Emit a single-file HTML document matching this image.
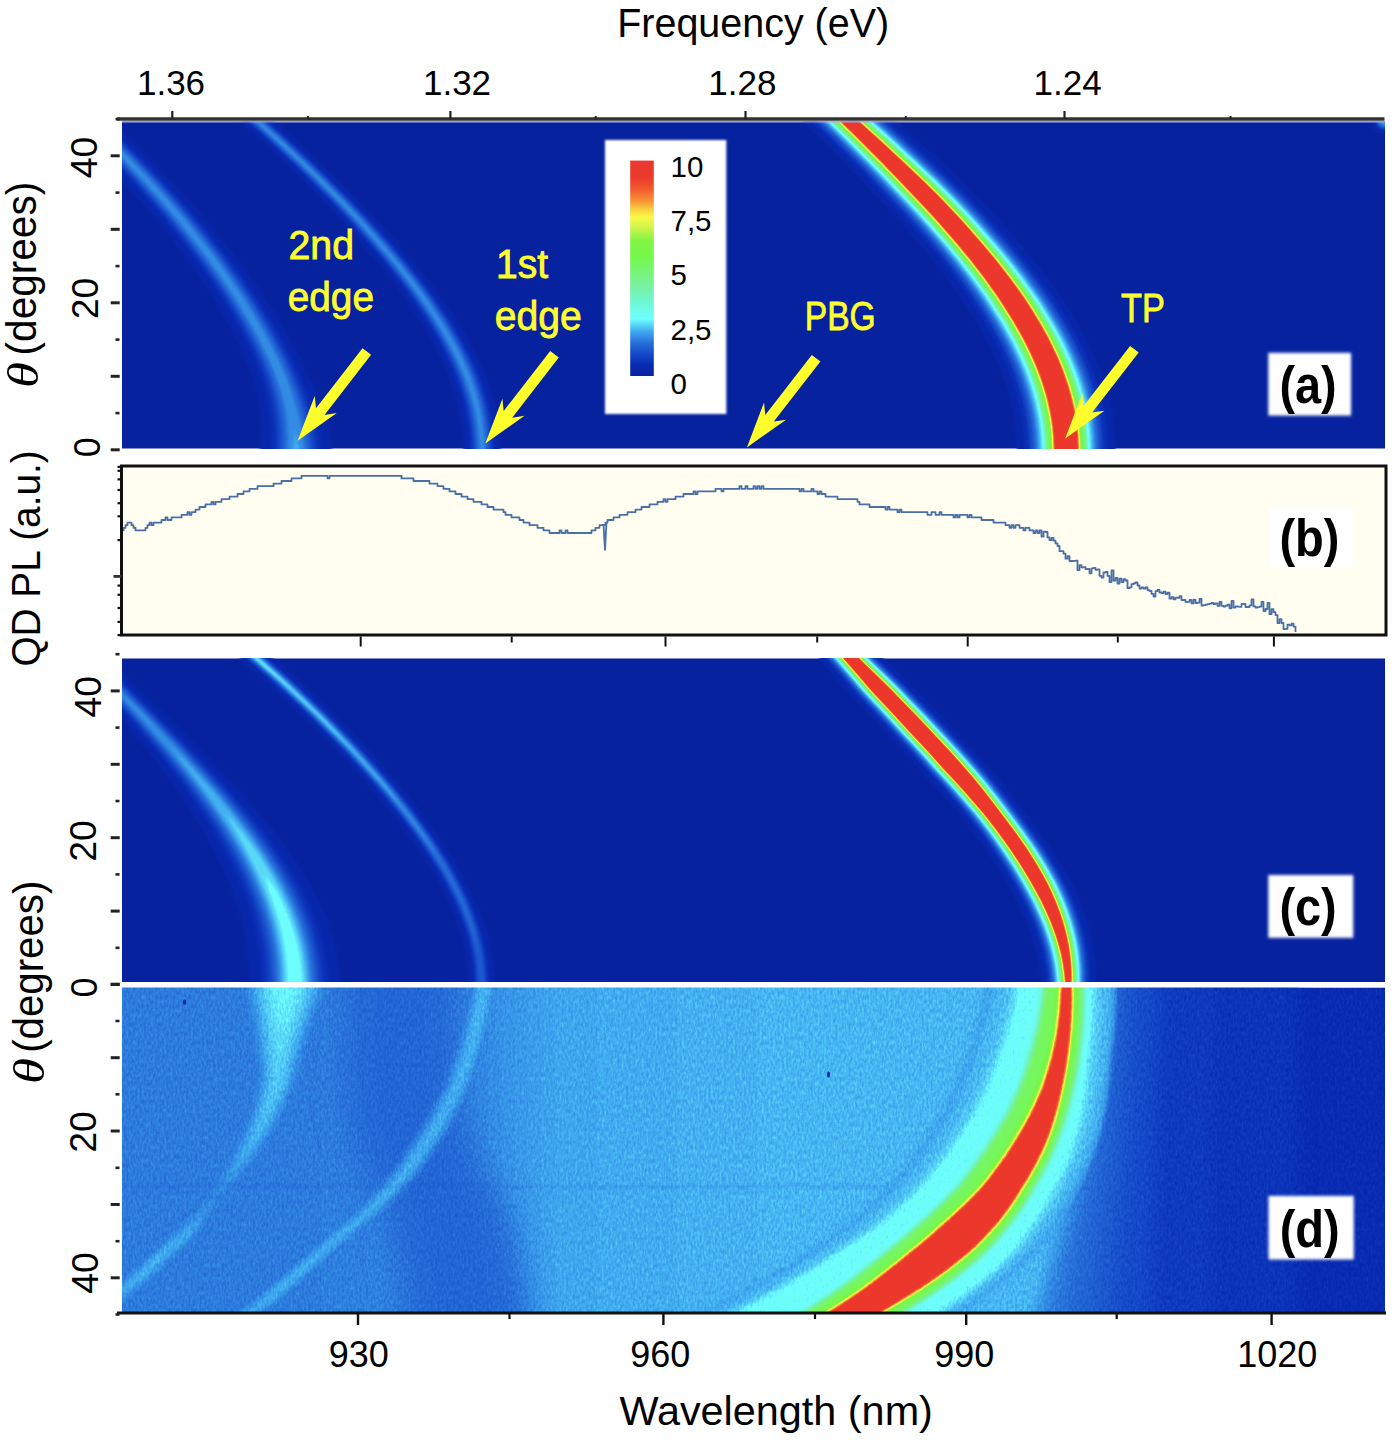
<!DOCTYPE html><html><head><meta charset="utf-8"><title>Figure</title><style>html,body{margin:0;padding:0;background:#fff;}svg{display:block;}</style></head><body><svg width="1395" height="1440" viewBox="0 0 1395 1440"><defs><filter id="jA" filterUnits="userSpaceOnUse" x="122.0" y="121.5" width="1263.0" height="327.0" color-interpolation-filters="sRGB"><feComponentTransfer><feFuncR type="table" tableValues="0.027 0.028 0.029 0.029 0.03 0.031 0.031 0.036 0.043 0.05 0.058 0.065 0.073 0.081 0.092 0.103 0.113 0.124 0.135 0.146 0.157 0.172 0.186 0.201 0.215 0.229 0.244 0.263 0.288 0.312 0.336 0.36 0.385 0.409 0.431 0.431 0.431 0.431 0.431 0.431 0.431 0.431 0.431 0.431 0.434 0.437 0.441 0.444 0.447 0.451 0.454 0.457 0.461 0.463 0.463 0.463 0.463 0.463 0.463 0.463 0.463 0.463 0.463 0.463 0.463 0.463 0.463 0.463 0.463 0.463 0.463 0.463 0.466 0.47 0.475 0.479 0.483 0.487 0.491 0.496 0.5 0.522 0.562 0.603 0.644 0.685 0.725 0.766 0.806 0.833 0.86 0.887 0.914 0.941 0.968 0.98 0.98 0.98 0.98 0.98 0.98 0.98 0.98 0.98 0.979 0.974 0.969 0.965 0.96 0.955 0.951 0.947 0.943 0.939 0.935 0.932 0.928 0.924 0.922 0.922 0.922 0.922 0.922 0.922 0.922 0.922 0.922 0.922 0.922"/><feFuncG type="table" tableValues="0.137 0.142 0.146 0.15 0.154 0.159 0.163 0.176 0.194 0.212 0.231 0.249 0.268 0.287 0.31 0.333 0.356 0.379 0.402 0.425 0.448 0.482 0.515 0.549 0.583 0.616 0.65 0.689 0.734 0.779 0.824 0.869 0.914 0.959 1 0.997 0.995 0.992 0.989 0.986 0.983 0.98 0.977 0.973 0.971 0.968 0.966 0.963 0.961 0.958 0.956 0.953 0.951 0.95 0.951 0.953 0.955 0.956 0.958 0.96 0.961 0.963 0.965 0.966 0.966 0.967 0.968 0.969 0.97 0.971 0.972 0.972 0.972 0.971 0.97 0.969 0.968 0.968 0.967 0.966 0.965 0.964 0.963 0.962 0.961 0.96 0.959 0.958 0.957 0.961 0.964 0.968 0.972 0.975 0.979 0.96 0.923 0.886 0.849 0.811 0.765 0.717 0.669 0.621 0.578 0.546 0.514 0.483 0.451 0.419 0.387 0.363 0.343 0.323 0.303 0.283 0.263 0.243 0.227 0.226 0.225 0.224 0.223 0.221 0.22 0.219 0.218 0.217 0.216"/><feFuncB type="table" tableValues="0.627 0.638 0.65 0.661 0.672 0.683 0.694 0.706 0.72 0.733 0.747 0.76 0.774 0.786 0.796 0.806 0.816 0.826 0.836 0.845 0.855 0.869 0.882 0.895 0.908 0.921 0.935 0.945 0.953 0.961 0.969 0.977 0.985 0.993 0.999 0.982 0.965 0.949 0.932 0.915 0.898 0.881 0.865 0.848 0.828 0.807 0.786 0.765 0.744 0.723 0.702 0.681 0.66 0.639 0.62 0.6 0.58 0.56 0.541 0.521 0.501 0.482 0.462 0.444 0.425 0.407 0.389 0.37 0.352 0.334 0.315 0.297 0.291 0.287 0.283 0.28 0.276 0.272 0.268 0.265 0.261 0.261 0.266 0.271 0.275 0.28 0.285 0.29 0.294 0.292 0.29 0.289 0.287 0.285 0.283 0.279 0.272 0.266 0.259 0.252 0.243 0.232 0.222 0.211 0.203 0.199 0.196 0.192 0.189 0.185 0.182 0.18 0.179 0.178 0.177 0.175 0.174 0.173 0.173 0.173 0.173 0.174 0.174 0.175 0.175 0.175 0.176 0.176 0.176"/></feComponentTransfer></filter><filter id="jC" filterUnits="userSpaceOnUse" x="122.0" y="658.5" width="1263.0" height="323.5" color-interpolation-filters="sRGB"><feComponentTransfer><feFuncR type="table" tableValues="0.027 0.028 0.029 0.029 0.03 0.031 0.031 0.036 0.043 0.05 0.058 0.065 0.073 0.081 0.092 0.103 0.113 0.124 0.135 0.146 0.157 0.172 0.186 0.201 0.215 0.229 0.244 0.263 0.288 0.312 0.336 0.36 0.385 0.409 0.431 0.431 0.431 0.431 0.431 0.431 0.431 0.431 0.431 0.431 0.434 0.437 0.441 0.444 0.447 0.451 0.454 0.457 0.461 0.463 0.463 0.463 0.463 0.463 0.463 0.463 0.463 0.463 0.463 0.463 0.463 0.463 0.463 0.463 0.463 0.463 0.463 0.463 0.466 0.47 0.475 0.479 0.483 0.487 0.491 0.496 0.5 0.522 0.562 0.603 0.644 0.685 0.725 0.766 0.806 0.833 0.86 0.887 0.914 0.941 0.968 0.98 0.98 0.98 0.98 0.98 0.98 0.98 0.98 0.98 0.979 0.974 0.969 0.965 0.96 0.955 0.951 0.947 0.943 0.939 0.935 0.932 0.928 0.924 0.922 0.922 0.922 0.922 0.922 0.922 0.922 0.922 0.922 0.922 0.922"/><feFuncG type="table" tableValues="0.137 0.142 0.146 0.15 0.154 0.159 0.163 0.176 0.194 0.212 0.231 0.249 0.268 0.287 0.31 0.333 0.356 0.379 0.402 0.425 0.448 0.482 0.515 0.549 0.583 0.616 0.65 0.689 0.734 0.779 0.824 0.869 0.914 0.959 1 0.997 0.995 0.992 0.989 0.986 0.983 0.98 0.977 0.973 0.971 0.968 0.966 0.963 0.961 0.958 0.956 0.953 0.951 0.95 0.951 0.953 0.955 0.956 0.958 0.96 0.961 0.963 0.965 0.966 0.966 0.967 0.968 0.969 0.97 0.971 0.972 0.972 0.972 0.971 0.97 0.969 0.968 0.968 0.967 0.966 0.965 0.964 0.963 0.962 0.961 0.96 0.959 0.958 0.957 0.961 0.964 0.968 0.972 0.975 0.979 0.96 0.923 0.886 0.849 0.811 0.765 0.717 0.669 0.621 0.578 0.546 0.514 0.483 0.451 0.419 0.387 0.363 0.343 0.323 0.303 0.283 0.263 0.243 0.227 0.226 0.225 0.224 0.223 0.221 0.22 0.219 0.218 0.217 0.216"/><feFuncB type="table" tableValues="0.627 0.638 0.65 0.661 0.672 0.683 0.694 0.706 0.72 0.733 0.747 0.76 0.774 0.786 0.796 0.806 0.816 0.826 0.836 0.845 0.855 0.869 0.882 0.895 0.908 0.921 0.935 0.945 0.953 0.961 0.969 0.977 0.985 0.993 0.999 0.982 0.965 0.949 0.932 0.915 0.898 0.881 0.865 0.848 0.828 0.807 0.786 0.765 0.744 0.723 0.702 0.681 0.66 0.639 0.62 0.6 0.58 0.56 0.541 0.521 0.501 0.482 0.462 0.444 0.425 0.407 0.389 0.37 0.352 0.334 0.315 0.297 0.291 0.287 0.283 0.28 0.276 0.272 0.268 0.265 0.261 0.261 0.266 0.271 0.275 0.28 0.285 0.29 0.294 0.292 0.29 0.289 0.287 0.285 0.283 0.279 0.272 0.266 0.259 0.252 0.243 0.232 0.222 0.211 0.203 0.199 0.196 0.192 0.189 0.185 0.182 0.18 0.179 0.178 0.177 0.175 0.174 0.173 0.173 0.173 0.173 0.174 0.174 0.175 0.175 0.175 0.176 0.176 0.176"/></feComponentTransfer></filter><filter id="jD" filterUnits="userSpaceOnUse" x="122.0" y="987.5" width="1263.0" height="324.5" color-interpolation-filters="sRGB"><feTurbulence type="fractalNoise" baseFrequency="0.45 0.22" numOctaves="2" seed="4" result="n"/><feColorMatrix in="n" type="matrix" values="1 0 0 0 0 1 0 0 0 0 1 0 0 0 0 0 0 0 0 1" result="ng"/><feComposite in="SourceGraphic" in2="ng" operator="arithmetic" k1="0" k2="1" k3="0.06" k4="-0.03" result="s"/><feComponentTransfer><feFuncR type="table" tableValues="0.027 0.028 0.029 0.029 0.03 0.031 0.031 0.036 0.043 0.05 0.058 0.065 0.073 0.081 0.092 0.103 0.113 0.124 0.135 0.146 0.157 0.172 0.186 0.201 0.215 0.229 0.244 0.263 0.288 0.312 0.336 0.36 0.385 0.409 0.431 0.431 0.431 0.431 0.431 0.431 0.431 0.431 0.431 0.431 0.434 0.437 0.441 0.444 0.447 0.451 0.454 0.457 0.461 0.463 0.463 0.463 0.463 0.463 0.463 0.463 0.463 0.463 0.463 0.463 0.463 0.463 0.463 0.463 0.463 0.463 0.463 0.463 0.466 0.47 0.475 0.479 0.483 0.487 0.491 0.496 0.5 0.522 0.562 0.603 0.644 0.685 0.725 0.766 0.806 0.833 0.86 0.887 0.914 0.941 0.968 0.98 0.98 0.98 0.98 0.98 0.98 0.98 0.98 0.98 0.979 0.974 0.969 0.965 0.96 0.955 0.951 0.947 0.943 0.939 0.935 0.932 0.928 0.924 0.922 0.922 0.922 0.922 0.922 0.922 0.922 0.922 0.922 0.922 0.922"/><feFuncG type="table" tableValues="0.137 0.142 0.146 0.15 0.154 0.159 0.163 0.176 0.194 0.212 0.231 0.249 0.268 0.287 0.31 0.333 0.356 0.379 0.402 0.425 0.448 0.482 0.515 0.549 0.583 0.616 0.65 0.689 0.734 0.779 0.824 0.869 0.914 0.959 1 0.997 0.995 0.992 0.989 0.986 0.983 0.98 0.977 0.973 0.971 0.968 0.966 0.963 0.961 0.958 0.956 0.953 0.951 0.95 0.951 0.953 0.955 0.956 0.958 0.96 0.961 0.963 0.965 0.966 0.966 0.967 0.968 0.969 0.97 0.971 0.972 0.972 0.972 0.971 0.97 0.969 0.968 0.968 0.967 0.966 0.965 0.964 0.963 0.962 0.961 0.96 0.959 0.958 0.957 0.961 0.964 0.968 0.972 0.975 0.979 0.96 0.923 0.886 0.849 0.811 0.765 0.717 0.669 0.621 0.578 0.546 0.514 0.483 0.451 0.419 0.387 0.363 0.343 0.323 0.303 0.283 0.263 0.243 0.227 0.226 0.225 0.224 0.223 0.221 0.22 0.219 0.218 0.217 0.216"/><feFuncB type="table" tableValues="0.627 0.638 0.65 0.661 0.672 0.683 0.694 0.706 0.72 0.733 0.747 0.76 0.774 0.786 0.796 0.806 0.816 0.826 0.836 0.845 0.855 0.869 0.882 0.895 0.908 0.921 0.935 0.945 0.953 0.961 0.969 0.977 0.985 0.993 0.999 0.982 0.965 0.949 0.932 0.915 0.898 0.881 0.865 0.848 0.828 0.807 0.786 0.765 0.744 0.723 0.702 0.681 0.66 0.639 0.62 0.6 0.58 0.56 0.541 0.521 0.501 0.482 0.462 0.444 0.425 0.407 0.389 0.37 0.352 0.334 0.315 0.297 0.291 0.287 0.283 0.28 0.276 0.272 0.268 0.265 0.261 0.261 0.266 0.271 0.275 0.28 0.285 0.29 0.294 0.292 0.29 0.289 0.287 0.285 0.283 0.279 0.272 0.266 0.259 0.252 0.243 0.232 0.222 0.211 0.203 0.199 0.196 0.192 0.189 0.185 0.182 0.18 0.179 0.178 0.177 0.175 0.174 0.173 0.173 0.173 0.173 0.174 0.174 0.175 0.175 0.175 0.176 0.176 0.176"/></feComponentTransfer></filter><filter id="b1" filterUnits="userSpaceOnUse" x="0" y="0" width="1395" height="1440" color-interpolation-filters="sRGB"><feGaussianBlur stdDeviation="1.0"/></filter><filter id="b15" filterUnits="userSpaceOnUse" x="0" y="0" width="1395" height="1440" color-interpolation-filters="sRGB"><feGaussianBlur stdDeviation="1.5"/></filter><filter id="b2" filterUnits="userSpaceOnUse" x="0" y="0" width="1395" height="1440" color-interpolation-filters="sRGB"><feGaussianBlur stdDeviation="2.0"/></filter><filter id="b3" filterUnits="userSpaceOnUse" x="0" y="0" width="1395" height="1440" color-interpolation-filters="sRGB"><feGaussianBlur stdDeviation="3.0"/></filter><filter id="b5" filterUnits="userSpaceOnUse" x="0" y="0" width="1395" height="1440" color-interpolation-filters="sRGB"><feGaussianBlur stdDeviation="5.0"/></filter><filter id="b8" filterUnits="userSpaceOnUse" x="0" y="0" width="1395" height="1440" color-interpolation-filters="sRGB"><feGaussianBlur stdDeviation="8.0"/></filter><filter id="b12" filterUnits="userSpaceOnUse" x="0" y="0" width="1395" height="1440" color-interpolation-filters="sRGB"><feGaussianBlur stdDeviation="12.0"/></filter><linearGradient id="gbase" gradientUnits="userSpaceOnUse" x1="122" y1="0" x2="1000" y2="0"><stop offset="0" stop-color="#2a2a2a"/><stop offset="0.2" stop-color="#2a2a2a"/><stop offset="0.41" stop-color="#2e2e2e"/><stop offset="0.5" stop-color="#343434"/><stop offset="0.77" stop-color="#373737"/><stop offset="1" stop-color="#373737"/></linearGradient><filter id="soft" x="-20%" y="-20%" width="140%" height="140%"><feGaussianBlur stdDeviation="1.6"/></filter><filter id="soft2" x="-20%" y="-20%" width="140%" height="140%"><feGaussianBlur stdDeviation="0.8"/></filter><linearGradient id="cbar" x1="0" y1="1" x2="0" y2="0"><stop offset="0.000" stop-color="rgb(7,35,160)"/><stop offset="0.050" stop-color="rgb(8,42,178)"/><stop offset="0.100" stop-color="rgb(20,72,200)"/><stop offset="0.156" stop-color="rgb(40,114,218)"/><stop offset="0.207" stop-color="rgb(64,170,240)"/><stop offset="0.265" stop-color="rgb(110,255,255)"/><stop offset="0.300" stop-color="rgb(110,252,236)"/><stop offset="0.338" stop-color="rgb(110,248,215)"/><stop offset="0.411" stop-color="rgb(118,242,165)"/><stop offset="0.484" stop-color="rgb(118,246,118)"/><stop offset="0.556" stop-color="rgb(118,248,75)"/><stop offset="0.629" stop-color="rgb(128,246,66)"/><stop offset="0.687" stop-color="rgb(205,244,75)"/><stop offset="0.738" stop-color="rgb(250,250,72)"/><stop offset="0.775" stop-color="rgb(250,205,64)"/><stop offset="0.810" stop-color="rgb(250,150,52)"/><stop offset="0.862" stop-color="rgb(242,96,46)"/><stop offset="0.920" stop-color="rgb(235,58,44)"/><stop offset="1.000" stop-color="rgb(235,55,45)"/></linearGradient></defs><rect width="1395" height="1440" fill="#fff"/><g filter="url(#jA)"><rect x="122.0" y="121.5" width="1263.0" height="327.0" fill="#000"/><g filter="url(#b15)"><path d="M259.1,464.5 259.6,455.6 260.1,446.7 260.9,437.8 261.1,428.9 260.9,420.1 260.2,411.2 259.1,402.3 257.4,393.4 255.3,384.5 252.8,375.6 249.5,366.7 245.8,357.8 241.8,349.0 237.5,340.1 233.0,331.2 228.3,322.3 223.3,313.4 218.1,304.5 212.6,295.6 206.8,286.7 200.8,277.8 194.7,269.0 188.3,260.1 181.8,251.2 175.1,242.3 168.2,233.4 161.1,224.5 153.9,215.6 146.5,206.7 138.9,197.8 131.1,189.0 123.1,180.1 115.0,171.2 106.6,162.3 98.1,153.4 89.4,144.5 80.5,135.6 71.4,126.7 62.0,117.9 52.4,109.0 42.5,100.1 32.4,91.2 22.2,82.3 67.3,82.3 77.5,91.2 87.6,100.1 97.5,109.0 107.1,117.9 116.7,126.7 126.0,135.6 135.2,144.5 144.2,153.4 152.9,162.3 161.5,171.2 169.9,180.1 178.1,189.0 186.2,197.8 194.0,206.7 201.7,215.6 209.2,224.5 216.5,233.4 223.6,242.3 230.6,251.2 237.3,260.1 243.9,269.0 250.4,277.8 256.6,286.7 262.6,295.6 268.5,304.5 274.3,313.4 279.9,322.3 285.2,331.2 290.3,340.1 295.2,349.0 299.8,357.8 304.1,366.7 308.1,375.6 312.3,384.5 316.2,393.4 319.8,402.3 323.0,411.2 325.9,420.1 328.3,428.9 330.3,437.8 331.8,446.7 332.2,455.6 331.6,464.5Z" fill="#080808"/><path d="M268.9,464.5 269.5,455.6 269.8,446.7 270.3,437.8 270.3,428.9 269.8,420.1 268.9,411.2 267.5,402.3 265.6,393.4 263.2,384.5 260.5,375.6 257.0,366.7 253.3,357.8 249.2,349.0 244.9,340.1 240.3,331.2 235.4,322.3 230.4,313.4 225.1,304.5 219.5,295.6 213.7,286.7 207.7,277.8 201.5,269.0 195.1,260.1 188.6,251.2 181.8,242.3 174.9,233.4 167.8,224.5 160.5,215.6 153.1,206.7 145.4,197.8 137.6,189.0 129.6,180.1 121.5,171.2 113.1,162.3 104.5,153.4 95.8,144.5 86.8,135.6 77.7,126.7 68.3,117.9 58.7,109.0 48.8,100.1 38.7,91.2 28.4,82.3 61.0,82.3 71.3,91.2 81.3,100.1 91.2,109.0 100.8,117.9 110.4,126.7 119.7,135.6 128.8,144.5 137.8,153.4 146.5,162.3 155.0,171.2 163.4,180.1 171.6,189.0 179.6,197.8 187.4,206.7 195.0,215.6 202.5,224.5 209.8,233.4 216.9,242.3 223.8,251.2 230.5,260.1 237.1,269.0 243.5,277.8 249.7,286.7 255.7,295.6 261.5,304.5 267.2,313.4 272.7,322.3 278.0,331.2 283.0,340.1 287.8,349.0 292.3,357.8 296.5,366.7 300.4,375.6 304.4,384.5 308.1,393.4 311.3,402.3 314.3,411.2 316.9,420.1 319.1,428.9 320.9,437.8 322.1,446.7 322.4,455.6 321.8,464.5Z" fill="#0f0f0f"/><path d="M274.7,464.5 275.2,455.6 275.6,446.7 275.9,437.8 275.8,428.9 275.2,420.1 274.1,411.2 272.5,402.3 270.4,393.4 267.9,384.5 265.1,375.6 261.6,366.7 257.7,357.8 253.6,349.0 249.2,340.1 244.6,331.2 239.7,322.3 234.6,313.4 229.3,304.5 223.7,295.6 217.8,286.7 211.8,277.8 205.6,269.0 199.2,260.1 192.6,251.2 185.9,242.3 178.9,233.4 171.8,224.5 164.5,215.6 157.0,206.7 149.4,197.8 141.5,189.0 133.5,180.1 125.3,171.2 116.9,162.3 108.4,153.4 99.6,144.5 90.6,135.6 81.4,126.7 72.1,117.9 62.4,109.0 52.6,100.1 42.5,91.2 32.2,82.3 57.2,82.3 67.5,91.2 77.6,100.1 87.4,109.0 97.1,117.9 106.6,126.7 115.9,135.6 125.0,144.5 133.9,153.4 142.6,162.3 151.2,171.2 159.5,180.1 167.7,189.0 175.6,197.8 183.4,206.7 191.1,215.6 198.5,224.5 205.8,233.4 212.8,242.3 219.7,251.2 226.5,260.1 233.0,269.0 239.4,277.8 245.5,286.7 251.5,295.6 257.3,304.5 263.0,313.4 268.4,322.3 273.7,331.2 278.6,340.1 283.4,349.0 287.8,357.8 292.0,366.7 295.9,375.6 299.7,384.5 303.2,393.4 306.3,402.3 309.1,411.2 311.6,420.1 313.7,428.9 315.3,437.8 316.4,446.7 316.6,455.6 316.1,464.5Z" fill="#171717"/><path d="M279.1,464.5 279.6,455.6 279.9,446.7 280.2,437.8 279.9,428.9 279.2,420.1 278.1,411.2 276.4,402.3 274.2,393.4 271.6,384.5 268.6,375.6 265.1,366.7 261.2,357.8 257.1,349.0 252.6,340.1 248.0,331.2 243.0,322.3 237.9,313.4 232.5,304.5 226.9,295.6 221.0,286.7 215.0,277.8 208.8,269.0 202.3,260.1 195.8,251.2 189.0,242.3 182.0,233.4 174.9,224.5 167.6,215.6 160.1,206.7 152.4,197.8 144.6,189.0 136.5,180.1 128.3,171.2 119.9,162.3 111.3,153.4 102.5,144.5 93.5,135.6 84.4,126.7 75.0,117.9 65.3,109.0 55.5,100.1 45.4,91.2 35.1,82.3 54.3,82.3 64.6,91.2 74.7,100.1 84.5,109.0 94.2,117.9 103.7,126.7 113.0,135.6 122.1,144.5 131.0,153.4 139.7,162.3 148.2,171.2 156.5,180.1 164.6,189.0 172.6,197.8 180.4,206.7 188.0,215.6 195.4,224.5 202.6,233.4 209.7,242.3 216.6,251.2 223.3,260.1 229.8,269.0 236.2,277.8 242.3,286.7 248.3,295.6 254.1,304.5 259.7,313.4 265.1,322.3 270.3,331.2 275.2,340.1 279.9,349.0 284.4,357.8 288.5,366.7 292.3,375.6 296.0,384.5 299.4,393.4 302.4,402.3 305.2,411.2 307.6,420.1 309.5,428.9 311.0,437.8 312.0,446.7 312.2,455.6 311.7,464.5Z" fill="#1f1f1f"/><path d="M282.9,464.5 283.5,455.6 283.8,446.7 283.9,437.8 283.6,428.9 282.9,420.1 281.7,411.2 279.9,402.3 277.6,393.4 274.9,384.5 271.8,375.6 268.3,366.7 264.4,357.8 260.2,349.0 255.7,340.1 251.0,331.2 246.0,322.3 240.9,313.4 235.5,304.5 229.8,295.6 223.9,286.7 217.9,277.8 211.6,269.0 205.2,260.1 198.6,251.2 191.8,242.3 184.8,233.4 177.7,224.5 170.4,215.6 162.9,206.7 155.2,197.8 147.3,189.0 139.3,180.1 131.1,171.2 122.6,162.3 114.0,153.4 105.2,144.5 96.2,135.6 87.0,126.7 77.6,117.9 68.0,109.0 58.1,100.1 48.0,91.2 37.8,82.3 51.7,82.3 61.9,91.2 72.0,100.1 81.9,109.0 91.5,117.9 101.0,126.7 110.3,135.6 119.4,144.5 128.2,153.4 136.9,162.3 145.4,171.2 153.8,180.1 161.9,189.0 169.8,197.8 177.6,206.7 185.2,215.6 192.6,224.5 199.8,233.4 206.9,242.3 213.7,251.2 220.4,260.1 226.9,269.0 233.3,277.8 239.4,286.7 245.4,295.6 251.1,304.5 256.7,313.4 262.1,322.3 267.3,331.2 272.2,340.1 276.8,349.0 281.2,357.8 285.3,366.7 289.1,375.6 292.7,384.5 296.0,393.4 298.9,402.3 301.6,411.2 303.9,420.1 305.8,428.9 307.2,437.8 308.2,446.7 308.3,455.6 307.8,464.5Z" fill="#262626"/><path d="M286.8,464.5 287.4,455.6 287.6,446.7 287.8,437.8 287.5,428.9 286.8,420.1 285.6,411.2 283.8,402.3 281.4,393.4 278.6,384.5 275.4,375.6 271.8,366.7 267.8,357.8 263.6,349.0 259.1,340.1 254.4,331.2 249.4,322.3 244.1,313.4 238.7,304.5 233.0,295.6 227.2,286.7 221.1,277.8 214.8,269.0 208.4,260.1 201.8,251.2 195.0,242.3 188.0,233.4 180.8,224.5 173.5,215.6 166.0,206.7 158.3,197.8 150.4,189.0 142.3,180.1 134.1,171.2 125.7,162.3 117.1,153.4 108.2,144.5 99.2,135.6 90.0,126.7 80.6,117.9 70.9,109.0 61.1,100.1 51.0,91.2 40.7,82.3 48.7,82.3 59.0,91.2 69.0,100.1 78.9,109.0 88.6,117.9 98.0,126.7 107.3,135.6 116.4,144.5 125.2,153.4 133.9,162.3 142.4,171.2 150.7,180.1 158.8,189.0 166.7,197.8 174.5,206.7 182.1,215.6 189.5,224.5 196.7,233.4 203.7,242.3 210.6,251.2 217.3,260.1 223.8,269.0 230.1,277.8 236.2,286.7 242.1,295.6 247.9,304.5 253.4,313.4 258.8,322.3 263.9,331.2 268.8,340.1 273.4,349.0 277.7,357.8 281.8,366.7 285.6,375.6 289.1,384.5 292.2,393.4 295.0,402.3 297.7,411.2 300.0,420.1 301.9,428.9 303.3,437.8 304.3,446.7 304.4,455.6 303.9,464.5Z" fill="#2e2e2e"/><path d="M292.3,464.5 292.9,455.6 293.3,446.7 294.3,437.8 294.7,428.9 293.4,420.1 291.6,411.2 289.4,402.3 286.8,393.4 283.8,384.5 280.5,375.6 276.8,366.7 272.8,357.8 268.5,349.0 263.9,340.1 259.1,331.2 254.1,322.3 248.8,313.4 243.3,304.5 237.6,295.6 231.7,286.7 225.6,277.8 219.3,269.0 212.8,260.1 206.2,251.2 199.3,242.3 192.3,233.4 185.1,224.5 177.8,215.6 170.2,206.7 162.5,197.8 154.6,189.0 146.5,180.1 138.2,171.2 129.8,162.3 121.1,153.4 112.3,144.5 103.3,135.6 94.0,126.7 84.6,117.9 74.9,109.0 65.1,100.1 55.0,91.2 44.7,82.3 44.7,82.3 55.0,91.2 65.1,100.1 74.9,109.0 84.6,117.9 94.0,126.7 103.3,135.6 112.3,144.5 121.1,153.4 129.8,162.3 138.2,171.2 146.5,180.1 154.6,189.0 162.5,197.8 170.2,206.7 177.8,215.6 185.1,224.5 192.3,233.4 199.3,242.3 206.2,251.2 212.8,260.1 219.3,269.0 225.6,277.8 231.7,286.7 237.6,295.6 243.3,304.5 248.8,313.4 254.1,322.3 259.1,331.2 263.9,340.1 268.5,349.0 272.8,357.8 276.8,366.7 280.5,375.6 283.8,384.5 286.8,393.4 289.4,402.3 291.6,411.2 293.4,420.1 294.7,428.9 296.9,437.8 298.7,446.7 299.0,455.6 298.4,464.5Z" fill="#363636"/></g><g filter="url(#b15)"><path d="M463.0,464.5 463.5,455.6 463.5,446.7 463.2,437.8 462.4,428.9 461.2,420.1 459.5,411.2 457.4,402.3 454.9,393.4 452.0,384.5 448.7,375.6 445.1,366.7 441.0,357.8 436.7,349.0 432.0,340.1 426.9,331.2 421.6,322.3 415.9,313.4 410.0,304.5 403.8,295.6 397.4,286.7 390.7,277.8 383.7,269.0 376.6,260.1 369.2,251.2 361.6,242.3 353.8,233.4 345.9,224.5 337.7,215.6 329.4,206.7 320.9,197.8 312.2,189.0 303.4,180.1 294.4,171.2 285.3,162.3 276.0,153.4 266.5,144.5 257.0,135.6 247.2,126.7 237.3,117.9 227.3,109.0 217.1,100.1 206.7,91.2 196.2,82.3 228.9,82.3 239.4,91.2 249.8,100.1 260.0,109.0 270.0,117.9 280.0,126.7 289.9,135.6 299.6,144.5 309.2,153.4 318.6,162.3 327.9,171.2 337.0,180.1 346.0,189.0 354.8,197.8 363.4,206.7 371.8,215.6 380.1,224.5 388.2,233.4 396.1,242.3 403.8,251.2 411.3,260.1 418.6,269.0 425.7,277.8 432.5,286.7 439.1,295.6 445.4,304.5 451.5,313.4 457.2,322.3 462.7,331.2 467.9,340.1 472.7,349.0 477.2,357.8 481.4,366.7 485.2,375.6 488.5,384.5 491.5,393.4 494.1,402.3 496.2,411.2 497.9,420.1 499.2,428.9 500.1,437.8 500.5,446.7 500.4,455.6 499.9,464.5Z" fill="#080808"/><path d="M468.2,464.5 468.7,455.6 468.8,446.7 468.4,437.8 467.6,428.9 466.4,420.1 464.7,411.2 462.6,402.3 460.0,393.4 457.1,384.5 453.8,375.6 450.1,366.7 446.1,357.8 441.7,349.0 437.0,340.1 431.9,331.2 426.5,322.3 420.9,313.4 414.9,304.5 408.7,295.6 402.2,286.7 395.5,277.8 388.6,269.0 381.4,260.1 374.0,251.2 366.4,242.3 358.6,233.4 350.6,224.5 342.5,215.6 334.1,206.7 325.6,197.8 316.9,189.0 308.1,180.1 299.1,171.2 289.9,162.3 280.6,153.4 271.1,144.5 261.5,135.6 251.8,126.7 241.9,117.9 231.8,109.0 221.6,100.1 211.2,91.2 200.7,82.3 224.4,82.3 234.9,91.2 245.2,100.1 255.4,109.0 265.5,117.9 275.5,126.7 285.3,135.6 295.0,144.5 304.6,153.4 314.0,162.3 323.2,171.2 332.3,180.1 341.3,189.0 350.0,197.8 358.7,206.7 367.1,215.6 375.4,224.5 383.4,233.4 391.3,242.3 399.0,251.2 406.5,260.1 413.8,269.0 420.8,277.8 427.6,286.7 434.2,295.6 440.5,304.5 446.5,313.4 452.3,322.3 457.7,331.2 462.9,340.1 467.7,349.0 472.2,357.8 476.3,366.7 480.1,375.6 483.4,384.5 486.4,393.4 488.9,402.3 491.1,411.2 492.8,420.1 494.0,428.9 494.9,437.8 495.2,446.7 495.2,455.6 494.7,464.5Z" fill="#0f0f0f"/><path d="M471.3,464.5 471.8,455.6 471.9,446.7 471.5,437.8 470.7,428.9 469.5,420.1 467.8,411.2 465.6,402.3 463.1,393.4 460.2,384.5 456.8,375.6 453.2,366.7 449.1,357.8 444.7,349.0 440.0,340.1 434.9,331.2 429.5,322.3 423.8,313.4 417.9,304.5 411.6,295.6 405.2,286.7 398.4,277.8 391.5,269.0 384.3,260.1 376.9,251.2 369.3,242.3 361.5,233.4 353.5,224.5 345.3,215.6 336.9,206.7 328.4,197.8 319.7,189.0 310.9,180.1 301.8,171.2 292.7,162.3 283.3,153.4 273.9,144.5 264.3,135.6 254.5,126.7 244.6,117.9 234.5,109.0 224.3,100.1 213.9,91.2 203.5,82.3 221.7,82.3 232.2,91.2 242.5,100.1 252.7,109.0 262.8,117.9 272.8,126.7 282.6,135.6 292.3,144.5 301.8,153.4 311.2,162.3 320.5,171.2 329.5,180.1 338.5,189.0 347.2,197.8 355.8,206.7 364.3,215.6 372.5,224.5 380.6,233.4 388.5,242.3 396.1,251.2 403.6,260.1 410.9,269.0 417.9,277.8 424.7,286.7 431.3,295.6 437.5,304.5 443.6,313.4 449.3,322.3 454.8,331.2 459.9,340.1 464.7,349.0 469.2,357.8 473.3,366.7 477.1,375.6 480.4,384.5 483.3,393.4 485.9,402.3 488.0,411.2 489.7,420.1 490.9,428.9 491.7,437.8 492.1,446.7 492.0,455.6 491.5,464.5Z" fill="#171717"/><path d="M473.8,464.5 474.3,455.6 474.4,446.7 474.0,437.8 473.2,428.9 471.9,420.1 470.2,411.2 468.0,402.3 465.5,393.4 462.5,384.5 459.2,375.6 455.5,366.7 451.4,357.8 447.0,349.0 442.3,340.1 437.2,331.2 431.8,322.3 426.1,313.4 420.2,304.5 413.9,295.6 407.4,286.7 400.7,277.8 393.7,269.0 386.5,260.1 379.1,251.2 371.5,242.3 363.7,233.4 355.7,224.5 347.5,215.6 339.1,206.7 330.6,197.8 321.9,189.0 313.0,180.1 304.0,171.2 294.8,162.3 285.5,153.4 276.0,144.5 266.4,135.6 256.6,126.7 246.7,117.9 236.6,109.0 226.4,100.1 216.0,91.2 205.6,82.3 219.6,82.3 230.1,91.2 240.4,100.1 250.6,109.0 260.7,117.9 270.7,126.7 280.5,135.6 290.2,144.5 299.7,153.4 309.1,162.3 318.3,171.2 327.4,180.1 336.3,189.0 345.1,197.8 353.7,206.7 362.1,215.6 370.3,224.5 378.4,233.4 386.2,242.3 393.9,251.2 401.4,260.1 408.6,269.0 415.6,277.8 422.4,286.7 429.0,295.6 435.3,304.5 441.3,313.4 447.0,322.3 452.5,331.2 457.6,340.1 462.4,349.0 466.9,357.8 471.0,366.7 474.7,375.6 478.0,384.5 481.0,393.4 483.5,402.3 485.6,411.2 487.3,420.1 488.5,428.9 489.3,437.8 489.6,446.7 489.6,455.6 489.1,464.5Z" fill="#1f1f1f"/><path d="M476.1,464.5 476.6,455.6 476.7,446.7 476.3,437.8 475.4,428.9 474.1,420.1 472.4,411.2 470.2,402.3 467.7,393.4 464.7,384.5 461.3,375.6 457.6,366.7 453.6,357.8 449.1,349.0 444.4,340.1 439.3,331.2 433.9,322.3 428.2,313.4 422.2,304.5 416.0,295.6 409.5,286.7 402.7,277.8 395.8,269.0 388.6,260.1 381.1,251.2 373.5,242.3 365.7,233.4 357.7,224.5 349.5,215.6 341.1,206.7 332.6,197.8 323.8,189.0 315.0,180.1 305.9,171.2 296.7,162.3 287.4,153.4 277.9,144.5 268.3,135.6 258.5,126.7 248.6,117.9 238.5,109.0 228.3,100.1 217.9,91.2 207.4,82.3 217.7,82.3 228.2,91.2 238.5,100.1 248.7,109.0 258.8,117.9 268.8,126.7 278.6,135.6 288.2,144.5 297.8,153.4 307.1,162.3 316.4,171.2 325.4,180.1 334.3,189.0 343.1,197.8 351.7,206.7 360.1,215.6 368.3,224.5 376.4,233.4 384.2,242.3 391.9,251.2 399.3,260.1 406.6,269.0 413.6,277.8 420.4,286.7 426.9,295.6 433.2,304.5 439.2,313.4 444.9,322.3 450.4,331.2 455.5,340.1 460.3,349.0 464.7,357.8 468.8,366.7 472.6,375.6 475.9,384.5 478.8,393.4 481.3,402.3 483.4,411.2 485.0,420.1 486.2,428.9 487.0,437.8 487.3,446.7 487.3,455.6 486.7,464.5Z" fill="#262626"/><path d="M479.0,464.5 479.5,455.6 479.5,446.7 479.0,437.8 478.1,428.9 476.7,420.1 475.0,411.2 472.8,402.3 470.2,393.4 467.1,384.5 463.7,375.6 460.0,366.7 455.9,357.8 451.5,349.0 446.7,340.1 441.6,331.2 436.2,322.3 430.5,313.4 424.5,304.5 418.3,295.6 411.8,286.7 405.0,277.8 398.0,269.0 390.8,260.1 383.4,251.2 375.7,242.3 367.9,233.4 359.9,224.5 351.7,215.6 343.3,206.7 334.7,197.8 326.0,189.0 317.1,180.1 308.1,171.2 298.9,162.3 289.5,153.4 280.0,144.5 270.4,135.6 260.6,126.7 250.7,117.9 240.6,109.0 230.4,100.1 220.0,91.2 209.5,82.3 215.6,82.3 226.1,91.2 236.4,100.1 246.6,109.0 256.7,117.9 266.7,126.7 276.5,135.6 286.1,144.5 295.6,153.4 305.0,162.3 314.2,171.2 323.3,180.1 332.2,189.0 340.9,197.8 349.5,206.7 357.9,215.6 366.1,224.5 374.1,233.4 382.0,242.3 389.6,251.2 397.1,260.1 404.3,269.0 411.3,277.8 418.1,286.7 424.6,295.6 430.9,304.5 436.9,313.4 442.6,322.3 448.0,331.2 453.1,340.1 457.9,349.0 462.3,357.8 466.4,366.7 470.2,375.6 473.4,384.5 476.3,393.4 478.7,402.3 480.8,411.2 482.4,420.1 483.5,428.9 484.3,437.8 484.5,446.7 484.4,455.6 483.9,464.5Z" fill="#2e2e2e"/></g><g filter="url(#b1)"><path d="M1016.4,464.5 1016.9,455.6 1016.9,446.7 1016.6,437.8 1015.8,428.9 1014.6,420.1 1013.0,411.2 1011.0,402.3 1008.7,393.4 1005.9,384.5 1002.8,375.6 999.4,366.7 995.5,357.8 991.4,349.0 986.9,340.1 982.0,331.2 976.9,322.3 971.4,313.4 965.7,304.5 959.8,295.6 953.5,286.7 947.1,277.8 940.3,269.0 933.4,260.1 926.1,251.2 918.7,242.3 911.0,233.4 903.2,224.5 895.1,215.6 886.9,206.7 878.4,197.8 870.0,189.0 861.6,180.1 853.0,171.2 844.4,162.3 835.6,153.4 826.7,144.5 817.7,135.6 808.6,126.7 799.4,117.9 789.8,109.0 780.2,100.1 770.5,91.2 760.8,82.3 853.8,82.3 863.5,91.2 873.2,100.1 882.8,109.0 892.4,117.9 902.2,126.7 912.0,135.6 921.8,144.5 931.4,153.4 940.9,162.3 950.3,171.2 959.6,180.1 968.7,189.0 977.5,197.8 986.0,206.7 994.3,215.6 1002.5,224.5 1010.4,233.4 1018.1,242.3 1025.7,251.2 1033.0,260.1 1040.0,269.0 1046.8,277.8 1053.4,286.7 1059.7,295.6 1065.7,304.5 1071.3,313.4 1076.6,322.3 1081.7,331.2 1086.4,340.1 1090.7,349.0 1094.8,357.8 1098.5,366.7 1101.8,375.6 1104.9,384.5 1107.5,393.4 1109.8,402.3 1111.7,411.2 1113.2,420.1 1114.3,428.9 1115.1,437.8 1115.4,446.7 1115.3,455.6 1114.8,464.5Z" fill="#080808"/><path d="M1023.4,464.5 1023.9,455.6 1023.9,446.7 1023.6,437.8 1022.8,428.9 1021.6,420.1 1020.0,411.2 1018.0,402.3 1015.7,393.4 1012.9,384.5 1009.8,375.6 1006.4,366.7 1002.5,357.8 998.4,349.0 993.9,340.1 989.0,331.2 983.9,322.3 978.4,313.4 972.7,304.5 966.8,295.6 960.5,286.7 954.1,277.8 947.3,269.0 940.4,260.1 933.1,251.2 925.7,242.3 918.0,233.4 910.2,224.5 902.1,215.6 893.9,206.7 885.4,197.8 877.0,189.0 868.6,180.1 860.0,171.2 851.4,162.3 842.6,153.4 833.7,144.5 824.7,135.6 815.6,126.7 806.4,117.9 796.8,109.0 787.2,100.1 777.5,91.2 767.8,82.3 846.8,82.3 856.5,91.2 866.2,100.1 875.8,109.0 885.4,117.9 895.2,126.7 905.0,135.6 914.8,144.5 924.4,153.4 933.9,162.3 943.3,171.2 952.6,180.1 961.7,189.0 970.5,197.8 979.0,206.7 987.3,215.6 995.5,224.5 1003.4,233.4 1011.1,242.3 1018.7,251.2 1026.0,260.1 1033.0,269.0 1039.8,277.8 1046.4,286.7 1052.7,295.6 1058.7,304.5 1064.3,313.4 1069.6,322.3 1074.7,331.2 1079.4,340.1 1083.7,349.0 1087.8,357.8 1091.5,366.7 1094.8,375.6 1097.9,384.5 1100.5,393.4 1102.8,402.3 1104.7,411.2 1106.2,420.1 1107.3,428.9 1108.1,437.8 1108.4,446.7 1108.3,455.6 1107.8,464.5Z" fill="#0f0f0f"/><path d="M1028.9,464.5 1029.4,455.6 1029.4,446.7 1029.1,437.8 1028.3,428.9 1027.1,420.1 1025.5,411.2 1023.5,402.3 1021.2,393.4 1018.4,384.5 1015.3,375.6 1011.9,366.7 1008.0,357.8 1003.9,349.0 999.4,340.1 994.5,331.2 989.4,322.3 983.9,313.4 978.2,304.5 972.3,295.6 966.0,286.7 959.6,277.8 952.8,269.0 945.9,260.1 938.6,251.2 931.2,242.3 923.5,233.4 915.7,224.5 907.6,215.6 899.4,206.7 890.9,197.8 882.5,189.0 874.1,180.1 865.5,171.2 856.9,162.3 848.1,153.4 839.2,144.5 830.2,135.6 821.1,126.7 811.9,117.9 802.3,109.0 792.7,100.1 783.0,91.2 773.3,82.3 841.3,82.3 851.0,91.2 860.7,100.1 870.3,109.0 879.9,117.9 889.7,126.7 899.5,135.6 909.3,144.5 918.9,153.4 928.4,162.3 937.8,171.2 947.1,180.1 956.2,189.0 965.0,197.8 973.5,206.7 981.8,215.6 990.0,224.5 997.9,233.4 1005.6,242.3 1013.2,251.2 1020.5,260.1 1027.5,269.0 1034.3,277.8 1040.9,286.7 1047.2,295.6 1053.2,304.5 1058.8,313.4 1064.1,322.3 1069.2,331.2 1073.9,340.1 1078.2,349.0 1082.3,357.8 1086.0,366.7 1089.3,375.6 1092.4,384.5 1095.0,393.4 1097.3,402.3 1099.2,411.2 1100.7,420.1 1101.8,428.9 1102.6,437.8 1102.9,446.7 1102.8,455.6 1102.3,464.5Z" fill="#1a1a1a"/><path d="M1032.9,464.5 1033.4,455.6 1033.4,446.7 1033.1,437.8 1032.3,428.9 1031.1,420.1 1029.5,411.2 1027.5,402.3 1025.2,393.4 1022.4,384.5 1019.3,375.6 1015.9,366.7 1012.0,357.8 1007.9,349.0 1003.4,340.1 998.5,331.2 993.4,322.3 987.9,313.4 982.2,304.5 976.3,295.6 970.0,286.7 963.6,277.8 956.8,269.0 949.9,260.1 942.6,251.2 935.2,242.3 927.5,233.4 919.7,224.5 911.6,215.6 903.4,206.7 894.9,197.8 886.5,189.0 878.1,180.1 869.5,171.2 860.9,162.3 852.1,153.4 843.2,144.5 834.2,135.6 825.1,126.7 815.9,117.9 806.3,109.0 796.7,100.1 787.0,91.2 777.3,82.3 837.3,82.3 847.0,91.2 856.7,100.1 866.3,109.0 875.9,117.9 885.7,126.7 895.5,135.6 905.3,144.5 914.9,153.4 924.4,162.3 933.8,171.2 943.1,180.1 952.2,189.0 961.0,197.8 969.5,206.7 977.8,215.6 986.0,224.5 993.9,233.4 1001.6,242.3 1009.2,251.2 1016.5,260.1 1023.5,269.0 1030.3,277.8 1036.9,286.7 1043.2,295.6 1049.2,304.5 1054.8,313.4 1060.1,322.3 1065.2,331.2 1069.9,340.1 1074.2,349.0 1078.3,357.8 1082.0,366.7 1085.3,375.6 1088.4,384.5 1091.0,393.4 1093.3,402.3 1095.2,411.2 1096.7,420.1 1097.8,428.9 1098.6,437.8 1098.9,446.7 1098.8,455.6 1098.3,464.5Z" fill="#242424"/><path d="M1035.9,464.5 1036.4,455.6 1036.4,446.7 1036.1,437.8 1035.3,428.9 1034.1,420.1 1032.5,411.2 1030.5,402.3 1028.2,393.4 1025.4,384.5 1022.3,375.6 1018.9,366.7 1015.0,357.8 1010.9,349.0 1006.4,340.1 1001.5,331.2 996.4,322.3 990.9,313.4 985.2,304.5 979.3,295.6 973.0,286.7 966.6,277.8 959.8,269.0 952.9,260.1 945.6,251.2 938.2,242.3 930.5,233.4 922.7,224.5 914.6,215.6 906.4,206.7 897.9,197.8 889.5,189.0 881.1,180.1 872.5,171.2 863.9,162.3 855.1,153.4 846.2,144.5 837.2,135.6 828.1,126.7 818.9,117.9 809.3,109.0 799.7,100.1 790.0,91.2 780.3,82.3 834.3,82.3 844.0,91.2 853.7,100.1 863.3,109.0 872.9,117.9 882.7,126.7 892.5,135.6 902.3,144.5 911.9,153.4 921.4,162.3 930.8,171.2 940.1,180.1 949.2,189.0 958.0,197.8 966.5,206.7 974.8,215.6 983.0,224.5 990.9,233.4 998.6,242.3 1006.2,251.2 1013.5,260.1 1020.5,269.0 1027.3,277.8 1033.9,286.7 1040.2,295.6 1046.2,304.5 1051.8,313.4 1057.1,322.3 1062.2,331.2 1066.9,340.1 1071.2,349.0 1075.3,357.8 1079.0,366.7 1082.3,375.6 1085.4,384.5 1088.0,393.4 1090.3,402.3 1092.2,411.2 1093.7,420.1 1094.8,428.9 1095.6,437.8 1095.9,446.7 1095.8,455.6 1095.3,464.5Z" fill="#2e2e2e"/><path d="M1038.4,464.5 1038.9,455.6 1038.9,446.7 1038.6,437.8 1037.8,428.9 1036.6,420.1 1035.0,411.2 1033.0,402.3 1030.7,393.4 1027.9,384.5 1024.8,375.6 1021.4,366.7 1017.5,357.8 1013.4,349.0 1008.9,340.1 1004.0,331.2 998.9,322.3 993.4,313.4 987.7,304.5 981.8,295.6 975.5,286.7 969.1,277.8 962.3,269.0 955.4,260.1 948.1,251.2 940.7,242.3 933.0,233.4 925.2,224.5 917.1,215.6 908.9,206.7 900.4,197.8 892.0,189.0 883.6,180.1 875.0,171.2 866.4,162.3 857.6,153.4 848.7,144.5 839.7,135.6 830.6,126.7 821.4,117.9 811.8,109.0 802.2,100.1 792.5,91.2 782.8,82.3 831.8,82.3 841.5,91.2 851.2,100.1 860.8,109.0 870.4,117.9 880.2,126.7 890.0,135.6 899.8,144.5 909.4,153.4 918.9,162.3 928.3,171.2 937.6,180.1 946.7,189.0 955.5,197.8 964.0,206.7 972.3,215.6 980.5,224.5 988.4,233.4 996.1,242.3 1003.7,251.2 1011.0,260.1 1018.0,269.0 1024.8,277.8 1031.4,286.7 1037.7,295.6 1043.7,304.5 1049.3,313.4 1054.6,322.3 1059.7,331.2 1064.4,340.1 1068.7,349.0 1072.8,357.8 1076.5,366.7 1079.8,375.6 1082.9,384.5 1085.5,393.4 1087.8,402.3 1089.7,411.2 1091.2,420.1 1092.3,428.9 1093.1,437.8 1093.4,446.7 1093.3,455.6 1092.8,464.5Z" fill="#383838"/><path d="M1040.9,464.5 1041.4,455.6 1041.4,446.7 1041.1,437.8 1040.3,428.9 1039.1,420.1 1037.5,411.2 1035.5,402.3 1033.2,393.4 1030.4,384.5 1027.3,375.6 1023.9,366.7 1020.0,357.8 1015.9,349.0 1011.4,340.1 1006.5,331.2 1001.4,322.3 995.9,313.4 990.2,304.5 984.3,295.6 978.0,286.7 971.6,277.8 964.8,269.0 957.9,260.1 950.6,251.2 943.2,242.3 935.5,233.4 927.7,224.5 919.6,215.6 911.4,206.7 902.9,197.8 894.5,189.0 886.1,180.1 877.5,171.2 868.9,162.3 860.1,153.4 851.2,144.5 842.2,135.6 833.1,126.7 823.9,117.9 814.3,109.0 804.7,100.1 795.0,91.2 785.3,82.3 829.3,82.3 839.0,91.2 848.7,100.1 858.3,109.0 867.9,117.9 877.7,126.7 887.5,135.6 897.3,144.5 906.9,153.4 916.4,162.3 925.8,171.2 935.1,180.1 944.2,189.0 953.0,197.8 961.5,206.7 969.8,215.6 978.0,224.5 985.9,233.4 993.6,242.3 1001.2,251.2 1008.5,260.1 1015.5,269.0 1022.3,277.8 1028.9,286.7 1035.2,295.6 1041.2,304.5 1046.8,313.4 1052.1,322.3 1057.2,331.2 1061.9,340.1 1066.2,349.0 1070.3,357.8 1074.0,366.7 1077.3,375.6 1080.4,384.5 1083.0,393.4 1085.3,402.3 1087.2,411.2 1088.7,420.1 1089.8,428.9 1090.6,437.8 1090.9,446.7 1090.8,455.6 1090.3,464.5Z" fill="#424242"/><path d="M1043.4,464.5 1043.9,455.6 1043.9,446.7 1043.6,437.8 1042.8,428.9 1041.6,420.1 1040.0,411.2 1038.0,402.3 1035.7,393.4 1032.9,384.5 1029.8,375.6 1026.4,366.7 1022.5,357.8 1018.4,349.0 1013.9,340.1 1009.0,331.2 1003.9,322.3 998.4,313.4 992.7,304.5 986.8,295.6 980.5,286.7 974.1,277.8 967.3,269.0 960.4,260.1 953.1,251.2 945.7,242.3 938.0,233.4 930.2,224.5 922.1,215.6 913.9,206.7 905.4,197.8 897.0,189.0 888.6,180.1 880.0,171.2 871.4,162.3 862.6,153.4 853.7,144.5 844.7,135.6 835.6,126.7 826.4,117.9 816.8,109.0 807.2,100.1 797.5,91.2 787.8,82.3 826.8,82.3 836.5,91.2 846.2,100.1 855.8,109.0 865.4,117.9 875.2,126.7 885.0,135.6 894.8,144.5 904.4,153.4 913.9,162.3 923.3,171.2 932.6,180.1 941.7,189.0 950.5,197.8 959.0,206.7 967.3,215.6 975.5,224.5 983.4,233.4 991.1,242.3 998.7,251.2 1006.0,260.1 1013.0,269.0 1019.8,277.8 1026.4,286.7 1032.7,295.6 1038.7,304.5 1044.3,313.4 1049.6,322.3 1054.7,331.2 1059.4,340.1 1063.7,349.0 1067.8,357.8 1071.5,366.7 1074.8,375.6 1077.9,384.5 1080.5,393.4 1082.8,402.3 1084.7,411.2 1086.2,420.1 1087.3,428.9 1088.1,437.8 1088.4,446.7 1088.3,455.6 1087.8,464.5Z" fill="#4c4c4c"/><path d="M1044.4,464.5 1044.9,455.6 1044.9,446.7 1044.6,437.8 1043.8,428.9 1042.6,420.1 1041.0,411.2 1039.0,402.3 1036.7,393.4 1033.9,384.5 1030.8,375.6 1027.4,366.7 1023.5,357.8 1019.4,349.0 1014.9,340.1 1010.0,331.2 1004.9,322.3 999.4,313.4 993.7,304.5 987.8,295.6 981.5,286.7 975.1,277.8 968.3,269.0 961.4,260.1 954.1,251.2 946.7,242.3 939.0,233.4 931.2,224.5 923.1,215.6 914.9,206.7 906.4,197.8 898.0,189.0 889.6,180.1 881.0,171.2 872.4,162.3 863.6,153.4 854.7,144.5 845.7,135.6 836.6,126.7 827.4,117.9 817.8,109.0 808.2,100.1 798.5,91.2 788.8,82.3 825.8,82.3 835.5,91.2 845.2,100.1 854.8,109.0 864.4,117.9 874.2,126.7 884.0,135.6 893.8,144.5 903.4,153.4 912.9,162.3 922.3,171.2 931.6,180.1 940.7,189.0 949.5,197.8 958.0,206.7 966.3,215.6 974.5,224.5 982.4,233.4 990.1,242.3 997.7,251.2 1005.0,260.1 1012.0,269.0 1018.8,277.8 1025.4,286.7 1031.7,295.6 1037.7,304.5 1043.3,313.4 1048.6,322.3 1053.7,331.2 1058.4,340.1 1062.7,349.0 1066.8,357.8 1070.5,366.7 1073.8,375.6 1076.9,384.5 1079.5,393.4 1081.8,402.3 1083.7,411.2 1085.2,420.1 1086.3,428.9 1087.1,437.8 1087.4,446.7 1087.3,455.6 1086.8,464.5Z" fill="#5c5c5c"/><path d="M1045.4,464.5 1045.9,455.6 1045.9,446.7 1045.6,437.8 1044.8,428.9 1043.6,420.1 1042.0,411.2 1040.0,402.3 1037.7,393.4 1034.9,384.5 1031.8,375.6 1028.4,366.7 1024.5,357.8 1020.4,349.0 1015.9,340.1 1011.0,331.2 1005.9,322.3 1000.4,313.4 994.7,304.5 988.8,295.6 982.5,286.7 976.1,277.8 969.3,269.0 962.4,260.1 955.1,251.2 947.7,242.3 940.0,233.4 932.2,224.5 924.1,215.6 915.9,206.7 907.4,197.8 899.0,189.0 890.6,180.1 882.0,171.2 873.4,162.3 864.6,153.4 855.7,144.5 846.7,135.6 837.6,126.7 828.4,117.9 818.8,109.0 809.2,100.1 799.5,91.2 789.8,82.3 824.8,82.3 834.5,91.2 844.2,100.1 853.8,109.0 863.4,117.9 873.2,126.7 883.0,135.6 892.8,144.5 902.4,153.4 911.9,162.3 921.3,171.2 930.6,180.1 939.7,189.0 948.5,197.8 957.0,206.7 965.3,215.6 973.5,224.5 981.4,233.4 989.1,242.3 996.7,251.2 1004.0,260.1 1011.0,269.0 1017.8,277.8 1024.4,286.7 1030.7,295.6 1036.7,304.5 1042.3,313.4 1047.6,322.3 1052.7,331.2 1057.4,340.1 1061.7,349.0 1065.8,357.8 1069.5,366.7 1072.8,375.6 1075.9,384.5 1078.5,393.4 1080.8,402.3 1082.7,411.2 1084.2,420.1 1085.3,428.9 1086.1,437.8 1086.4,446.7 1086.3,455.6 1085.8,464.5Z" fill="#737373"/><path d="M1046.4,464.5 1046.9,455.6 1046.9,446.7 1046.6,437.8 1045.8,428.9 1044.6,420.1 1043.0,411.2 1041.0,402.3 1038.7,393.4 1035.9,384.5 1032.8,375.6 1029.4,366.7 1025.5,357.8 1021.4,349.0 1016.9,340.1 1012.0,331.2 1006.9,322.3 1001.4,313.4 995.7,304.5 989.8,295.6 983.5,286.7 977.1,277.8 970.3,269.0 963.4,260.1 956.1,251.2 948.7,242.3 941.0,233.4 933.2,224.5 925.1,215.6 916.9,206.7 908.4,197.8 900.0,189.0 891.6,180.1 883.0,171.2 874.4,162.3 865.6,153.4 856.7,144.5 847.7,135.6 838.6,126.7 829.4,117.9 819.8,109.0 810.2,100.1 800.5,91.2 790.8,82.3 823.8,82.3 833.5,91.2 843.2,100.1 852.8,109.0 862.4,117.9 872.2,126.7 882.0,135.6 891.8,144.5 901.4,153.4 910.9,162.3 920.3,171.2 929.6,180.1 938.7,189.0 947.5,197.8 956.0,206.7 964.3,215.6 972.5,224.5 980.4,233.4 988.1,242.3 995.7,251.2 1003.0,260.1 1010.0,269.0 1016.8,277.8 1023.4,286.7 1029.7,295.6 1035.7,304.5 1041.3,313.4 1046.6,322.3 1051.7,331.2 1056.4,340.1 1060.7,349.0 1064.8,357.8 1068.5,366.7 1071.8,375.6 1074.9,384.5 1077.5,393.4 1079.8,402.3 1081.7,411.2 1083.2,420.1 1084.3,428.9 1085.1,437.8 1085.4,446.7 1085.3,455.6 1084.8,464.5Z" fill="#808080"/><path d="M1049.4,464.5 1049.9,455.6 1049.9,446.7 1049.6,437.8 1048.8,428.9 1047.6,420.1 1046.0,411.2 1044.0,402.3 1041.7,393.4 1038.9,384.5 1035.8,375.6 1032.4,366.7 1028.5,357.8 1024.4,349.0 1019.9,340.1 1015.0,331.2 1009.9,322.3 1004.4,313.4 998.7,304.5 992.8,295.6 986.5,286.7 980.1,277.8 973.3,269.0 966.4,260.1 959.1,251.2 951.7,242.3 944.0,233.4 936.2,224.5 928.1,215.6 919.9,206.7 911.4,197.8 903.0,189.0 894.6,180.1 886.0,171.2 877.4,162.3 868.6,153.4 859.7,144.5 850.7,135.6 841.6,126.7 832.4,117.9 822.8,109.0 813.2,100.1 803.5,91.2 793.8,82.3 820.8,82.3 830.5,91.2 840.2,100.1 849.8,109.0 859.4,117.9 869.2,126.7 879.0,135.6 888.8,144.5 898.4,153.4 907.9,162.3 917.3,171.2 926.6,180.1 935.7,189.0 944.5,197.8 953.0,206.7 961.3,215.6 969.5,224.5 977.4,233.4 985.1,242.3 992.7,251.2 1000.0,260.1 1007.0,269.0 1013.8,277.8 1020.4,286.7 1026.7,295.6 1032.7,304.5 1038.3,313.4 1043.6,322.3 1048.7,331.2 1053.4,340.1 1057.7,349.0 1061.8,357.8 1065.5,366.7 1068.8,375.6 1071.9,384.5 1074.5,393.4 1076.8,402.3 1078.7,411.2 1080.2,420.1 1081.3,428.9 1082.1,437.8 1082.4,446.7 1082.3,455.6 1081.8,464.5Z" fill="#999999"/><path d="M1051.6,464.5 1052.1,455.6 1052.1,446.7 1051.8,437.8 1051.0,428.9 1049.8,420.1 1048.2,411.2 1046.2,402.3 1043.9,393.4 1041.1,384.5 1038.0,375.6 1034.6,366.7 1030.7,357.8 1026.6,349.0 1022.1,340.1 1017.2,331.2 1012.1,322.3 1006.6,313.4 1000.9,304.5 995.0,295.6 988.7,286.7 982.3,277.8 975.5,269.0 968.6,260.1 961.3,251.2 953.9,242.3 946.2,233.4 938.4,224.5 930.3,215.6 922.1,206.7 913.6,197.8 905.2,189.0 896.8,180.1 888.2,171.2 879.6,162.3 870.8,153.4 861.9,144.5 852.9,135.6 843.8,126.7 834.6,117.9 825.0,109.0 815.4,100.1 805.7,91.2 796.0,82.3 818.6,82.3 828.3,91.2 838.0,100.1 847.6,109.0 857.2,117.9 867.0,126.7 876.8,135.6 886.6,144.5 896.2,153.4 905.7,162.3 915.1,171.2 924.4,180.1 933.5,189.0 942.3,197.8 950.8,206.7 959.1,215.6 967.3,224.5 975.2,233.4 982.9,242.3 990.5,251.2 997.8,260.1 1004.8,269.0 1011.6,277.8 1018.2,286.7 1024.5,295.6 1030.5,304.5 1036.1,313.4 1041.4,322.3 1046.5,331.2 1051.2,340.1 1055.5,349.0 1059.6,357.8 1063.3,366.7 1066.6,375.6 1069.7,384.5 1072.3,393.4 1074.6,402.3 1076.5,411.2 1078.0,420.1 1079.1,428.9 1079.9,437.8 1080.2,446.7 1080.1,455.6 1079.6,464.5Z" fill="#bdbdbd"/><path d="M1053.4,464.5 1053.9,455.6 1053.9,446.7 1053.6,437.8 1052.8,428.9 1051.6,420.1 1050.0,411.2 1048.0,402.3 1045.7,393.4 1042.9,384.5 1039.8,375.6 1036.4,366.7 1032.5,357.8 1028.4,349.0 1023.9,340.1 1019.0,331.2 1013.9,322.3 1008.4,313.4 1002.7,304.5 996.8,295.6 990.5,286.7 984.1,277.8 977.3,269.0 970.4,260.1 963.1,251.2 955.7,242.3 948.0,233.4 940.2,224.5 932.1,215.6 923.9,206.7 915.4,197.8 907.0,189.0 898.6,180.1 890.0,171.2 881.4,162.3 872.6,153.4 863.7,144.5 854.7,135.6 845.6,126.7 836.4,117.9 826.8,109.0 817.2,100.1 807.5,91.2 797.8,82.3 816.8,82.3 826.5,91.2 836.2,100.1 845.8,109.0 855.4,117.9 865.2,126.7 875.0,135.6 884.8,144.5 894.4,153.4 903.9,162.3 913.3,171.2 922.6,180.1 931.7,189.0 940.5,197.8 949.0,206.7 957.3,215.6 965.5,224.5 973.4,233.4 981.1,242.3 988.7,251.2 996.0,260.1 1003.0,269.0 1009.8,277.8 1016.4,286.7 1022.7,295.6 1028.7,304.5 1034.3,313.4 1039.6,322.3 1044.7,331.2 1049.4,340.1 1053.7,349.0 1057.8,357.8 1061.5,366.7 1064.8,375.6 1067.9,384.5 1070.5,393.4 1072.8,402.3 1074.7,411.2 1076.2,420.1 1077.3,428.9 1078.1,437.8 1078.4,446.7 1078.3,455.6 1077.8,464.5Z" fill="#ebebeb"/><path d="M1055.4,464.5 1055.9,455.6 1055.9,446.7 1055.6,437.8 1054.8,428.9 1053.6,420.1 1052.0,411.2 1050.0,402.3 1047.7,393.4 1044.9,384.5 1041.8,375.6 1038.4,366.7 1034.5,357.8 1030.4,349.0 1025.9,340.1 1021.0,331.2 1015.9,322.3 1010.4,313.4 1004.7,304.5 998.8,295.6 992.5,286.7 986.1,277.8 979.3,269.0 972.4,260.1 965.1,251.2 957.7,242.3 950.0,233.4 942.2,224.5 934.1,215.6 925.9,206.7 917.4,197.8 909.0,189.0 900.6,180.1 892.0,171.2 883.4,162.3 874.6,153.4 865.7,144.5 856.7,135.6 847.6,126.7 838.4,117.9 828.8,109.0 819.2,100.1 809.5,91.2 799.8,82.3 814.8,82.3 824.5,91.2 834.2,100.1 843.8,109.0 853.4,117.9 863.2,126.7 873.0,135.6 882.8,144.5 892.4,153.4 901.9,162.3 911.3,171.2 920.6,180.1 929.7,189.0 938.5,197.8 947.0,206.7 955.3,215.6 963.5,224.5 971.4,233.4 979.1,242.3 986.7,251.2 994.0,260.1 1001.0,269.0 1007.8,277.8 1014.4,286.7 1020.7,295.6 1026.7,304.5 1032.3,313.4 1037.6,322.3 1042.7,331.2 1047.4,340.1 1051.7,349.0 1055.8,357.8 1059.5,366.7 1062.8,375.6 1065.9,384.5 1068.5,393.4 1070.8,402.3 1072.7,411.2 1074.2,420.1 1075.3,428.9 1076.1,437.8 1076.4,446.7 1076.3,455.6 1075.8,464.5Z" fill="#ffffff"/></g><ellipse cx="1386" cy="122" rx="10" ry="7" fill="#333333" filter="url(#b3)"/></g><g filter="url(#jC)"><rect x="122.0" y="658.5" width="1263.0" height="323.5" fill="#000"/><g filter="url(#b15)"><path d="M248.7,999.2 249.2,990.3 249.4,981.4 249.5,972.6 249.1,963.7 248.4,954.8 247.3,945.9 245.8,937.0 243.9,928.2 241.7,919.3 239.1,910.4 236.3,901.5 233.2,892.7 229.8,883.8 226.1,874.9 222.1,866.0 217.7,857.2 213.1,848.3 208.1,839.4 203.2,830.5 198.0,821.7 192.6,812.8 187.0,803.9 181.1,795.0 175.0,786.1 168.6,777.3 162.1,768.4 155.3,759.5 148.3,750.6 141.0,741.8 133.7,732.9 126.2,724.0 118.6,715.1 110.9,706.3 103.1,697.4 95.0,688.5 86.3,679.6 77.6,670.8 68.9,661.9 60.1,653.0 51.3,644.1 42.5,635.3 33.7,626.4 25.0,617.5 66.8,617.5 75.6,626.4 84.4,635.3 93.2,644.1 101.9,653.0 110.7,661.9 119.5,670.8 128.2,679.6 136.9,688.5 146.0,697.4 155.3,706.3 164.5,715.1 173.6,724.0 182.6,732.9 191.5,741.8 200.3,750.6 208.9,759.5 217.4,768.4 226.0,777.3 234.3,786.1 242.5,795.0 250.4,803.9 258.1,812.8 265.6,821.7 272.9,830.5 279.8,839.4 286.3,848.3 292.4,857.2 298.3,866.0 303.8,874.9 309.1,883.8 314.0,892.7 318.5,901.5 322.6,910.4 326.2,919.3 329.4,928.2 332.3,937.0 334.7,945.9 336.7,954.8 338.3,963.7 339.5,972.6 340.3,981.4 340.4,990.3 339.9,999.2Z" fill="#080808"/><path d="M259.8,999.2 260.3,990.3 260.5,981.4 260.5,972.6 260.1,963.7 259.2,954.8 258.0,945.9 256.4,937.0 254.4,928.2 252.1,919.3 249.4,910.4 246.5,901.5 243.2,892.7 239.7,883.8 235.9,874.9 231.7,866.0 227.2,857.2 222.4,848.3 217.3,839.4 212.2,830.5 206.8,821.7 201.2,812.8 195.3,803.9 189.2,795.0 182.8,786.1 176.3,777.3 169.6,768.4 162.6,759.5 155.3,750.6 147.9,741.8 140.4,732.9 132.7,724.0 125.0,715.1 117.1,706.3 109.1,697.4 100.9,688.5 92.2,679.6 83.5,670.8 74.8,661.9 66.0,653.0 57.2,644.1 48.4,635.3 39.6,626.4 30.9,617.5 60.9,617.5 69.7,626.4 78.4,635.3 87.2,644.1 96.0,653.0 104.8,661.9 113.5,670.8 122.3,679.6 130.9,688.5 140.0,697.4 149.1,706.3 158.1,715.1 167.0,724.0 175.9,732.9 184.6,741.8 193.2,750.6 201.6,759.5 210.0,768.4 218.3,777.3 226.4,786.1 234.3,795.0 242.1,803.9 249.6,812.8 256.9,821.7 263.9,830.5 270.6,839.4 276.9,848.3 282.9,857.2 288.6,866.0 294.0,874.9 299.1,883.8 303.9,892.7 308.3,901.5 312.3,910.4 315.8,919.3 318.9,928.2 321.6,937.0 324.0,945.9 325.9,954.8 327.4,963.7 328.5,972.6 329.2,981.4 329.3,990.3 328.8,999.2Z" fill="#0f0f0f"/><path d="M266.1,999.2 266.6,990.3 266.8,981.4 266.7,972.6 266.2,963.7 265.3,954.8 264.1,945.9 262.4,937.0 260.4,928.2 258.1,919.3 255.3,910.4 252.3,901.5 249.0,892.7 245.4,883.8 241.5,874.9 237.2,866.0 232.7,857.2 227.8,848.3 222.7,839.4 217.4,830.5 211.9,821.7 206.1,812.8 200.1,803.9 193.9,795.0 187.5,786.1 180.8,777.3 174.0,768.4 166.9,759.5 159.5,750.6 152.0,741.8 144.4,732.9 136.7,724.0 128.8,715.1 120.8,706.3 112.8,697.4 104.5,688.5 95.8,679.6 87.1,670.8 78.3,661.9 69.6,653.0 60.8,644.1 52.0,635.3 43.2,626.4 34.5,617.5 57.3,617.5 66.1,626.4 74.9,635.3 83.7,644.1 92.5,653.0 101.2,661.9 110.0,670.8 118.7,679.6 127.4,688.5 136.3,697.4 145.3,706.3 154.3,715.1 163.1,724.0 171.9,732.9 180.5,741.8 189.0,750.6 197.3,759.5 205.6,768.4 213.8,777.3 221.8,786.1 229.6,795.0 237.2,803.9 244.6,812.8 251.8,821.7 258.7,830.5 265.3,839.4 271.5,848.3 277.5,857.2 283.1,866.0 288.5,874.9 293.5,883.8 298.2,892.7 302.5,901.5 306.4,910.4 309.8,919.3 312.9,928.2 315.6,937.0 317.9,945.9 319.8,954.8 321.3,963.7 322.3,972.6 322.9,981.4 323.0,990.3 322.5,999.2Z" fill="#171717"/><path d="M270.7,999.2 271.2,990.3 271.3,981.4 271.2,972.6 270.7,963.7 269.8,954.8 268.5,945.9 266.8,937.0 264.8,928.2 262.4,919.3 259.6,910.4 256.5,901.5 253.2,892.7 249.5,883.8 245.5,874.9 241.3,866.0 236.7,857.2 231.8,848.3 226.6,839.4 221.2,830.5 215.7,821.7 209.8,812.8 203.8,803.9 197.5,795.0 190.9,786.1 184.2,777.3 177.3,768.4 170.1,759.5 162.7,750.6 155.2,741.8 147.5,732.9 139.7,724.0 131.7,715.1 123.7,706.3 115.6,697.4 107.3,688.5 98.6,679.6 89.9,670.8 81.1,661.9 72.4,653.0 63.6,644.1 54.8,635.3 46.0,626.4 37.3,617.5 54.5,617.5 63.3,626.4 72.1,635.3 80.9,644.1 89.6,653.0 98.4,661.9 107.2,670.8 115.9,679.6 124.6,688.5 133.5,697.4 142.4,706.3 151.3,715.1 160.1,724.0 168.8,732.9 177.4,741.8 185.8,750.6 194.1,759.5 202.3,768.4 210.4,777.3 218.3,786.1 226.1,795.0 233.6,803.9 240.9,812.8 248.0,821.7 254.8,830.5 261.4,839.4 267.6,848.3 273.5,857.2 279.1,866.0 284.4,874.9 289.3,883.8 294.0,892.7 298.2,901.5 302.1,910.4 305.5,919.3 308.6,928.2 311.2,937.0 313.5,945.9 315.4,954.8 316.8,963.7 317.8,972.6 318.4,981.4 318.4,990.3 317.9,999.2Z" fill="#1f1f1f"/><path d="M274.4,999.2 274.8,990.3 275.0,981.4 274.9,972.6 274.3,963.7 273.4,954.8 272.0,945.9 270.4,937.0 268.3,928.2 265.9,919.3 263.1,910.4 260.0,901.5 256.6,892.7 252.9,883.8 248.9,874.9 244.6,866.0 240.0,857.2 235.1,848.3 229.9,839.4 224.5,830.5 218.9,821.7 213.0,812.8 206.9,803.9 200.5,795.0 193.9,786.1 187.2,777.3 180.2,768.4 173.0,759.5 165.6,750.6 158.0,741.8 150.3,732.9 142.4,724.0 134.4,715.1 126.4,706.3 118.2,697.4 109.9,688.5 101.2,679.6 92.5,670.8 83.8,661.9 75.0,653.0 66.2,644.1 57.4,635.3 48.6,626.4 39.9,617.5 51.9,617.5 60.7,626.4 69.5,635.3 78.2,644.1 87.0,653.0 95.8,661.9 104.6,670.8 113.3,679.6 121.9,688.5 130.8,697.4 139.8,706.3 148.6,715.1 157.4,724.0 166.0,732.9 174.6,741.8 183.0,750.6 191.2,759.5 199.4,768.4 207.4,777.3 215.3,786.1 223.0,795.0 230.5,803.9 237.8,812.8 244.8,821.7 251.6,830.5 258.1,839.4 264.3,848.3 270.1,857.2 275.7,866.0 281.0,874.9 285.9,883.8 290.6,892.7 294.8,901.5 298.6,910.4 302.0,919.3 305.0,928.2 307.7,937.0 310.0,945.9 311.8,954.8 313.2,963.7 314.2,972.6 314.7,981.4 314.8,990.3 314.3,999.2Z" fill="#262626"/><path d="M277.6,999.2 278.1,990.3 278.2,981.4 278.1,972.6 277.5,963.7 276.5,954.8 275.2,945.9 273.5,937.0 271.4,928.2 269.0,919.3 266.2,910.4 263.1,901.5 259.7,892.7 256.0,883.8 252.0,874.9 247.7,866.0 243.0,857.2 238.1,848.3 232.9,839.4 227.5,830.5 221.9,821.7 216.0,812.8 209.8,803.9 203.4,795.0 196.9,786.1 190.1,777.3 183.1,768.4 175.9,759.5 168.5,750.6 160.9,741.8 153.2,732.9 145.4,724.0 137.5,715.1 129.4,706.3 121.4,697.4 113.1,688.5 104.4,679.6 95.7,670.8 87.0,661.9 78.2,653.0 69.4,644.1 60.6,635.3 51.8,626.4 43.1,617.5 48.7,617.5 57.5,626.4 66.2,635.3 75.0,644.1 83.8,653.0 92.6,661.9 101.4,670.8 110.1,679.6 118.7,688.5 127.7,697.4 136.7,706.3 145.6,715.1 154.4,724.0 163.1,732.9 171.6,741.8 180.0,750.6 188.3,759.5 196.4,768.4 204.5,777.3 212.4,786.1 220.1,795.0 227.5,803.9 234.8,812.8 241.8,821.7 248.6,830.5 255.1,839.4 261.2,848.3 267.1,857.2 272.7,866.0 277.9,874.9 282.9,883.8 287.5,892.7 291.7,901.5 295.5,910.4 298.9,919.3 301.9,928.2 304.6,937.0 306.8,945.9 308.6,954.8 310.0,963.7 311.0,972.6 311.5,981.4 311.5,990.3 311.0,999.2Z" fill="#2e2e2e"/><path d="M280.6,999.2 281.1,990.3 281.2,981.4 281.1,972.6 280.5,963.7 279.5,954.8 278.1,945.9 276.5,937.0 274.4,928.2 271.9,919.3 269.1,910.4 266.0,901.5 262.6,892.7 258.9,883.8 255.0,874.9 250.7,866.0 246.1,857.2 241.2,848.3 236.0,839.4 230.7,830.5 225.0,821.7 219.2,812.8 213.1,803.9 206.8,795.0 200.4,786.1 193.8,777.3 187.1,768.4 180.2,759.5 173.7,750.6 166.3,741.8 158.1,732.9 149.9,724.0 141.5,715.1 133.1,706.3 124.5,697.4 115.9,688.5 107.3,679.6 98.5,670.8 89.8,661.9 81.0,653.0 72.2,644.1 63.4,635.3 54.7,626.4 45.9,617.5 45.9,617.5 54.7,626.4 63.4,635.3 72.2,644.1 81.0,653.0 89.8,661.9 98.5,670.8 107.3,679.6 115.9,688.5 124.5,697.4 133.1,706.3 141.5,715.1 149.9,724.0 158.1,732.9 166.3,741.8 174.8,750.6 184.0,759.5 192.5,768.4 200.8,777.3 208.9,786.1 216.7,795.0 224.2,803.9 231.6,812.8 238.6,821.7 245.4,830.5 251.9,839.4 258.1,848.3 264.1,857.2 269.7,866.0 274.9,874.9 279.9,883.8 284.5,892.7 288.7,901.5 292.5,910.4 295.9,919.3 298.9,928.2 301.6,937.0 303.8,945.9 305.6,954.8 307.0,963.7 308.0,972.6 308.5,981.4 308.5,990.3 308.0,999.2Z" fill="#363636"/><path d="M283.7,999.2 284.1,990.3 284.3,981.4 284.1,972.6 283.5,963.7 282.5,954.8 281.2,945.9 279.5,937.0 277.5,928.2 275.0,919.3 272.2,910.4 269.1,901.5 265.8,892.7 262.2,883.8 258.3,874.9 254.1,866.0 249.7,857.2 245.0,848.3 240.1,839.4 235.1,830.5 230.1,821.7 225.4,812.8 218.7,803.9 211.8,795.0 204.6,786.1 197.3,777.3 189.8,768.4 182.1,759.5 174.3,750.6 166.3,741.8 158.1,732.9 149.9,724.0 141.5,715.1 133.1,706.3 124.5,697.4 115.9,688.5 107.3,679.6 98.5,670.8 89.8,661.9 81.0,653.0 72.2,644.1 63.4,635.3 54.7,626.4 45.9,617.5 45.9,617.5 54.7,626.4 63.4,635.3 72.2,644.1 81.0,653.0 89.8,661.9 98.5,670.8 107.3,679.6 115.9,688.5 124.5,697.4 133.1,706.3 141.5,715.1 149.9,724.0 158.1,732.9 166.3,741.8 174.3,750.6 182.1,759.5 189.8,768.4 197.3,777.3 204.6,786.1 211.8,795.0 218.7,803.9 225.4,812.8 233.6,821.7 241.0,830.5 247.9,839.4 254.4,848.3 260.5,857.2 266.2,866.0 271.6,874.9 276.7,883.8 281.4,892.7 285.6,901.5 289.4,910.4 292.8,919.3 295.9,928.2 298.5,937.0 300.8,945.9 302.6,954.8 304.0,963.7 304.9,972.6 305.5,981.4 305.4,990.3 305.0,999.2Z" fill="#3d3d3d"/><path d="M287.1,999.2 287.6,990.3 287.7,981.4 287.6,972.6 287.0,963.7 286.0,954.8 284.7,945.9 283.1,937.0 281.2,928.2 278.8,919.3 276.2,910.4 273.2,901.5 270.1,892.7 267.2,883.8 265.0,874.9 260.2,866.0 255.1,857.2 249.7,848.3 244.0,839.4 238.0,830.5 231.8,821.7 225.4,812.8 218.7,803.9 211.8,795.0 204.6,786.1 197.3,777.3 189.8,768.4 182.1,759.5 174.3,750.6 166.3,741.8 158.1,732.9 149.9,724.0 141.5,715.1 133.1,706.3 124.5,697.4 115.9,688.5 107.3,679.6 98.5,670.8 89.8,661.9 81.0,653.0 72.2,644.1 63.4,635.3 54.7,626.4 45.9,617.5 45.9,617.5 54.7,626.4 63.4,635.3 72.2,644.1 81.0,653.0 89.8,661.9 98.5,670.8 107.3,679.6 115.9,688.5 124.5,697.4 133.1,706.3 141.5,715.1 149.9,724.0 158.1,732.9 166.3,741.8 174.3,750.6 182.1,759.5 189.8,768.4 197.3,777.3 204.6,786.1 211.8,795.0 218.7,803.9 225.4,812.8 231.8,821.7 238.0,830.5 244.0,839.4 249.7,848.3 255.1,857.2 260.2,866.0 265.0,874.9 271.7,883.8 277.0,892.7 281.5,901.5 285.5,910.4 289.0,919.3 292.2,928.2 294.9,937.0 297.3,945.9 299.1,954.8 300.5,963.7 301.5,972.6 302.0,981.4 302.0,990.3 301.5,999.2Z" fill="#454545"/></g><g filter="url(#b15)"><path d="M468.3,999.2 468.8,990.3 468.9,981.4 468.5,972.6 467.6,963.7 466.3,954.8 464.6,945.9 462.3,937.0 459.5,928.2 456.4,919.3 452.9,910.4 449.0,901.5 444.7,892.7 440.1,883.8 435.1,874.9 429.8,866.0 424.1,857.2 418.2,848.3 412.0,839.4 405.5,830.5 398.8,821.7 391.9,812.8 384.7,803.9 377.4,795.0 369.8,786.1 362.0,777.3 354.0,768.4 345.8,759.5 337.5,750.6 328.9,741.8 320.2,732.9 311.3,724.0 302.2,715.1 292.9,706.3 283.5,697.4 273.9,688.5 264.1,679.6 254.2,670.8 244.1,661.9 233.9,653.0 223.5,644.1 212.9,635.3 202.2,626.4 191.3,617.5 224.6,617.5 235.5,626.4 246.3,635.3 256.8,644.1 267.2,653.0 277.4,661.9 287.3,670.8 297.1,679.6 306.6,688.5 316.0,697.4 325.2,706.3 334.3,715.1 343.1,724.0 351.8,732.9 360.2,741.8 368.5,750.6 376.6,759.5 384.5,768.4 392.1,777.3 399.6,786.1 406.9,795.0 414.0,803.9 420.8,812.8 427.4,821.7 433.8,830.5 439.9,839.4 445.8,848.3 451.4,857.2 456.7,866.0 461.7,874.9 466.4,883.8 470.9,892.7 475.0,901.5 478.7,910.4 482.0,919.3 485.0,928.2 487.5,937.0 489.6,945.9 491.3,954.8 492.6,963.7 493.5,972.6 493.9,981.4 493.8,990.3 493.3,999.2Z" fill="#080808"/><path d="M472.5,999.2 473.0,990.3 473.1,981.4 472.7,972.6 471.9,963.7 470.6,954.8 468.8,945.9 466.5,937.0 463.8,928.2 460.7,919.3 457.1,910.4 453.2,901.5 449.0,892.7 444.3,883.8 439.4,874.9 434.1,866.0 428.4,857.2 422.5,848.3 416.3,839.4 409.9,830.5 403.2,821.7 396.3,812.8 389.1,803.9 381.8,795.0 374.2,786.1 366.4,777.3 358.5,768.4 350.3,759.5 341.9,750.6 333.4,741.8 324.7,732.9 315.8,724.0 306.7,715.1 297.5,706.3 288.1,697.4 278.5,688.5 268.7,679.6 258.8,670.8 248.7,661.9 238.5,653.0 228.1,644.1 217.6,635.3 206.8,626.4 195.9,617.5 220.0,617.5 230.9,626.4 241.7,635.3 252.2,644.1 262.6,653.0 272.8,661.9 282.7,670.8 292.5,679.6 302.1,688.5 311.4,697.4 320.7,706.3 329.7,715.1 338.6,724.0 347.2,732.9 355.7,741.8 364.0,750.6 372.1,759.5 380.0,768.4 387.7,777.3 395.2,786.1 402.5,795.0 409.6,803.9 416.5,812.8 423.1,821.7 429.5,830.5 435.6,839.4 441.5,848.3 447.1,857.2 452.4,866.0 457.4,874.9 462.2,883.8 466.6,892.7 470.7,901.5 474.4,910.4 477.8,919.3 480.7,928.2 483.3,937.0 485.4,945.9 487.1,954.8 488.4,963.7 489.2,972.6 489.6,981.4 489.6,990.3 489.0,999.2Z" fill="#0f0f0f"/><path d="M475.0,999.2 475.6,990.3 475.6,981.4 475.2,972.6 474.4,963.7 473.1,954.8 471.3,945.9 469.0,937.0 466.3,928.2 463.2,919.3 459.6,910.4 455.7,901.5 451.4,892.7 446.8,883.8 441.9,874.9 436.5,866.0 430.9,857.2 424.9,848.3 418.8,839.4 412.3,830.5 405.6,821.7 398.7,812.8 391.6,803.9 384.2,795.0 376.6,786.1 368.9,777.3 360.9,768.4 352.7,759.5 344.4,750.6 335.9,741.8 327.1,732.9 318.3,724.0 309.2,715.1 300.0,706.3 290.6,697.4 281.0,688.5 271.2,679.6 261.3,670.8 251.2,661.9 241.0,653.0 230.6,644.1 220.0,635.3 209.3,626.4 198.4,617.5 217.5,617.5 228.4,626.4 239.2,635.3 249.7,644.1 260.1,653.0 270.3,661.9 280.2,670.8 290.0,679.6 299.6,688.5 309.0,697.4 318.2,706.3 327.3,715.1 336.1,724.0 344.8,732.9 353.3,741.8 361.6,750.6 369.7,759.5 377.6,768.4 385.3,777.3 392.8,786.1 400.1,795.0 407.2,803.9 414.0,812.8 420.6,821.7 427.0,830.5 433.2,839.4 439.0,848.3 444.6,857.2 449.9,866.0 454.9,874.9 459.7,883.8 464.1,892.7 468.2,901.5 471.9,910.4 475.3,919.3 478.2,928.2 480.7,937.0 482.8,945.9 484.6,954.8 485.9,963.7 486.7,972.6 487.1,981.4 487.0,990.3 486.5,999.2Z" fill="#171717"/><path d="M477.2,999.2 477.7,990.3 477.8,981.4 477.4,972.6 476.5,963.7 475.2,954.8 473.4,945.9 471.1,937.0 468.4,928.2 465.2,919.3 461.6,910.4 457.7,901.5 453.4,892.7 448.8,883.8 443.8,874.9 438.4,866.0 432.8,857.2 426.8,848.3 420.6,839.4 414.1,830.5 407.4,821.7 400.5,812.8 393.4,803.9 386.0,795.0 378.4,786.1 370.6,777.3 362.7,768.4 354.5,759.5 346.1,750.6 337.6,741.8 328.9,732.9 320.0,724.0 310.9,715.1 301.7,706.3 292.3,697.4 282.7,688.5 272.9,679.6 263.0,670.8 252.9,661.9 242.7,653.0 232.3,644.1 221.8,635.3 211.0,626.4 200.1,617.5 215.8,617.5 226.7,626.4 237.4,635.3 248.0,644.1 258.4,653.0 268.6,661.9 278.5,670.8 288.3,679.6 297.9,688.5 307.3,697.4 316.5,706.3 325.5,715.1 334.4,724.0 343.0,732.9 351.5,741.8 359.8,750.6 367.9,759.5 375.8,768.4 383.5,777.3 391.0,786.1 398.3,795.0 405.4,803.9 412.2,812.8 418.8,821.7 425.2,830.5 431.3,839.4 437.2,848.3 442.7,857.2 448.0,866.0 453.0,874.9 457.7,883.8 462.2,892.7 466.2,901.5 469.9,910.4 473.2,919.3 476.2,928.2 478.6,937.0 480.7,945.9 482.4,954.8 483.7,963.7 484.6,972.6 485.0,981.4 484.9,990.3 484.4,999.2Z" fill="#1f1f1f"/><path d="M480.8,999.2 481.3,990.3 481.4,981.4 481.0,972.6 480.1,963.7 478.8,954.8 476.6,945.9 473.9,937.0 470.9,928.2 467.6,919.3 463.9,910.4 459.9,901.5 455.5,892.7 450.8,883.8 445.8,874.9 440.3,866.0 434.5,857.2 428.5,848.3 422.3,839.4 415.8,830.5 409.0,821.7 402.1,812.8 394.9,803.9 387.5,795.0 379.9,786.1 372.1,777.3 364.1,768.4 355.9,759.5 347.6,750.6 339.0,741.8 330.3,732.9 321.4,724.0 312.3,715.1 303.1,706.3 293.7,697.4 284.1,688.5 274.3,679.6 264.4,670.8 254.3,661.9 244.1,653.0 233.7,644.1 223.1,635.3 212.4,626.4 201.5,617.5 214.4,617.5 225.3,626.4 236.1,635.3 246.6,644.1 257.0,653.0 267.2,661.9 277.1,670.8 286.9,679.6 296.5,688.5 305.9,697.4 315.1,706.3 324.1,715.1 333.0,724.0 341.6,732.9 350.1,741.8 358.4,750.6 366.4,759.5 374.3,768.4 382.0,777.3 389.5,786.1 396.8,795.0 403.8,803.9 410.6,812.8 417.2,821.7 423.6,830.5 429.6,839.4 435.4,848.3 441.0,857.2 446.2,866.0 451.0,874.9 455.7,883.8 460.1,892.7 464.1,901.5 467.7,910.4 470.9,919.3 473.6,928.2 475.9,937.0 477.5,945.9 478.8,954.8 480.1,963.7 481.0,972.6 481.4,981.4 481.3,990.3 480.8,999.2Z" fill="#262626"/><path d="M480.8,999.2 481.3,990.3 481.4,981.4 481.0,972.6 480.1,963.7 478.8,954.8 477.1,945.9 474.9,937.0 472.3,928.2 469.2,919.3 465.8,910.4 462.0,901.5 457.8,892.7 453.3,883.8 448.4,874.9 443.2,866.0 437.7,857.2 430.9,848.3 424.3,839.4 417.6,830.5 410.8,821.7 403.7,812.8 396.5,803.9 389.0,795.0 381.4,786.1 373.5,777.3 365.5,768.4 357.3,759.5 348.9,750.6 340.3,741.8 331.6,732.9 322.7,724.0 313.6,715.1 304.4,706.3 294.9,697.4 285.3,688.5 275.6,679.6 265.6,670.8 255.5,661.9 245.3,653.0 234.9,644.1 224.3,635.3 213.6,626.4 202.7,617.5 213.2,617.5 224.1,626.4 234.9,635.3 245.4,644.1 255.8,653.0 266.0,661.9 275.9,670.8 285.7,679.6 295.2,688.5 304.6,697.4 313.8,706.3 322.8,715.1 331.7,724.0 340.3,732.9 348.8,741.8 357.0,750.6 365.1,759.5 372.9,768.4 380.6,777.3 388.0,786.1 395.3,795.0 402.2,803.9 409.0,812.8 415.5,821.7 421.7,830.5 427.6,839.4 433.1,848.3 437.7,857.2 443.2,866.0 448.4,874.9 453.3,883.8 457.8,892.7 462.0,901.5 465.8,910.4 469.2,919.3 472.3,928.2 474.9,937.0 477.1,945.9 478.8,954.8 480.1,963.7 481.0,972.6 481.4,981.4 481.3,990.3 480.8,999.2Z" fill="#2e2e2e"/><path d="M480.8,999.2 481.3,990.3 481.4,981.4 481.0,972.6 480.1,963.7 478.8,954.8 477.1,945.9 474.9,937.0 472.3,928.2 469.2,919.3 465.8,910.4 462.0,901.5 457.8,892.7 453.3,883.8 448.4,874.9 443.2,866.0 437.7,857.2 432.0,848.3 426.0,839.4 419.7,830.5 413.1,821.7 406.4,812.8 399.4,803.9 391.2,795.0 383.3,786.1 375.3,777.3 367.1,768.4 358.8,759.5 350.3,750.6 341.7,741.8 332.9,732.9 324.0,724.0 314.9,715.1 305.6,706.3 296.1,697.4 286.5,688.5 276.7,679.6 266.7,670.8 256.6,661.9 246.4,653.0 236.0,644.1 225.5,635.3 214.7,626.4 203.8,617.5 212.1,617.5 223.0,626.4 233.7,635.3 244.3,644.1 254.7,653.0 264.9,661.9 274.8,670.8 284.5,679.6 294.1,688.5 303.4,697.4 312.6,706.3 321.6,715.1 330.4,724.0 339.0,732.9 347.4,741.8 355.6,750.6 363.6,759.5 371.4,768.4 378.9,777.3 386.1,786.1 393.1,795.0 399.4,803.9 406.4,812.8 413.1,821.7 419.7,830.5 426.0,839.4 432.0,848.3 437.7,857.2 443.2,866.0 448.4,874.9 453.3,883.8 457.8,892.7 462.0,901.5 465.8,910.4 469.2,919.3 472.3,928.2 474.9,937.0 477.1,945.9 478.8,954.8 480.1,963.7 481.0,972.6 481.4,981.4 481.3,990.3 480.8,999.2Z" fill="#363636"/><path d="M480.8,999.2 481.3,990.3 481.4,981.4 481.0,972.6 480.1,963.7 478.8,954.8 477.1,945.9 474.9,937.0 472.3,928.2 469.2,919.3 465.8,910.4 462.0,901.5 457.8,892.7 453.3,883.8 448.4,874.9 443.2,866.0 437.7,857.2 432.0,848.3 426.0,839.4 419.7,830.5 413.1,821.7 406.4,812.8 399.4,803.9 392.1,795.0 384.7,786.1 377.1,777.3 369.2,768.4 361.2,759.5 353.0,750.6 343.8,741.8 334.7,732.9 325.6,724.0 316.4,715.1 307.0,706.3 297.5,697.4 287.8,688.5 278.0,679.6 268.0,670.8 257.8,661.9 247.6,653.0 237.2,644.1 226.6,635.3 215.9,626.4 205.0,617.5 210.9,617.5 221.8,626.4 232.6,635.3 243.1,644.1 253.5,653.0 263.7,661.9 273.6,670.8 283.3,679.6 292.8,688.5 302.1,697.4 311.2,706.3 320.1,715.1 328.8,724.0 337.2,732.9 345.3,741.8 353.0,750.6 361.2,759.5 369.2,768.4 377.1,777.3 384.7,786.1 392.1,795.0 399.4,803.9 406.4,812.8 413.1,821.7 419.7,830.5 426.0,839.4 432.0,848.3 437.7,857.2 443.2,866.0 448.4,874.9 453.3,883.8 457.8,892.7 462.0,901.5 465.8,910.4 469.2,919.3 472.3,928.2 474.9,937.0 477.1,945.9 478.8,954.8 480.1,963.7 481.0,972.6 481.4,981.4 481.3,990.3 480.8,999.2Z" fill="#3d3d3d"/><path d="M480.8,999.2 481.3,990.3 481.4,981.4 481.0,972.6 480.1,963.7 478.8,954.8 477.1,945.9 474.9,937.0 472.3,928.2 469.2,919.3 465.8,910.4 462.0,901.5 457.8,892.7 453.3,883.8 448.4,874.9 443.2,866.0 437.7,857.2 432.0,848.3 426.0,839.4 419.7,830.5 413.1,821.7 406.4,812.8 399.4,803.9 392.1,795.0 384.7,786.1 377.1,777.3 369.2,768.4 361.2,759.5 353.0,750.6 344.6,741.8 336.0,732.9 327.2,724.0 318.2,715.1 309.1,706.3 299.8,697.4 290.3,688.5 280.0,679.6 269.7,670.8 259.3,661.9 249.1,653.0 238.8,644.1 228.2,635.3 217.5,626.4 206.5,617.5 209.4,617.5 220.3,626.4 231.0,635.3 241.6,644.1 252.0,653.0 262.1,661.9 271.8,670.8 281.2,679.6 290.3,688.5 299.8,697.4 309.1,706.3 318.2,715.1 327.2,724.0 336.0,732.9 344.6,741.8 353.0,750.6 361.2,759.5 369.2,768.4 377.1,777.3 384.7,786.1 392.1,795.0 399.4,803.9 406.4,812.8 413.1,821.7 419.7,830.5 426.0,839.4 432.0,848.3 437.7,857.2 443.2,866.0 448.4,874.9 453.3,883.8 457.8,892.7 462.0,901.5 465.8,910.4 469.2,919.3 472.3,928.2 474.9,937.0 477.1,945.9 478.8,954.8 480.1,963.7 481.0,972.6 481.4,981.4 481.3,990.3 480.8,999.2Z" fill="#454545"/></g><g filter="url(#b1)"><path d="M1040.5,999.2 1041.0,990.3 1041.0,981.4 1040.2,972.6 1038.9,963.7 1037.2,954.8 1034.9,945.9 1032.2,937.0 1029.1,928.2 1025.5,919.3 1021.6,910.4 1017.4,901.5 1012.7,892.7 1007.7,883.8 1002.6,874.9 997.1,866.0 991.3,857.2 985.3,848.3 979.1,839.4 972.5,830.5 965.8,821.7 958.6,812.8 951.0,803.9 943.2,795.0 935.2,786.1 927.1,777.3 918.9,768.4 910.9,759.5 902.8,750.6 894.6,741.8 886.3,732.9 878.1,724.0 869.8,715.1 861.6,706.3 853.3,697.4 845.1,688.5 837.5,679.6 829.9,670.8 822.3,661.9 814.3,653.0 806.3,644.1 798.3,635.3 790.4,626.4 782.6,617.5 846.6,617.5 854.4,626.4 862.3,635.3 870.3,644.1 878.6,653.0 887.1,661.9 896.2,670.8 905.2,679.6 914.4,688.5 923.0,697.4 931.6,706.3 940.1,715.1 948.6,724.0 957.1,732.9 965.3,741.8 973.5,750.6 981.6,759.5 989.5,768.4 997.1,777.3 1004.3,786.1 1011.4,795.0 1018.3,803.9 1024.9,812.8 1031.7,821.7 1038.3,830.5 1044.7,839.4 1050.8,848.3 1056.5,857.2 1061.9,866.0 1067.0,874.9 1071.8,883.8 1076.0,892.7 1079.8,901.5 1083.3,910.4 1086.3,919.3 1088.9,928.2 1091.1,937.0 1092.9,945.9 1094.2,954.8 1095.1,963.7 1095.6,972.6 1095.6,981.4 1095.4,990.3 1094.9,999.2Z" fill="#080808"/><path d="M1045.5,999.2 1046.0,990.3 1046.0,981.4 1045.2,972.6 1043.9,963.7 1042.2,954.8 1039.9,945.9 1037.2,937.0 1034.1,928.2 1030.5,919.3 1026.6,910.4 1022.4,901.5 1017.7,892.7 1012.7,883.8 1007.6,874.9 1002.1,866.0 996.3,857.2 990.3,848.3 984.1,839.4 977.5,830.5 970.8,821.7 963.6,812.8 956.0,803.9 948.2,795.0 940.2,786.1 932.1,777.3 923.9,768.4 915.9,759.5 907.8,750.6 899.6,741.8 891.3,732.9 883.1,724.0 874.8,715.1 866.6,706.3 858.3,697.4 850.1,688.5 842.5,679.6 834.9,670.8 827.3,661.9 819.3,653.0 811.3,644.1 803.3,635.3 795.4,626.4 787.6,617.5 841.6,617.5 849.4,626.4 857.3,635.3 865.3,644.1 873.6,653.0 882.1,661.9 891.2,670.8 900.2,679.6 909.4,688.5 918.0,697.4 926.6,706.3 935.1,715.1 943.6,724.0 952.1,732.9 960.3,741.8 968.5,750.6 976.6,759.5 984.5,768.4 992.1,777.3 999.3,786.1 1006.4,795.0 1013.3,803.9 1019.9,812.8 1026.7,821.7 1033.3,830.5 1039.7,839.4 1045.8,848.3 1051.5,857.2 1056.9,866.0 1062.0,874.9 1066.8,883.8 1071.0,892.7 1074.8,901.5 1078.3,910.4 1081.3,919.3 1083.9,928.2 1086.1,937.0 1087.9,945.9 1089.2,954.8 1090.1,963.7 1090.6,972.6 1090.6,981.4 1090.4,990.3 1089.9,999.2Z" fill="#0f0f0f"/><path d="M1049.0,999.2 1049.5,990.3 1049.5,981.4 1048.7,972.6 1047.4,963.7 1045.7,954.8 1043.4,945.9 1040.7,937.0 1037.6,928.2 1034.0,919.3 1030.1,910.4 1025.9,901.5 1021.2,892.7 1016.2,883.8 1011.1,874.9 1005.6,866.0 999.8,857.2 993.8,848.3 987.6,839.4 981.0,830.5 974.3,821.7 967.1,812.8 959.5,803.9 951.7,795.0 943.7,786.1 935.6,777.3 927.4,768.4 919.4,759.5 911.3,750.6 903.1,741.8 894.8,732.9 886.6,724.0 878.3,715.1 870.1,706.3 861.8,697.4 853.6,688.5 846.0,679.6 838.4,670.8 830.8,661.9 822.8,653.0 814.8,644.1 806.8,635.3 798.9,626.4 791.1,617.5 838.1,617.5 845.9,626.4 853.8,635.3 861.8,644.1 870.1,653.0 878.6,661.9 887.7,670.8 896.7,679.6 905.9,688.5 914.5,697.4 923.1,706.3 931.6,715.1 940.1,724.0 948.6,732.9 956.8,741.8 965.0,750.6 973.1,759.5 981.0,768.4 988.6,777.3 995.8,786.1 1002.9,795.0 1009.8,803.9 1016.4,812.8 1023.2,821.7 1029.8,830.5 1036.2,839.4 1042.3,848.3 1048.0,857.2 1053.4,866.0 1058.5,874.9 1063.3,883.8 1067.5,892.7 1071.3,901.5 1074.8,910.4 1077.8,919.3 1080.4,928.2 1082.6,937.0 1084.4,945.9 1085.7,954.8 1086.6,963.7 1087.1,972.6 1087.1,981.4 1086.9,990.3 1086.4,999.2Z" fill="#1a1a1a"/><path d="M1051.5,999.2 1052.0,990.3 1052.0,981.4 1051.2,972.6 1049.9,963.7 1048.2,954.8 1045.9,945.9 1043.2,937.0 1040.1,928.2 1036.5,919.3 1032.6,910.4 1028.4,901.5 1023.7,892.7 1018.7,883.8 1013.6,874.9 1008.1,866.0 1002.3,857.2 996.3,848.3 990.1,839.4 983.5,830.5 976.8,821.7 969.6,812.8 962.0,803.9 954.2,795.0 946.2,786.1 938.1,777.3 929.9,768.4 921.9,759.5 913.8,750.6 905.6,741.8 897.3,732.9 889.1,724.0 880.8,715.1 872.6,706.3 864.3,697.4 856.1,688.5 848.5,679.6 840.9,670.8 833.3,661.9 825.3,653.0 817.3,644.1 809.3,635.3 801.4,626.4 793.6,617.5 835.6,617.5 843.4,626.4 851.3,635.3 859.3,644.1 867.6,653.0 876.1,661.9 885.2,670.8 894.2,679.6 903.4,688.5 912.0,697.4 920.6,706.3 929.1,715.1 937.6,724.0 946.1,732.9 954.3,741.8 962.5,750.6 970.6,759.5 978.5,768.4 986.1,777.3 993.3,786.1 1000.4,795.0 1007.3,803.9 1013.9,812.8 1020.7,821.7 1027.3,830.5 1033.7,839.4 1039.8,848.3 1045.5,857.2 1050.9,866.0 1056.0,874.9 1060.8,883.8 1065.0,892.7 1068.8,901.5 1072.3,910.4 1075.3,919.3 1077.9,928.2 1080.1,937.0 1081.9,945.9 1083.2,954.8 1084.1,963.7 1084.6,972.6 1084.6,981.4 1084.4,990.3 1083.9,999.2Z" fill="#242424"/><path d="M1053.5,999.2 1054.0,990.3 1054.0,981.4 1053.2,972.6 1051.9,963.7 1050.2,954.8 1047.9,945.9 1045.2,937.0 1042.1,928.2 1038.5,919.3 1034.6,910.4 1030.4,901.5 1025.7,892.7 1020.7,883.8 1015.6,874.9 1010.1,866.0 1004.3,857.2 998.3,848.3 992.1,839.4 985.5,830.5 978.8,821.7 971.6,812.8 964.0,803.9 956.2,795.0 948.2,786.1 940.1,777.3 931.9,768.4 923.9,759.5 915.8,750.6 907.6,741.8 899.3,732.9 891.1,724.0 882.8,715.1 874.6,706.3 866.3,697.4 858.1,688.5 850.5,679.6 842.9,670.8 835.3,661.9 827.3,653.0 819.3,644.1 811.3,635.3 803.4,626.4 795.6,617.5 833.6,617.5 841.4,626.4 849.3,635.3 857.3,644.1 865.6,653.0 874.1,661.9 883.2,670.8 892.2,679.6 901.4,688.5 910.0,697.4 918.6,706.3 927.1,715.1 935.6,724.0 944.1,732.9 952.3,741.8 960.5,750.6 968.6,759.5 976.5,768.4 984.1,777.3 991.3,786.1 998.4,795.0 1005.3,803.9 1011.9,812.8 1018.7,821.7 1025.3,830.5 1031.7,839.4 1037.8,848.3 1043.5,857.2 1048.9,866.0 1054.0,874.9 1058.8,883.8 1063.0,892.7 1066.8,901.5 1070.3,910.4 1073.3,919.3 1075.9,928.2 1078.1,937.0 1079.9,945.9 1081.2,954.8 1082.1,963.7 1082.6,972.6 1082.6,981.4 1082.4,990.3 1081.9,999.2Z" fill="#2e2e2e"/><path d="M1055.0,999.2 1055.5,990.3 1055.5,981.4 1054.7,972.6 1053.4,963.7 1051.7,954.8 1049.4,945.9 1046.7,937.0 1043.6,928.2 1040.0,919.3 1036.1,910.4 1031.9,901.5 1027.2,892.7 1022.2,883.8 1017.1,874.9 1011.6,866.0 1005.8,857.2 999.8,848.3 993.6,839.4 987.0,830.5 980.3,821.7 973.1,812.8 965.5,803.9 957.7,795.0 949.7,786.1 941.6,777.3 933.4,768.4 925.4,759.5 917.3,750.6 909.1,741.8 900.8,732.9 892.6,724.0 884.3,715.1 876.1,706.3 867.8,697.4 859.6,688.5 852.0,679.6 844.4,670.8 836.8,661.9 828.8,653.0 820.8,644.1 812.8,635.3 804.9,626.4 797.1,617.5 832.1,617.5 839.9,626.4 847.8,635.3 855.8,644.1 864.1,653.0 872.6,661.9 881.7,670.8 890.7,679.6 899.9,688.5 908.5,697.4 917.1,706.3 925.6,715.1 934.1,724.0 942.6,732.9 950.8,741.8 959.0,750.6 967.1,759.5 975.0,768.4 982.6,777.3 989.8,786.1 996.9,795.0 1003.8,803.9 1010.4,812.8 1017.2,821.7 1023.8,830.5 1030.2,839.4 1036.3,848.3 1042.0,857.2 1047.4,866.0 1052.5,874.9 1057.3,883.8 1061.5,892.7 1065.3,901.5 1068.8,910.4 1071.8,919.3 1074.4,928.2 1076.6,937.0 1078.4,945.9 1079.7,954.8 1080.6,963.7 1081.1,972.6 1081.1,981.4 1080.9,990.3 1080.4,999.2Z" fill="#383838"/><path d="M1056.5,999.2 1057.0,990.3 1057.0,981.4 1056.2,972.6 1054.9,963.7 1053.2,954.8 1050.9,945.9 1048.2,937.0 1045.1,928.2 1041.5,919.3 1037.6,910.4 1033.4,901.5 1028.7,892.7 1023.7,883.8 1018.6,874.9 1013.1,866.0 1007.3,857.2 1001.3,848.3 995.1,839.4 988.5,830.5 981.8,821.7 974.6,812.8 967.0,803.9 959.2,795.0 951.2,786.1 943.1,777.3 934.9,768.4 926.9,759.5 918.8,750.6 910.6,741.8 902.3,732.9 894.1,724.0 885.8,715.1 877.6,706.3 869.3,697.4 861.1,688.5 853.5,679.6 845.9,670.8 838.3,661.9 830.3,653.0 822.3,644.1 814.3,635.3 806.4,626.4 798.6,617.5 830.6,617.5 838.4,626.4 846.3,635.3 854.3,644.1 862.6,653.0 871.1,661.9 880.2,670.8 889.2,679.6 898.4,688.5 907.0,697.4 915.6,706.3 924.1,715.1 932.6,724.0 941.1,732.9 949.3,741.8 957.5,750.6 965.6,759.5 973.5,768.4 981.1,777.3 988.3,786.1 995.4,795.0 1002.3,803.9 1008.9,812.8 1015.7,821.7 1022.3,830.5 1028.7,839.4 1034.8,848.3 1040.5,857.2 1045.9,866.0 1051.0,874.9 1055.8,883.8 1060.0,892.7 1063.8,901.5 1067.3,910.4 1070.3,919.3 1072.9,928.2 1075.1,937.0 1076.9,945.9 1078.2,954.8 1079.1,963.7 1079.6,972.6 1079.6,981.4 1079.4,990.3 1078.9,999.2Z" fill="#424242"/><path d="M1058.3,999.2 1058.8,990.3 1058.8,981.4 1058.0,972.6 1056.7,963.7 1055.0,954.8 1052.7,945.9 1050.0,937.0 1046.9,928.2 1043.3,919.3 1039.4,910.4 1035.2,901.5 1030.5,892.7 1025.5,883.8 1020.4,874.9 1014.9,866.0 1009.1,857.2 1003.1,848.3 996.9,839.4 990.3,830.5 983.6,821.7 976.4,812.8 968.8,803.9 961.0,795.0 953.0,786.1 944.9,777.3 936.7,768.4 928.7,759.5 920.6,750.6 912.4,741.8 904.1,732.9 895.9,724.0 887.6,715.1 879.4,706.3 871.1,697.4 862.9,688.5 855.3,679.6 847.7,670.8 840.1,661.9 832.1,653.0 824.1,644.1 816.1,635.3 808.2,626.4 800.4,617.5 828.8,617.5 836.6,626.4 844.5,635.3 852.5,644.1 860.8,653.0 869.3,661.9 878.4,670.8 887.4,679.6 896.6,688.5 905.2,697.4 913.8,706.3 922.3,715.1 930.8,724.0 939.3,732.9 947.5,741.8 955.7,750.6 963.8,759.5 971.7,768.4 979.3,777.3 986.5,786.1 993.6,795.0 1000.5,803.9 1007.1,812.8 1013.9,821.7 1020.5,830.5 1026.9,839.4 1033.0,848.3 1038.7,857.2 1044.1,866.0 1049.2,874.9 1054.0,883.8 1058.2,892.7 1062.0,901.5 1065.5,910.4 1068.5,919.3 1071.1,928.2 1073.3,937.0 1075.1,945.9 1076.4,954.8 1077.3,963.7 1077.8,972.6 1077.8,981.4 1077.6,990.3 1077.1,999.2Z" fill="#4c4c4c"/><path d="M1059.2,999.2 1059.7,990.3 1059.7,981.4 1058.9,972.6 1057.6,963.7 1055.9,954.8 1053.6,945.9 1050.9,937.0 1047.8,928.2 1044.2,919.3 1040.3,910.4 1036.1,901.5 1031.4,892.7 1026.4,883.8 1021.3,874.9 1015.8,866.0 1010.0,857.2 1004.0,848.3 997.8,839.4 991.2,830.5 984.5,821.7 977.3,812.8 969.7,803.9 961.9,795.0 953.9,786.1 945.8,777.3 937.6,768.4 929.6,759.5 921.5,750.6 913.3,741.8 905.0,732.9 896.8,724.0 888.5,715.1 880.3,706.3 872.0,697.4 863.8,688.5 856.2,679.6 848.6,670.8 841.0,661.9 833.0,653.0 825.0,644.1 817.0,635.3 809.1,626.4 801.3,617.5 827.9,617.5 835.7,626.4 843.6,635.3 851.6,644.1 859.9,653.0 868.4,661.9 877.5,670.8 886.5,679.6 895.7,688.5 904.3,697.4 912.9,706.3 921.4,715.1 929.9,724.0 938.4,732.9 946.6,741.8 954.8,750.6 962.9,759.5 970.8,768.4 978.4,777.3 985.6,786.1 992.7,795.0 999.6,803.9 1006.2,812.8 1013.0,821.7 1019.6,830.5 1026.0,839.4 1032.1,848.3 1037.8,857.2 1043.2,866.0 1048.3,874.9 1053.1,883.8 1057.3,892.7 1061.1,901.5 1064.6,910.4 1067.6,919.3 1070.2,928.2 1072.4,937.0 1074.2,945.9 1075.5,954.8 1076.4,963.7 1076.9,972.6 1076.9,981.4 1076.7,990.3 1076.2,999.2Z" fill="#5c5c5c"/><path d="M1060.0,999.2 1060.5,990.3 1060.5,981.4 1059.7,972.6 1058.4,963.7 1056.7,954.8 1054.4,945.9 1051.7,937.0 1048.6,928.2 1045.0,919.3 1041.1,910.4 1036.9,901.5 1032.2,892.7 1027.2,883.8 1022.1,874.9 1016.6,866.0 1010.8,857.2 1004.8,848.3 998.6,839.4 992.0,830.5 985.3,821.7 978.1,812.8 970.5,803.9 962.7,795.0 954.7,786.1 946.6,777.3 938.4,768.4 930.4,759.5 922.3,750.6 914.1,741.8 905.8,732.9 897.6,724.0 889.3,715.1 881.1,706.3 872.8,697.4 864.6,688.5 857.0,679.6 849.4,670.8 841.8,661.9 833.8,653.0 825.8,644.1 817.8,635.3 809.9,626.4 802.1,617.5 827.1,617.5 834.9,626.4 842.8,635.3 850.8,644.1 859.1,653.0 867.6,661.9 876.7,670.8 885.7,679.6 894.9,688.5 903.5,697.4 912.1,706.3 920.6,715.1 929.1,724.0 937.6,732.9 945.8,741.8 954.0,750.6 962.1,759.5 970.0,768.4 977.6,777.3 984.8,786.1 991.9,795.0 998.8,803.9 1005.4,812.8 1012.2,821.7 1018.8,830.5 1025.2,839.4 1031.3,848.3 1037.0,857.2 1042.4,866.0 1047.5,874.9 1052.3,883.8 1056.5,892.7 1060.3,901.5 1063.8,910.4 1066.8,919.3 1069.4,928.2 1071.6,937.0 1073.4,945.9 1074.7,954.8 1075.6,963.7 1076.1,972.6 1076.1,981.4 1075.9,990.3 1075.4,999.2Z" fill="#737373"/><path d="M1060.7,999.2 1061.2,990.3 1061.2,981.4 1060.4,972.6 1059.1,963.7 1057.4,954.8 1055.1,945.9 1052.4,937.0 1049.3,928.2 1045.7,919.3 1041.8,910.4 1037.6,901.5 1032.9,892.7 1027.9,883.8 1022.8,874.9 1017.3,866.0 1011.5,857.2 1005.5,848.3 999.3,839.4 992.7,830.5 986.0,821.7 978.8,812.8 971.2,803.9 963.4,795.0 955.4,786.1 947.3,777.3 939.1,768.4 931.1,759.5 923.0,750.6 914.8,741.8 906.5,732.9 898.3,724.0 890.0,715.1 881.8,706.3 873.5,697.4 865.3,688.5 857.7,679.6 850.1,670.8 842.5,661.9 834.5,653.0 826.5,644.1 818.5,635.3 810.6,626.4 802.8,617.5 826.4,617.5 834.2,626.4 842.1,635.3 850.1,644.1 858.4,653.0 866.9,661.9 876.0,670.8 885.0,679.6 894.2,688.5 902.8,697.4 911.4,706.3 919.9,715.1 928.4,724.0 936.9,732.9 945.1,741.8 953.3,750.6 961.4,759.5 969.3,768.4 976.9,777.3 984.1,786.1 991.2,795.0 998.1,803.9 1004.7,812.8 1011.5,821.7 1018.1,830.5 1024.5,839.4 1030.6,848.3 1036.3,857.2 1041.7,866.0 1046.8,874.9 1051.6,883.8 1055.8,892.7 1059.6,901.5 1063.1,910.4 1066.1,919.3 1068.7,928.2 1070.9,937.0 1072.7,945.9 1074.0,954.8 1074.9,963.7 1075.4,972.6 1075.4,981.4 1075.2,990.3 1074.7,999.2Z" fill="#808080"/><path d="M1062.0,999.2 1062.5,990.3 1062.5,981.4 1061.7,972.6 1060.4,963.7 1058.7,954.8 1056.4,945.9 1053.7,937.0 1050.6,928.2 1047.0,919.3 1043.1,910.4 1038.9,901.5 1034.2,892.7 1029.2,883.8 1024.1,874.9 1018.6,866.0 1012.8,857.2 1006.8,848.3 1000.6,839.4 994.0,830.5 987.3,821.7 980.1,812.8 972.5,803.9 964.7,795.0 956.7,786.1 948.6,777.3 940.4,768.4 932.4,759.5 924.3,750.6 916.1,741.8 907.8,732.9 899.6,724.0 891.3,715.1 883.1,706.3 874.8,697.4 866.6,688.5 859.0,679.6 851.4,670.8 843.8,661.9 835.8,653.0 827.8,644.1 819.8,635.3 811.9,626.4 804.1,617.5 825.1,617.5 832.9,626.4 840.8,635.3 848.8,644.1 857.1,653.0 865.6,661.9 874.7,670.8 883.7,679.6 892.9,688.5 901.5,697.4 910.1,706.3 918.6,715.1 927.1,724.0 935.6,732.9 943.8,741.8 952.0,750.6 960.1,759.5 968.0,768.4 975.6,777.3 982.8,786.1 989.9,795.0 996.8,803.9 1003.4,812.8 1010.2,821.7 1016.8,830.5 1023.2,839.4 1029.3,848.3 1035.0,857.2 1040.4,866.0 1045.5,874.9 1050.3,883.8 1054.5,892.7 1058.3,901.5 1061.8,910.4 1064.8,919.3 1067.4,928.2 1069.6,937.0 1071.4,945.9 1072.7,954.8 1073.6,963.7 1074.1,972.6 1074.1,981.4 1073.9,990.3 1073.4,999.2Z" fill="#999999"/><path d="M1063.4,999.2 1063.9,990.3 1063.9,981.4 1063.1,972.6 1061.8,963.7 1060.1,954.8 1057.8,945.9 1055.1,937.0 1052.0,928.2 1048.4,919.3 1044.5,910.4 1040.3,901.5 1035.6,892.7 1030.6,883.8 1025.5,874.9 1020.0,866.0 1014.2,857.2 1008.2,848.3 1002.0,839.4 995.4,830.5 988.7,821.7 981.5,812.8 973.9,803.9 966.1,795.0 958.1,786.1 950.0,777.3 941.8,768.4 933.8,759.5 925.7,750.6 917.5,741.8 909.2,732.9 901.0,724.0 892.7,715.1 884.5,706.3 876.2,697.4 868.0,688.5 860.4,679.6 852.8,670.8 845.2,661.9 837.2,653.0 829.2,644.1 821.2,635.3 813.3,626.4 805.5,617.5 823.7,617.5 831.5,626.4 839.4,635.3 847.4,644.1 855.7,653.0 864.2,661.9 873.3,670.8 882.3,679.6 891.5,688.5 900.1,697.4 908.7,706.3 917.2,715.1 925.7,724.0 934.2,732.9 942.4,741.8 950.6,750.6 958.7,759.5 966.6,768.4 974.2,777.3 981.4,786.1 988.5,795.0 995.4,803.9 1002.0,812.8 1008.8,821.7 1015.4,830.5 1021.8,839.4 1027.9,848.3 1033.6,857.2 1039.0,866.0 1044.1,874.9 1048.9,883.8 1053.1,892.7 1056.9,901.5 1060.4,910.4 1063.4,919.3 1066.0,928.2 1068.2,937.0 1070.0,945.9 1071.3,954.8 1072.2,963.7 1072.7,972.6 1072.7,981.4 1072.5,990.3 1072.0,999.2Z" fill="#bdbdbd"/><path d="M1064.5,999.2 1065.0,990.3 1065.0,981.4 1064.2,972.6 1062.9,963.7 1061.2,954.8 1058.9,945.9 1056.2,937.0 1053.1,928.2 1049.5,919.3 1045.6,910.4 1041.4,901.5 1036.7,892.7 1031.7,883.8 1026.6,874.9 1021.1,866.0 1015.3,857.2 1009.3,848.3 1003.1,839.4 996.5,830.5 989.8,821.7 982.6,812.8 975.0,803.9 967.2,795.0 959.2,786.1 951.1,777.3 942.9,768.4 934.9,759.5 926.8,750.6 918.6,741.8 910.3,732.9 902.1,724.0 893.8,715.1 885.6,706.3 877.3,697.4 869.1,688.5 861.5,679.6 853.9,670.8 846.3,661.9 838.3,653.0 830.3,644.1 822.3,635.3 814.4,626.4 806.6,617.5 822.6,617.5 830.4,626.4 838.3,635.3 846.3,644.1 854.6,653.0 863.1,661.9 872.2,670.8 881.2,679.6 890.4,688.5 899.0,697.4 907.6,706.3 916.1,715.1 924.6,724.0 933.1,732.9 941.3,741.8 949.5,750.6 957.6,759.5 965.5,768.4 973.1,777.3 980.3,786.1 987.4,795.0 994.3,803.9 1000.9,812.8 1007.7,821.7 1014.3,830.5 1020.7,839.4 1026.8,848.3 1032.5,857.2 1037.9,866.0 1043.0,874.9 1047.8,883.8 1052.0,892.7 1055.8,901.5 1059.3,910.4 1062.3,919.3 1064.9,928.2 1067.1,937.0 1068.9,945.9 1070.2,954.8 1071.1,963.7 1071.6,972.6 1071.6,981.4 1071.4,990.3 1070.9,999.2Z" fill="#ebebeb"/><path d="M1066.0,999.2 1066.5,990.3 1066.5,981.4 1065.7,972.6 1064.4,963.7 1062.7,954.8 1060.4,945.9 1057.7,937.0 1054.6,928.2 1051.0,919.3 1047.1,910.4 1042.9,901.5 1038.2,892.7 1033.2,883.8 1028.1,874.9 1022.6,866.0 1016.8,857.2 1010.8,848.3 1004.6,839.4 998.0,830.5 991.3,821.7 984.1,812.8 976.5,803.9 968.7,795.0 960.7,786.1 952.6,777.3 944.4,768.4 936.4,759.5 928.3,750.6 920.1,741.8 911.8,732.9 903.6,724.0 895.3,715.1 887.1,706.3 878.8,697.4 870.6,688.5 863.0,679.6 855.4,670.8 847.8,661.9 839.8,653.0 831.8,644.1 823.8,635.3 815.9,626.4 808.1,617.5 821.1,617.5 828.9,626.4 836.8,635.3 844.8,644.1 853.1,653.0 861.6,661.9 870.7,670.8 879.7,679.6 888.9,688.5 897.5,697.4 906.1,706.3 914.6,715.1 923.1,724.0 931.6,732.9 939.8,741.8 948.0,750.6 956.1,759.5 964.0,768.4 971.6,777.3 978.8,786.1 985.9,795.0 992.8,803.9 999.4,812.8 1006.2,821.7 1012.8,830.5 1019.2,839.4 1025.3,848.3 1031.0,857.2 1036.4,866.0 1041.5,874.9 1046.3,883.8 1050.5,892.7 1054.3,901.5 1057.8,910.4 1060.8,919.3 1063.4,928.2 1065.6,937.0 1067.4,945.9 1068.7,954.8 1069.6,963.7 1070.1,972.6 1070.1,981.4 1069.9,990.3 1069.4,999.2Z" fill="#ffffff"/></g></g><g filter="url(#jD)"><rect x="122.0" y="987.5" width="1263.0" height="324.5" fill="#0d0d0d"/><g filter="url(#b8)"><path d="M100.0,962.2 100.0,971.3 100.0,980.3 100.0,989.4 100.0,998.4 100.0,1007.5 100.0,1016.5 100.0,1025.6 100.0,1034.6 100.0,1043.7 100.0,1052.7 100.0,1061.7 100.0,1070.8 100.0,1079.8 100.0,1088.9 100.0,1097.9 100.0,1107.0 100.0,1116.0 100.0,1125.1 100.0,1134.1 100.0,1143.2 100.0,1152.2 100.0,1161.3 100.0,1170.3 100.0,1179.4 100.0,1188.4 100.0,1197.5 100.0,1206.5 100.0,1215.5 100.0,1224.6 100.0,1233.6 100.0,1242.7 100.0,1251.7 100.0,1260.8 100.0,1269.8 100.0,1278.9 100.0,1287.9 100.0,1297.0 100.0,1306.0 100.0,1315.1 100.0,1324.1 100.0,1333.2 100.0,1342.2 100.0,1351.2 1300.0,1351.2 1300.0,1342.2 1300.0,1333.2 1300.0,1324.1 1300.0,1315.1 1300.0,1306.0 1300.0,1297.0 1300.0,1287.9 1300.0,1278.9 1300.0,1269.8 1300.0,1260.8 1300.0,1251.7 1300.0,1242.7 1300.0,1233.6 1300.0,1224.6 1300.0,1215.5 1300.0,1206.5 1300.0,1197.5 1300.0,1188.4 1300.0,1179.4 1300.0,1170.3 1300.0,1161.3 1300.0,1152.2 1300.0,1143.2 1300.0,1134.1 1300.0,1125.1 1300.0,1116.0 1300.0,1107.0 1300.0,1097.9 1300.0,1088.9 1300.0,1079.8 1300.0,1070.8 1300.0,1061.7 1300.0,1052.7 1300.0,1043.7 1300.0,1034.6 1300.0,1025.6 1300.0,1016.5 1300.0,1007.5 1300.0,998.4 1300.0,989.4 1300.0,980.3 1300.0,971.3 1300.0,962.2Z" fill="#111111"/><path d="M100.0,962.2 100.0,971.3 100.0,980.3 100.0,989.4 100.0,998.4 100.0,1007.5 100.0,1016.5 100.0,1025.6 100.0,1034.6 100.0,1043.7 100.0,1052.7 100.0,1061.7 100.0,1070.8 100.0,1079.8 100.0,1088.9 100.0,1097.9 100.0,1107.0 100.0,1116.0 100.0,1125.1 100.0,1134.1 100.0,1143.2 100.0,1152.2 100.0,1161.3 100.0,1170.3 100.0,1179.4 100.0,1188.4 100.0,1197.5 100.0,1206.5 100.0,1215.5 100.0,1224.6 100.0,1233.6 100.0,1242.7 100.0,1251.7 100.0,1260.8 100.0,1269.8 100.0,1278.9 100.0,1287.9 100.0,1297.0 100.0,1306.0 100.0,1315.1 100.0,1324.1 100.0,1333.2 100.0,1342.2 100.0,1351.2 1210.0,1351.2 1210.0,1342.2 1210.0,1333.2 1210.0,1324.1 1210.0,1315.1 1210.0,1306.0 1210.0,1297.0 1210.0,1287.9 1210.0,1278.9 1210.0,1269.8 1210.0,1260.8 1210.0,1251.7 1210.0,1242.7 1210.0,1233.6 1210.0,1224.6 1210.0,1215.5 1210.0,1206.5 1210.0,1197.5 1210.0,1188.4 1210.0,1179.4 1210.0,1170.3 1210.0,1161.3 1210.0,1152.2 1210.1,1143.2 1210.4,1134.1 1210.6,1125.1 1210.9,1116.0 1211.2,1107.0 1211.5,1097.9 1211.8,1088.9 1212.0,1079.8 1212.3,1070.8 1212.6,1061.7 1212.9,1052.7 1213.2,1043.7 1213.4,1034.6 1213.7,1025.6 1214.0,1016.5 1214.3,1007.5 1214.6,998.4 1214.8,989.4 1215.0,980.3 1215.0,971.3 1215.0,962.2Z" fill="#141414"/><path d="M100.0,962.2 100.0,971.3 100.0,980.3 100.0,989.4 100.0,998.4 100.0,1007.5 100.0,1016.5 100.0,1025.6 100.0,1034.6 100.0,1043.7 100.0,1052.7 100.0,1061.7 100.0,1070.8 100.0,1079.8 100.0,1088.9 100.0,1097.9 100.0,1107.0 100.0,1116.0 100.0,1125.1 100.0,1134.1 100.0,1143.2 100.0,1152.2 100.0,1161.3 100.0,1170.3 100.0,1179.4 100.0,1188.4 100.0,1197.5 100.0,1206.5 100.0,1215.5 100.0,1224.6 100.0,1233.6 100.0,1242.7 100.0,1251.7 100.0,1260.8 100.0,1269.8 100.0,1278.9 100.0,1287.9 100.0,1297.0 100.0,1306.0 100.0,1315.1 100.0,1324.1 100.0,1333.2 100.0,1342.2 100.0,1351.2 1150.0,1351.2 1150.0,1342.2 1150.0,1333.2 1150.0,1324.1 1150.0,1315.1 1150.0,1306.0 1150.3,1297.0 1150.6,1287.9 1150.9,1278.9 1151.2,1269.8 1151.4,1260.8 1151.7,1251.7 1152.0,1242.7 1152.3,1233.6 1152.6,1224.6 1152.8,1215.5 1153.1,1206.5 1153.4,1197.5 1153.7,1188.4 1154.0,1179.4 1154.2,1170.3 1154.5,1161.3 1154.8,1152.2 1155.1,1143.2 1155.4,1134.1 1155.6,1125.1 1155.9,1116.0 1156.2,1107.0 1156.5,1097.9 1156.8,1088.9 1157.0,1079.8 1157.3,1070.8 1157.6,1061.7 1157.9,1052.7 1158.2,1043.7 1158.4,1034.6 1158.7,1025.6 1159.0,1016.5 1159.3,1007.5 1159.6,998.4 1159.8,989.4 1160.0,980.3 1160.0,971.3 1160.0,962.2Z" fill="#1a1a1a"/><path d="M100.0,962.2 100.0,971.3 100.0,980.3 100.0,989.4 100.0,998.4 100.0,1007.5 100.0,1016.5 100.0,1025.6 100.0,1034.6 100.0,1043.7 100.0,1052.7 100.0,1061.7 100.0,1070.8 100.0,1079.8 100.0,1088.9 100.0,1097.9 100.0,1107.0 100.0,1116.0 100.0,1125.1 100.0,1134.1 100.0,1143.2 100.0,1152.2 100.0,1161.3 100.0,1170.3 100.0,1179.4 100.0,1188.4 100.0,1197.5 100.0,1206.5 100.0,1215.5 100.0,1224.6 100.0,1233.6 100.0,1242.7 100.0,1251.7 100.0,1260.8 100.0,1269.8 100.0,1278.9 100.0,1287.9 100.0,1297.0 100.0,1306.0 100.0,1315.1 100.0,1324.1 100.0,1333.2 100.0,1342.2 100.0,1351.2 1115.0,1351.2 1115.0,1342.2 1115.0,1333.2 1115.0,1324.1 1115.0,1315.1 1115.1,1306.0 1115.8,1297.0 1116.6,1287.9 1117.3,1278.9 1118.0,1269.8 1118.7,1260.8 1119.5,1251.7 1120.2,1242.7 1120.9,1233.6 1121.7,1224.6 1122.4,1215.5 1123.1,1206.5 1123.8,1197.5 1124.6,1188.4 1125.3,1179.4 1126.0,1170.3 1126.7,1161.3 1127.5,1152.2 1128.1,1143.2 1128.5,1134.1 1128.9,1125.1 1129.3,1116.0 1129.7,1107.0 1130.1,1097.9 1130.5,1088.9 1130.9,1079.8 1131.2,1070.8 1131.6,1061.7 1132.0,1052.7 1132.4,1043.7 1132.8,1034.6 1133.2,1025.6 1133.6,1016.5 1134.0,1007.5 1134.4,998.4 1134.8,989.4 1135.0,980.3 1135.0,971.3 1135.0,962.2Z" fill="#1f1f1f"/><path d="M100.0,962.2 100.0,971.3 100.0,980.3 100.0,989.4 100.0,998.4 100.0,1007.5 100.0,1016.5 100.0,1025.6 100.0,1034.6 100.0,1043.7 100.0,1052.7 100.0,1061.7 100.0,1070.8 100.0,1079.8 100.0,1088.9 100.0,1097.9 100.0,1107.0 100.0,1116.0 100.0,1125.1 100.0,1134.1 100.0,1143.2 100.0,1152.2 100.0,1161.3 100.0,1170.3 100.0,1179.4 100.0,1188.4 100.0,1197.5 100.0,1206.5 100.0,1215.5 100.0,1224.6 100.0,1233.6 100.0,1242.7 100.0,1251.7 100.0,1260.8 100.0,1269.8 100.0,1278.9 100.0,1287.9 100.0,1297.0 100.0,1306.0 100.0,1315.1 100.0,1324.1 100.0,1333.2 100.0,1342.2 100.0,1351.2 1090.0,1351.2 1090.0,1342.2 1090.0,1333.2 1090.0,1324.1 1090.0,1315.1 1090.1,1306.0 1091.3,1297.0 1092.4,1287.9 1093.5,1278.9 1094.6,1269.8 1095.8,1260.8 1096.9,1251.7 1098.0,1242.7 1099.1,1233.6 1100.2,1224.6 1101.4,1215.5 1102.5,1206.5 1103.6,1197.5 1104.7,1188.4 1105.8,1179.4 1107.0,1170.3 1108.1,1161.3 1109.2,1152.2 1110.2,1143.2 1110.7,1134.1 1111.3,1125.1 1111.8,1116.0 1112.4,1107.0 1113.0,1097.9 1113.5,1088.9 1114.1,1079.8 1114.6,1070.8 1115.2,1061.7 1115.8,1052.7 1116.3,1043.7 1116.9,1034.6 1117.4,1025.6 1118.0,1016.5 1118.6,1007.5 1119.1,998.4 1119.7,989.4 1120.0,980.3 1120.0,971.3 1120.0,962.2Z" fill="#242424"/><path d="M100.0,962.2 100.0,971.3 100.0,980.3 100.0,989.4 100.0,998.4 100.0,1007.5 100.0,1016.5 100.0,1025.6 100.0,1034.6 100.0,1043.7 100.0,1052.7 100.0,1061.7 100.0,1070.8 100.0,1079.8 100.0,1088.9 100.0,1097.9 100.0,1107.0 100.0,1116.0 100.0,1125.1 100.0,1134.1 100.0,1143.2 100.0,1152.2 100.0,1161.3 100.0,1170.3 100.0,1179.4 100.0,1188.4 100.0,1197.5 100.0,1206.5 100.0,1215.5 100.0,1224.6 100.0,1233.6 100.0,1242.7 100.0,1251.7 100.0,1260.8 100.0,1269.8 100.0,1278.9 100.0,1287.9 100.0,1297.0 100.0,1306.0 100.0,1315.1 100.0,1324.1 100.0,1333.2 100.0,1342.2 100.0,1351.2 1065.0,1351.2 1065.0,1342.2 1065.0,1333.2 1065.0,1324.1 1065.0,1315.1 1065.2,1306.0 1066.9,1297.0 1068.6,1287.9 1070.3,1278.9 1071.9,1269.8 1073.6,1260.8 1075.3,1251.7 1077.0,1242.7 1078.7,1233.6 1080.3,1224.6 1082.0,1215.5 1083.7,1206.5 1085.4,1197.5 1087.1,1188.4 1088.8,1179.4 1090.4,1170.3 1092.1,1161.3 1093.8,1152.2 1095.2,1143.2 1095.9,1134.1 1096.7,1125.1 1097.4,1116.0 1098.1,1107.0 1098.8,1097.9 1099.6,1088.9 1100.3,1079.8 1101.0,1070.8 1101.8,1061.7 1102.5,1052.7 1103.2,1043.7 1103.9,1034.6 1104.7,1025.6 1105.4,1016.5 1106.1,1007.5 1106.9,998.4 1107.6,989.4 1108.0,980.3 1108.0,971.3 1108.0,962.2Z" fill="#2a2a2a"/><path d="M100.0,962.2 100.0,971.3 100.0,980.3 100.0,989.4 100.0,998.4 100.0,1007.5 100.0,1016.5 100.0,1025.6 100.0,1034.6 100.0,1043.7 100.0,1052.7 100.0,1061.7 100.0,1070.8 100.0,1079.8 100.0,1088.9 100.0,1097.9 100.0,1107.0 100.0,1116.0 100.0,1125.1 100.0,1134.1 100.0,1143.2 100.0,1152.2 100.0,1161.3 100.0,1170.3 100.0,1179.4 100.0,1188.4 100.0,1197.5 100.0,1206.5 100.0,1215.5 100.0,1224.6 100.0,1233.6 100.0,1242.7 100.0,1251.7 100.0,1260.8 100.0,1269.8 100.0,1278.9 100.0,1287.9 100.0,1297.0 100.0,1306.0 100.0,1315.1 100.0,1324.1 100.0,1333.2 100.0,1342.2 100.0,1351.2 1040.0,1351.2 1040.0,1342.2 1040.0,1333.2 1040.0,1324.1 1040.0,1315.1 1040.3,1306.0 1042.9,1297.0 1045.4,1287.9 1047.9,1278.9 1050.4,1269.8 1052.9,1260.8 1055.5,1251.7 1058.0,1242.7 1060.5,1233.6 1063.0,1224.6 1065.5,1215.5 1068.1,1206.5 1070.6,1197.5 1073.1,1188.4 1075.6,1179.4 1078.2,1170.3 1080.7,1161.3 1083.2,1152.2 1085.2,1143.2 1086.1,1134.1 1086.9,1125.1 1087.8,1116.0 1088.6,1107.0 1089.4,1097.9 1090.3,1088.9 1091.1,1079.8 1092.0,1070.8 1092.8,1061.7 1093.6,1052.7 1094.5,1043.7 1095.3,1034.6 1096.2,1025.6 1097.0,1016.5 1097.8,1007.5 1098.7,998.4 1099.5,989.4 1100.0,980.3 1100.0,971.3 1100.0,962.2Z" fill="url(#gbase)"/></g><g filter="url(#b12)"><path d="M334.0,962.2 334.0,971.3 334.0,980.3 334.0,989.4 334.0,998.4 334.0,1007.5 334.0,1016.5 334.0,1025.6 334.0,1034.6 334.0,1043.7 334.0,1052.7 334.3,1061.7 335.1,1070.8 335.9,1079.8 336.7,1088.9 337.4,1097.9 338.2,1107.0 339.0,1116.0 341.5,1125.1 344.2,1134.1 346.8,1143.2 349.5,1152.2 352.1,1161.3 355.5,1170.3 360.6,1179.4 365.7,1188.4 370.9,1197.5 376.0,1206.5 379.9,1215.5 381.9,1224.6 384.0,1233.6 386.0,1242.7 388.1,1251.7 390.1,1260.8 392.2,1269.8 394.1,1278.9 395.4,1287.9 396.6,1297.0 397.8,1306.0 399.1,1315.1 400.3,1324.1 401.5,1333.2 402.8,1342.2 404.0,1351.2 536.0,1351.2 534.8,1342.2 533.5,1333.2 532.3,1324.1 531.1,1315.1 529.8,1306.0 528.6,1297.0 527.4,1287.9 526.1,1278.9 524.2,1269.8 522.1,1260.8 520.1,1251.7 518.0,1242.7 516.0,1233.6 513.9,1224.6 511.9,1215.5 508.0,1206.5 502.9,1197.5 497.7,1188.4 492.6,1179.4 487.5,1170.3 484.1,1161.3 481.5,1152.2 478.8,1143.2 476.2,1134.1 473.5,1125.1 471.0,1116.0 470.2,1107.0 469.4,1097.9 468.7,1088.9 467.9,1079.8 467.1,1070.8 466.3,1061.7 466.0,1052.7 466.0,1043.7 466.0,1034.6 466.0,1025.6 466.0,1016.5 466.0,1007.5 466.0,998.4 466.0,989.4 466.0,980.3 466.0,971.3 466.0,962.2Z" fill="#282828"/><path d="M350.0,962.2 350.0,971.3 350.0,980.3 350.0,989.4 350.0,998.4 350.0,1007.5 350.0,1016.5 350.0,1025.6 350.0,1034.6 350.0,1043.7 350.0,1052.7 350.3,1061.7 351.1,1070.8 351.9,1079.8 352.7,1088.9 353.4,1097.9 354.2,1107.0 355.0,1116.0 357.5,1125.1 360.2,1134.1 362.8,1143.2 365.5,1152.2 368.1,1161.3 371.5,1170.3 376.6,1179.4 381.7,1188.4 386.9,1197.5 392.0,1206.5 395.9,1215.5 397.9,1224.6 400.0,1233.6 402.0,1242.7 404.1,1251.7 406.1,1260.8 408.2,1269.8 410.1,1278.9 411.4,1287.9 412.6,1297.0 413.8,1306.0 415.1,1315.1 416.3,1324.1 417.5,1333.2 418.8,1342.2 420.0,1351.2 520.0,1351.2 518.8,1342.2 517.5,1333.2 516.3,1324.1 515.1,1315.1 513.8,1306.0 512.6,1297.0 511.4,1287.9 510.1,1278.9 508.2,1269.8 506.1,1260.8 504.1,1251.7 502.0,1242.7 500.0,1233.6 497.9,1224.6 495.9,1215.5 492.0,1206.5 486.9,1197.5 481.7,1188.4 476.6,1179.4 471.5,1170.3 468.1,1161.3 465.5,1152.2 462.8,1143.2 460.2,1134.1 457.5,1125.1 455.0,1116.0 454.2,1107.0 453.4,1097.9 452.7,1088.9 451.9,1079.8 451.1,1070.8 450.3,1061.7 450.0,1052.7 450.0,1043.7 450.0,1034.6 450.0,1025.6 450.0,1016.5 450.0,1007.5 450.0,998.4 450.0,989.4 450.0,980.3 450.0,971.3 450.0,962.2Z" fill="#262626"/><path d="M366.0,962.2 366.0,971.3 366.0,980.3 366.0,989.4 366.0,998.4 366.0,1007.5 366.0,1016.5 366.0,1025.6 366.0,1034.6 366.0,1043.7 366.0,1052.7 366.3,1061.7 367.1,1070.8 367.9,1079.8 368.7,1088.9 369.4,1097.9 370.2,1107.0 371.0,1116.0 373.5,1125.1 376.2,1134.1 378.8,1143.2 381.5,1152.2 384.1,1161.3 387.5,1170.3 392.6,1179.4 397.7,1188.4 402.9,1197.5 408.0,1206.5 411.9,1215.5 413.9,1224.6 416.0,1233.6 418.0,1242.7 420.1,1251.7 422.1,1260.8 424.2,1269.8 426.1,1278.9 427.4,1287.9 428.6,1297.0 429.8,1306.0 431.1,1315.1 432.3,1324.1 433.5,1333.2 434.8,1342.2 436.0,1351.2 504.0,1351.2 502.8,1342.2 501.5,1333.2 500.3,1324.1 499.1,1315.1 497.8,1306.0 496.6,1297.0 495.4,1287.9 494.1,1278.9 492.2,1269.8 490.1,1260.8 488.1,1251.7 486.0,1242.7 484.0,1233.6 481.9,1224.6 479.9,1215.5 476.0,1206.5 470.9,1197.5 465.7,1188.4 460.6,1179.4 455.5,1170.3 452.1,1161.3 449.5,1152.2 446.8,1143.2 444.2,1134.1 441.5,1125.1 439.0,1116.0 438.2,1107.0 437.4,1097.9 436.7,1088.9 435.9,1079.8 435.1,1070.8 434.3,1061.7 434.0,1052.7 434.0,1043.7 434.0,1034.6 434.0,1025.6 434.0,1016.5 434.0,1007.5 434.0,998.4 434.0,989.4 434.0,980.3 434.0,971.3 434.0,962.2Z" fill="#242424"/></g><g filter="url(#b3)" style="mix-blend-mode:lighten"><path d="M243.6,962.2 243.0,971.3 242.4,980.3 243.3,989.4 245.3,998.4 247.3,1007.5 249.2,1016.5 251.0,1025.6 252.6,1034.6 254.0,1043.7 255.4,1052.7 256.7,1061.7 257.8,1070.8 258.1,1079.8 256.0,1088.9 253.8,1097.9 251.6,1107.0 248.7,1116.0 245.6,1125.1 241.7,1134.1 237.3,1143.2 232.8,1152.2 228.2,1161.3 223.8,1170.3 218.1,1179.4 212.4,1188.4 206.8,1197.5 198.6,1206.5 190.6,1215.5 182.2,1224.6 173.7,1233.6 163.1,1242.7 152.8,1251.7 143.6,1260.8 134.5,1269.8 124.7,1278.9 114.2,1287.9 102.3,1297.0 90.1,1306.0 77.8,1315.1 65.4,1324.1 53.0,1333.2 40.6,1342.2 28.1,1351.2 51.9,1351.2 64.3,1342.2 76.7,1333.2 89.2,1324.1 101.6,1315.1 114.2,1306.0 126.8,1297.0 139.1,1287.9 150.0,1278.9 160.2,1269.8 169.2,1260.8 178.2,1251.7 188.5,1242.7 198.9,1233.6 204.5,1224.6 210.1,1215.5 216.2,1206.5 221.9,1197.5 230.3,1188.4 238.7,1179.4 246.9,1170.3 253.2,1161.3 259.5,1152.2 265.8,1143.2 271.5,1134.1 276.9,1125.1 281.6,1116.0 286.1,1107.0 290.0,1097.9 293.7,1088.9 297.4,1079.8 299.1,1070.8 301.6,1061.7 304.3,1052.7 307.2,1043.7 310.1,1034.6 313.2,1025.6 316.5,1016.5 319.9,1007.5 323.4,998.4 326.9,989.4 329.1,980.3 329.7,971.3 330.4,962.2Z" fill="#2b2b2b"/><path d="M246.7,962.2 246.1,971.3 245.4,980.3 246.3,989.4 248.2,998.4 250.1,1007.5 251.8,1016.5 253.5,1025.6 255.0,1034.6 256.3,1043.7 257.6,1052.7 258.8,1061.7 259.8,1070.8 260.0,1079.8 257.9,1088.9 255.7,1097.9 253.4,1107.0 250.5,1116.0 247.5,1125.1 243.5,1134.1 239.2,1143.2 234.7,1152.2 230.2,1161.3 225.9,1170.3 220.4,1179.4 215.0,1188.4 210.0,1197.5 201.1,1206.5 192.7,1215.5 184.0,1224.6 175.3,1233.6 164.7,1242.7 154.3,1251.7 145.1,1260.8 136.0,1269.8 126.1,1278.9 115.7,1287.9 103.8,1297.0 91.6,1306.0 79.3,1315.1 66.9,1324.1 54.5,1333.2 42.0,1342.2 29.6,1351.2 50.4,1351.2 62.8,1342.2 75.3,1333.2 87.7,1324.1 100.1,1315.1 112.7,1306.0 125.4,1297.0 137.7,1287.9 148.5,1278.9 158.7,1269.8 167.7,1260.8 176.7,1251.7 186.9,1242.7 197.4,1233.6 202.7,1224.6 208.0,1215.5 213.6,1206.5 218.7,1197.5 227.7,1188.4 236.4,1179.4 244.8,1170.3 251.3,1161.3 257.6,1152.2 264.0,1143.2 269.7,1134.1 275.1,1125.1 279.8,1116.0 284.3,1107.0 288.1,1097.9 291.8,1088.9 295.5,1079.8 297.1,1070.8 299.5,1061.7 302.0,1052.7 304.8,1043.7 307.7,1034.6 310.7,1025.6 313.9,1016.5 317.2,1007.5 320.5,998.4 323.9,989.4 326.0,980.3 326.7,971.3 327.3,962.2Z" fill="#2e2e2e"/><path d="M249.7,962.2 249.1,971.3 248.5,980.3 249.3,989.4 251.1,998.4 252.8,1007.5 254.5,1016.5 256.1,1025.6 257.5,1034.6 258.7,1043.7 259.9,1052.7 261.0,1061.7 261.8,1070.8 262.0,1079.8 259.9,1088.9 257.7,1097.9 255.4,1107.0 252.5,1116.0 249.4,1125.1 245.4,1134.1 241.2,1143.2 236.8,1152.2 232.4,1161.3 228.3,1170.3 223.3,1179.4 219.6,1188.4 214.4,1197.5 205.2,1206.5 195.4,1215.5 186.0,1224.6 177.0,1233.6 166.3,1242.7 155.9,1251.7 146.7,1260.8 137.5,1269.8 127.7,1278.9 117.2,1287.9 105.3,1297.0 93.1,1306.0 80.9,1315.1 68.5,1324.1 56.0,1333.2 43.6,1342.2 31.2,1351.2 48.8,1351.2 61.3,1342.2 73.7,1333.2 86.1,1324.1 98.5,1315.1 111.2,1306.0 123.8,1297.0 136.1,1287.9 147.0,1278.9 157.2,1269.8 166.1,1260.8 175.1,1251.7 185.3,1242.7 195.7,1233.6 200.7,1224.6 205.3,1215.5 209.5,1206.5 214.4,1197.5 223.2,1188.4 233.4,1179.4 242.3,1170.3 249.0,1161.3 255.5,1152.2 262.0,1143.2 267.8,1134.1 273.2,1125.1 277.8,1116.0 282.3,1107.0 286.2,1097.9 289.8,1088.9 293.5,1079.8 295.1,1070.8 297.3,1061.7 299.8,1052.7 302.5,1043.7 305.2,1034.6 308.1,1025.6 311.2,1016.5 314.4,1007.5 317.6,998.4 320.9,989.4 323.0,980.3 323.6,971.3 324.3,962.2Z" fill="#303030"/><path d="M252.8,962.2 252.2,971.3 251.5,980.3 252.3,989.4 254.0,998.4 255.6,1007.5 257.2,1016.5 258.7,1025.6 260.0,1034.6 261.1,1043.7 262.3,1052.7 263.2,1061.7 264.0,1070.8 264.1,1079.8 262.0,1088.9 259.8,1097.9 257.5,1107.0 254.6,1116.0 251.5,1125.1 247.6,1134.1 243.4,1143.2 239.2,1152.2 235.3,1161.3 231.9,1170.3 228.4,1179.4 221.4,1188.4 214.4,1197.5 207.4,1206.5 200.3,1215.5 188.7,1224.6 178.9,1233.6 168.1,1242.7 157.7,1251.7 148.4,1260.8 139.2,1269.8 129.4,1278.9 118.9,1287.9 107.1,1297.0 94.9,1306.0 82.6,1315.1 70.2,1324.1 57.8,1333.2 45.4,1342.2 32.9,1351.2 47.1,1351.2 59.5,1342.2 71.9,1333.2 84.4,1324.1 96.8,1315.1 109.4,1306.0 122.1,1297.0 134.4,1287.9 145.3,1278.9 155.5,1269.8 164.4,1260.8 173.4,1251.7 183.5,1242.7 193.8,1233.6 198.0,1224.6 200.3,1215.5 207.4,1206.5 214.4,1197.5 221.4,1188.4 228.4,1179.4 238.7,1170.3 246.2,1161.3 253.1,1152.2 259.7,1143.2 265.6,1134.1 271.1,1125.1 275.7,1116.0 280.2,1107.0 284.1,1097.9 287.7,1088.9 291.4,1079.8 292.9,1070.8 295.0,1061.7 297.4,1052.7 300.0,1043.7 302.7,1034.6 305.5,1025.6 308.5,1016.5 311.6,1007.5 314.7,998.4 317.9,989.4 319.9,980.3 320.6,971.3 321.2,962.2Z" fill="#333333"/><path d="M255.9,962.2 255.3,971.3 254.6,980.3 255.3,989.4 257.0,998.4 258.5,1007.5 260.0,1016.5 261.4,1025.6 262.6,1034.6 263.7,1043.7 264.8,1052.7 265.6,1061.7 266.3,1070.8 266.5,1079.8 264.3,1088.9 262.1,1097.9 259.8,1107.0 257.0,1116.0 254.0,1125.1 250.1,1134.1 246.3,1143.2 242.9,1152.2 240.7,1161.3 235.3,1170.3 228.4,1179.4 221.4,1188.4 214.4,1197.5 207.4,1206.5 200.3,1215.5 193.3,1224.6 181.2,1233.6 170.3,1242.7 159.8,1251.7 150.5,1260.8 141.2,1269.8 131.3,1278.9 121.0,1287.9 109.1,1297.0 97.0,1306.0 84.8,1315.1 72.4,1324.1 59.9,1333.2 47.5,1342.2 35.1,1351.2 44.9,1351.2 57.3,1342.2 69.8,1333.2 82.2,1324.1 94.6,1315.1 107.3,1306.0 120.0,1297.0 132.4,1287.9 143.3,1278.9 153.5,1269.8 162.4,1260.8 171.3,1251.7 181.3,1242.7 191.5,1233.6 193.3,1224.6 200.3,1215.5 207.4,1206.5 214.4,1197.5 221.4,1188.4 228.4,1179.4 235.3,1170.3 240.7,1161.3 249.4,1152.2 256.8,1143.2 263.0,1134.1 268.6,1125.1 273.3,1116.0 277.8,1107.0 281.7,1097.9 285.4,1088.9 289.0,1079.8 290.6,1070.8 292.6,1061.7 294.9,1052.7 297.5,1043.7 300.1,1034.6 302.8,1025.6 305.7,1016.5 308.7,1007.5 311.8,998.4 314.8,989.4 316.8,980.3 317.5,971.3 318.1,962.2Z" fill="#363636"/><path d="M259.1,962.2 258.5,971.3 257.8,980.3 258.5,989.4 260.0,998.4 261.5,1007.5 262.9,1016.5 264.2,1025.6 265.4,1034.6 266.5,1043.7 267.5,1052.7 268.4,1061.7 269.0,1070.8 269.2,1079.8 267.1,1088.9 265.0,1097.9 262.8,1107.0 260.2,1116.0 257.6,1125.1 254.6,1134.1 251.6,1143.2 246.2,1152.2 240.7,1161.3 235.3,1170.3 228.4,1179.4 221.4,1188.4 214.4,1197.5 207.4,1206.5 200.3,1215.5 193.3,1224.6 186.3,1233.6 174.0,1242.7 163.0,1251.7 153.4,1260.8 143.8,1269.8 134.2,1278.9 124.0,1287.9 112.4,1297.0 100.6,1306.0 89.7,1315.1 77.3,1324.1 64.9,1333.2 52.4,1342.2 40.0,1351.2 40.0,1351.2 52.4,1342.2 64.9,1333.2 77.3,1324.1 89.7,1315.1 103.7,1306.0 116.8,1297.0 129.4,1287.9 140.5,1278.9 150.8,1269.8 159.5,1260.8 168.0,1251.7 177.6,1242.7 186.3,1233.6 193.3,1224.6 200.3,1215.5 207.4,1206.5 214.4,1197.5 221.4,1188.4 228.4,1179.4 235.3,1170.3 240.7,1161.3 246.2,1152.2 251.6,1143.2 258.6,1134.1 265.0,1125.1 270.1,1116.0 274.8,1107.0 278.9,1097.9 282.6,1088.9 286.3,1079.8 287.9,1070.8 289.9,1061.7 292.1,1052.7 294.7,1043.7 297.3,1034.6 299.9,1025.6 302.8,1016.5 305.7,1007.5 308.7,998.4 311.7,989.4 313.6,980.3 314.3,971.3 314.9,962.2Z" fill="#383838"/><path d="M262.4,962.2 261.8,971.3 261.2,980.3 261.8,989.4 263.3,998.4 264.7,1007.5 266.1,1016.5 267.4,1025.6 268.6,1034.6 269.8,1043.7 270.9,1052.7 271.8,1061.7 272.5,1070.8 272.9,1079.8 271.2,1088.9 270.0,1097.9 268.8,1107.0 265.1,1116.0 261.3,1125.1 256.6,1134.1 251.6,1143.2 246.2,1152.2 240.7,1161.3 235.3,1170.3 228.4,1179.4 221.4,1188.4 214.4,1197.5 207.4,1206.5 200.3,1215.5 193.3,1224.6 186.3,1233.6 175.8,1242.7 165.5,1251.7 156.4,1260.8 147.3,1269.8 137.3,1278.9 126.7,1287.9 114.6,1297.0 102.1,1306.0 89.7,1315.1 77.3,1324.1 64.9,1333.2 52.4,1342.2 40.0,1351.2 40.0,1351.2 52.4,1342.2 64.9,1333.2 77.3,1324.1 89.7,1315.1 102.1,1306.0 114.6,1297.0 126.7,1287.9 137.3,1278.9 147.3,1269.8 156.4,1260.8 165.5,1251.7 175.8,1242.7 186.3,1233.6 193.3,1224.6 200.3,1215.5 207.4,1206.5 214.4,1197.5 221.4,1188.4 228.4,1179.4 235.3,1170.3 240.7,1161.3 246.2,1152.2 251.6,1143.2 256.6,1134.1 261.3,1125.1 265.1,1116.0 268.8,1107.0 273.9,1097.9 278.5,1088.9 282.6,1079.8 284.4,1070.8 286.4,1061.7 288.8,1052.7 291.4,1043.7 294.1,1034.6 296.8,1025.6 299.6,1016.5 302.5,1007.5 305.4,998.4 308.4,989.4 310.3,980.3 310.9,971.3 311.6,962.2Z" fill="#3b3b3b"/><path d="M266.1,962.2 265.4,971.3 264.8,980.3 265.4,989.4 266.9,998.4 268.4,1007.5 269.8,1016.5 271.2,1025.6 272.6,1034.6 274.2,1043.7 276.2,1052.7 279.1,1061.7 278.5,1070.8 277.7,1079.8 274.8,1088.9 271.9,1097.9 268.8,1107.0 265.1,1116.0 261.3,1125.1 256.6,1134.1 251.6,1143.2 246.2,1152.2 240.7,1161.3 235.3,1170.3 228.4,1179.4 221.4,1188.4 214.4,1197.5 207.4,1206.5 200.3,1215.5 193.3,1224.6 186.3,1233.6 175.8,1242.7 165.5,1251.7 156.4,1260.8 147.3,1269.8 137.3,1278.9 126.7,1287.9 114.6,1297.0 102.1,1306.0 89.7,1315.1 77.3,1324.1 64.9,1333.2 52.4,1342.2 40.0,1351.2 40.0,1351.2 52.4,1342.2 64.9,1333.2 77.3,1324.1 89.7,1315.1 102.1,1306.0 114.6,1297.0 126.7,1287.9 137.3,1278.9 147.3,1269.8 156.4,1260.8 165.5,1251.7 175.8,1242.7 186.3,1233.6 193.3,1224.6 200.3,1215.5 207.4,1206.5 214.4,1197.5 221.4,1188.4 228.4,1179.4 235.3,1170.3 240.7,1161.3 246.2,1152.2 251.6,1143.2 256.6,1134.1 261.3,1125.1 265.1,1116.0 268.8,1107.0 271.9,1097.9 274.8,1088.9 277.7,1079.8 278.5,1070.8 279.1,1061.7 283.4,1052.7 287.0,1043.7 290.1,1034.6 293.0,1025.6 295.9,1016.5 298.8,1007.5 301.8,998.4 304.8,989.4 306.7,980.3 307.3,971.3 307.9,962.2Z" fill="#3d3d3d"/><path d="M270.2,962.2 269.5,971.3 268.9,980.3 269.6,989.4 271.2,998.4 272.9,1007.5 274.7,1016.5 276.9,1025.6 281.3,1034.6 280.6,1043.7 279.8,1052.7 279.1,1061.7 278.5,1070.8 277.7,1079.8 274.8,1088.9 271.9,1097.9 268.8,1107.0 265.1,1116.0 261.3,1125.1 256.6,1134.1 251.6,1143.2 246.2,1152.2 240.7,1161.3 235.3,1170.3 228.4,1179.4 221.4,1188.4 214.4,1197.5 207.4,1206.5 200.3,1215.5 193.3,1224.6 186.3,1233.6 175.8,1242.7 165.5,1251.7 156.4,1260.8 147.3,1269.8 137.3,1278.9 126.7,1287.9 114.6,1297.0 102.1,1306.0 89.7,1315.1 77.3,1324.1 64.9,1333.2 52.4,1342.2 40.0,1351.2 40.0,1351.2 52.4,1342.2 64.9,1333.2 77.3,1324.1 89.7,1315.1 102.1,1306.0 114.6,1297.0 126.7,1287.9 137.3,1278.9 147.3,1269.8 156.4,1260.8 165.5,1251.7 175.8,1242.7 186.3,1233.6 193.3,1224.6 200.3,1215.5 207.4,1206.5 214.4,1197.5 221.4,1188.4 228.4,1179.4 235.3,1170.3 240.7,1161.3 246.2,1152.2 251.6,1143.2 256.6,1134.1 261.3,1125.1 265.1,1116.0 268.8,1107.0 271.9,1097.9 274.8,1088.9 277.7,1079.8 278.5,1070.8 279.1,1061.7 279.8,1052.7 280.6,1043.7 281.3,1034.6 287.3,1025.6 291.0,1016.5 294.3,1007.5 297.5,998.4 300.6,989.4 302.6,980.3 303.2,971.3 303.8,962.2Z" fill="#404040"/><path d="M275.3,962.2 274.6,971.3 274.0,980.3 274.9,989.4 277.3,998.4 281.3,1007.5 282.8,1016.5 282.1,1025.6 281.3,1034.6 280.6,1043.7 279.8,1052.7 279.1,1061.7 278.5,1070.8 277.7,1079.8 274.8,1088.9 271.9,1097.9 268.8,1107.0 265.1,1116.0 261.3,1125.1 256.6,1134.1 251.6,1143.2 246.2,1152.2 240.7,1161.3 235.3,1170.3 228.4,1179.4 221.4,1188.4 214.4,1197.5 207.4,1206.5 200.3,1215.5 193.3,1224.6 186.3,1233.6 175.8,1242.7 165.5,1251.7 156.4,1260.8 147.3,1269.8 137.3,1278.9 126.7,1287.9 114.6,1297.0 102.1,1306.0 89.7,1315.1 77.3,1324.1 64.9,1333.2 52.4,1342.2 40.0,1351.2 40.0,1351.2 52.4,1342.2 64.9,1333.2 77.3,1324.1 89.7,1315.1 102.1,1306.0 114.6,1297.0 126.7,1287.9 137.3,1278.9 147.3,1269.8 156.4,1260.8 165.5,1251.7 175.8,1242.7 186.3,1233.6 193.3,1224.6 200.3,1215.5 207.4,1206.5 214.4,1197.5 221.4,1188.4 228.4,1179.4 235.3,1170.3 240.7,1161.3 246.2,1152.2 251.6,1143.2 256.6,1134.1 261.3,1125.1 265.1,1116.0 268.8,1107.0 271.9,1097.9 274.8,1088.9 277.7,1079.8 278.5,1070.8 279.1,1061.7 279.8,1052.7 280.6,1043.7 281.3,1034.6 282.1,1025.6 282.8,1016.5 285.9,1007.5 291.4,998.4 295.3,989.4 297.5,980.3 298.1,971.3 298.7,962.2Z" fill="#424242"/></g><g filter="url(#b3)" style="mix-blend-mode:lighten"><path d="M469.2,962.2 468.7,971.3 468.1,980.3 467.6,989.4 465.8,998.4 463.8,1007.5 461.8,1016.5 459.8,1025.6 457.8,1034.6 455.7,1043.7 452.8,1052.7 449.8,1061.7 446.9,1070.8 443.9,1079.8 440.3,1088.9 435.5,1097.9 430.7,1107.0 425.9,1116.0 421.1,1125.1 415.5,1134.1 409.4,1143.2 403.3,1152.2 397.2,1161.3 391.1,1170.3 383.1,1179.4 374.8,1188.4 366.5,1197.5 358.1,1206.5 348.0,1215.5 337.2,1224.6 326.4,1233.6 315.6,1242.7 305.4,1251.7 295.3,1260.8 285.1,1269.8 274.9,1278.9 264.6,1287.9 254.4,1297.0 243.2,1306.0 227.0,1315.1 213.6,1324.1 200.1,1333.2 186.7,1342.2 173.2,1351.2 206.8,1351.2 220.2,1342.2 233.6,1333.2 247.1,1324.1 260.5,1315.1 276.7,1306.0 287.8,1297.0 297.9,1287.9 308.1,1278.9 318.3,1269.8 328.4,1260.8 338.5,1251.7 348.6,1242.7 359.2,1233.6 370.0,1224.6 380.7,1215.5 390.8,1206.5 399.1,1197.5 407.4,1188.4 415.7,1179.4 423.8,1170.3 429.9,1161.3 436.0,1152.2 442.1,1143.2 448.2,1134.1 453.7,1125.1 458.5,1116.0 463.3,1107.0 468.1,1097.9 473.0,1088.9 476.7,1079.8 479.7,1070.8 482.7,1061.7 485.7,1052.7 488.8,1043.7 491.0,1034.6 493.0,1025.6 495.1,1016.5 497.1,1007.5 499.2,998.4 501.0,989.4 501.6,980.3 502.2,971.3 502.8,962.2Z" fill="#262626"/><path d="M470.8,962.2 470.2,971.3 469.7,980.3 469.1,989.4 467.4,998.4 465.4,1007.5 463.4,1016.5 461.4,1025.6 459.4,1034.6 457.3,1043.7 454.3,1052.7 451.4,1061.7 448.4,1070.8 445.5,1079.8 441.9,1088.9 437.1,1097.9 432.3,1107.0 427.5,1116.0 422.7,1125.1 417.1,1134.1 411.0,1143.2 404.9,1152.2 398.8,1161.3 392.7,1170.3 384.7,1179.4 376.4,1188.4 368.1,1197.5 359.7,1206.5 349.6,1215.5 338.8,1224.6 328.0,1233.6 317.2,1242.7 307.0,1251.7 296.9,1260.8 286.7,1269.8 276.5,1278.9 266.2,1287.9 256.0,1297.0 244.8,1306.0 228.6,1315.1 215.2,1324.1 201.7,1333.2 188.3,1342.2 174.8,1351.2 205.2,1351.2 218.6,1342.2 232.1,1333.2 245.5,1324.1 259.0,1315.1 275.1,1306.0 286.2,1297.0 296.4,1287.9 306.6,1278.9 316.7,1269.8 326.8,1260.8 336.9,1251.7 347.0,1242.7 357.7,1233.6 368.4,1224.6 379.1,1215.5 389.2,1206.5 397.5,1197.5 405.8,1188.4 414.1,1179.4 422.2,1170.3 428.3,1161.3 434.4,1152.2 440.5,1143.2 446.6,1134.1 452.1,1125.1 456.9,1116.0 461.7,1107.0 466.5,1097.9 471.4,1088.9 475.1,1079.8 478.1,1070.8 481.1,1061.7 484.1,1052.7 487.2,1043.7 489.4,1034.6 491.4,1025.6 493.5,1016.5 495.5,1007.5 497.6,998.4 499.4,989.4 500.0,980.3 500.6,971.3 501.2,962.2Z" fill="#292929"/><path d="M472.4,962.2 471.8,971.3 471.3,980.3 470.7,989.4 468.9,998.4 467.0,1007.5 465.0,1016.5 463.0,1025.6 461.0,1034.6 458.9,1043.7 456.0,1052.7 453.0,1061.7 450.1,1070.8 447.1,1079.8 443.5,1088.9 438.7,1097.9 433.9,1107.0 429.1,1116.0 424.3,1125.1 418.7,1134.1 412.6,1143.2 406.5,1152.2 400.4,1161.3 394.3,1170.3 386.3,1179.4 378.0,1188.4 369.7,1197.5 361.4,1206.5 351.2,1215.5 340.4,1224.6 329.6,1233.6 318.8,1242.7 308.6,1251.7 298.5,1260.8 288.3,1269.8 278.1,1278.9 267.8,1287.9 257.6,1297.0 246.4,1306.0 230.2,1315.1 216.7,1324.1 203.3,1333.2 189.8,1342.2 176.4,1351.2 203.6,1351.2 217.0,1342.2 230.5,1333.2 243.9,1324.1 257.4,1315.1 273.5,1306.0 284.6,1297.0 294.8,1287.9 305.0,1278.9 315.1,1269.8 325.2,1260.8 335.3,1251.7 345.4,1242.7 356.0,1233.6 366.8,1224.6 377.5,1215.5 387.6,1206.5 395.9,1197.5 404.2,1188.4 412.5,1179.4 420.5,1170.3 426.6,1161.3 432.7,1152.2 438.8,1143.2 444.9,1134.1 450.5,1125.1 455.3,1116.0 460.1,1107.0 464.9,1097.9 469.7,1088.9 473.4,1079.8 476.5,1070.8 479.5,1061.7 482.5,1052.7 485.6,1043.7 487.8,1034.6 489.8,1025.6 491.9,1016.5 494.0,1007.5 496.0,998.4 497.9,989.4 498.5,980.3 499.0,971.3 499.6,962.2Z" fill="#2b2b2b"/><path d="M474.0,962.2 473.5,971.3 472.9,980.3 472.3,989.4 470.6,998.4 468.6,1007.5 466.6,1016.5 464.7,1025.6 462.7,1034.6 460.6,1043.7 457.6,1052.7 454.7,1061.7 451.7,1070.8 448.8,1079.8 445.2,1088.9 440.4,1097.9 435.6,1107.0 430.8,1116.0 426.0,1125.1 420.4,1134.1 414.3,1143.2 408.2,1152.2 402.1,1161.3 396.0,1170.3 388.0,1179.4 379.7,1188.4 371.4,1197.5 363.0,1206.5 352.9,1215.5 342.1,1224.6 331.2,1233.6 320.5,1242.7 310.3,1251.7 300.1,1260.8 289.9,1269.8 279.7,1278.9 269.5,1287.9 259.2,1297.0 248.0,1306.0 231.8,1315.1 218.4,1324.1 204.9,1333.2 191.5,1342.2 178.0,1351.2 202.0,1351.2 215.4,1342.2 228.9,1333.2 242.3,1324.1 255.8,1315.1 271.9,1306.0 283.0,1297.0 293.1,1287.9 303.3,1278.9 313.4,1269.8 323.5,1260.8 333.6,1251.7 343.7,1242.7 354.4,1233.6 365.1,1224.6 375.8,1215.5 385.9,1206.5 394.2,1197.5 402.5,1188.4 410.8,1179.4 418.9,1170.3 425.0,1161.3 431.1,1152.2 437.2,1143.2 443.3,1134.1 448.8,1125.1 453.6,1116.0 458.4,1107.0 463.2,1097.9 468.1,1088.9 471.8,1079.8 474.8,1070.8 477.8,1061.7 480.9,1052.7 483.9,1043.7 486.1,1034.6 488.2,1025.6 490.3,1016.5 492.3,1007.5 494.4,998.4 496.2,989.4 496.8,980.3 497.4,971.3 498.0,962.2Z" fill="#2e2e2e"/><path d="M475.8,962.2 475.2,971.3 474.6,980.3 474.1,989.4 472.3,998.4 470.3,1007.5 468.4,1016.5 466.4,1025.6 464.4,1034.6 462.3,1043.7 459.4,1052.7 456.5,1061.7 453.5,1070.8 450.6,1079.8 447.0,1088.9 442.2,1097.9 437.4,1107.0 432.6,1116.0 427.8,1125.1 422.2,1134.1 416.1,1143.2 410.0,1152.2 403.9,1161.3 397.8,1170.3 389.8,1179.4 381.5,1188.4 373.2,1197.5 364.8,1206.5 354.7,1215.5 343.9,1224.6 333.0,1233.6 322.3,1242.7 312.1,1251.7 301.9,1260.8 291.7,1269.8 281.5,1278.9 271.2,1287.9 260.9,1297.0 249.7,1306.0 233.5,1315.1 220.1,1324.1 206.7,1333.2 193.2,1342.2 179.8,1351.2 200.2,1351.2 213.7,1342.2 227.1,1333.2 240.6,1324.1 254.0,1315.1 270.1,1306.0 281.2,1297.0 291.4,1287.9 301.6,1278.9 311.7,1269.8 321.8,1260.8 331.8,1251.7 341.9,1242.7 352.6,1233.6 363.3,1224.6 374.0,1215.5 384.1,1206.5 392.4,1197.5 400.7,1188.4 409.0,1179.4 417.1,1170.3 423.1,1161.3 429.2,1152.2 435.3,1143.2 441.4,1134.1 447.0,1125.1 451.8,1116.0 456.6,1107.0 461.4,1097.9 466.3,1088.9 470.0,1079.8 473.0,1070.8 476.1,1061.7 479.1,1052.7 482.1,1043.7 484.4,1034.6 486.4,1025.6 488.5,1016.5 490.6,1007.5 492.6,998.4 494.5,989.4 495.1,980.3 495.7,971.3 496.2,962.2Z" fill="#303030"/><path d="M477.7,962.2 477.1,971.3 476.5,980.3 476.0,989.4 474.2,998.4 472.3,1007.5 470.3,1016.5 468.4,1025.6 466.4,1034.6 464.3,1043.7 461.4,1052.7 458.5,1061.7 455.5,1070.8 452.6,1079.8 449.0,1088.9 444.3,1097.9 439.5,1107.0 434.7,1116.0 429.8,1125.1 424.3,1134.1 418.2,1143.2 412.1,1152.2 406.0,1161.3 399.9,1170.3 391.9,1179.4 383.5,1188.4 375.2,1197.5 366.9,1206.5 356.7,1215.5 345.9,1224.6 335.0,1233.6 324.3,1242.7 314.1,1251.7 303.9,1260.8 293.6,1269.8 283.4,1278.9 273.1,1287.9 262.9,1297.0 251.7,1306.0 235.5,1315.1 222.0,1324.1 208.6,1333.2 195.1,1342.2 181.7,1351.2 198.3,1351.2 211.8,1342.2 225.2,1333.2 238.7,1324.1 252.1,1315.1 268.2,1306.0 279.3,1297.0 289.4,1287.9 299.6,1278.9 309.7,1269.8 319.8,1260.8 329.9,1251.7 339.9,1242.7 350.6,1233.6 361.3,1224.6 372.0,1215.5 382.0,1206.5 390.3,1197.5 398.6,1188.4 407.0,1179.4 415.0,1170.3 421.1,1161.3 427.2,1152.2 433.3,1143.2 439.4,1134.1 445.0,1125.1 449.8,1116.0 454.6,1107.0 459.4,1097.9 464.2,1088.9 467.9,1079.8 471.0,1070.8 474.1,1061.7 477.1,1052.7 480.2,1043.7 482.4,1034.6 484.5,1025.6 486.6,1016.5 488.6,1007.5 490.7,998.4 492.6,989.4 493.2,980.3 493.8,971.3 494.3,962.2Z" fill="#333333"/><path d="M480.0,962.2 479.4,971.3 478.8,980.3 478.3,989.4 476.6,998.4 474.6,1007.5 472.7,1016.5 470.8,1025.6 468.8,1034.6 466.8,1043.7 463.9,1052.7 461.0,1061.7 458.1,1070.8 455.2,1079.8 451.6,1088.9 446.9,1097.9 442.1,1107.0 437.3,1116.0 432.5,1125.1 426.9,1134.1 420.8,1143.2 414.7,1152.2 408.6,1161.3 402.5,1170.3 394.5,1179.4 386.1,1188.4 377.8,1197.5 369.5,1206.5 359.3,1215.5 348.4,1224.6 337.6,1233.6 326.7,1242.7 316.5,1251.7 306.3,1260.8 296.0,1269.8 285.8,1278.9 275.5,1287.9 265.2,1297.0 254.0,1306.0 237.7,1315.1 224.3,1324.1 210.8,1333.2 197.4,1342.2 184.0,1351.2 196.0,1351.2 209.5,1342.2 222.9,1333.2 236.4,1324.1 249.8,1315.1 265.9,1306.0 277.0,1297.0 287.1,1287.9 297.2,1278.9 307.3,1269.8 317.3,1260.8 327.4,1251.7 337.5,1242.7 348.1,1233.6 358.7,1224.6 369.4,1215.5 379.4,1206.5 387.7,1197.5 396.0,1188.4 404.4,1179.4 412.4,1170.3 418.5,1161.3 424.6,1152.2 430.7,1143.2 436.8,1134.1 442.3,1125.1 447.2,1116.0 452.0,1107.0 456.8,1097.9 461.6,1088.9 465.4,1079.8 468.5,1070.8 471.6,1061.7 474.6,1052.7 477.7,1043.7 480.0,1034.6 482.1,1025.6 484.2,1016.5 486.3,1007.5 488.4,998.4 490.3,989.4 490.9,980.3 491.5,971.3 492.0,962.2Z" fill="#363636"/><path d="M483.6,962.2 483.0,971.3 482.4,980.3 482.0,989.4 480.4,998.4 478.6,1007.5 476.9,1016.5 475.2,1025.6 473.7,1034.6 472.2,1043.7 469.2,1052.7 466.3,1061.7 463.3,1070.8 460.3,1079.8 456.6,1088.9 451.8,1097.9 447.0,1107.0 442.2,1116.0 437.4,1125.1 431.8,1134.1 425.7,1143.2 419.6,1152.2 413.5,1161.3 407.4,1170.3 399.4,1179.4 391.1,1188.4 382.8,1197.5 374.5,1206.5 364.3,1215.5 353.6,1224.6 342.8,1233.6 332.1,1242.7 322.0,1251.7 311.4,1260.8 300.6,1269.8 290.1,1278.9 279.6,1287.9 269.1,1297.0 257.7,1306.0 241.4,1315.1 227.9,1324.1 214.5,1333.2 201.0,1342.2 187.6,1351.2 192.4,1351.2 205.9,1342.2 219.3,1333.2 232.8,1324.1 246.2,1315.1 262.2,1306.0 273.1,1297.0 283.0,1287.9 293.0,1278.9 302.7,1269.8 312.2,1260.8 322.0,1251.7 332.1,1242.7 342.8,1233.6 353.6,1224.6 364.3,1215.5 374.5,1206.5 382.8,1197.5 391.1,1188.4 399.4,1179.4 407.4,1170.3 413.5,1161.3 419.6,1152.2 425.7,1143.2 431.8,1134.1 437.4,1125.1 442.2,1116.0 447.0,1107.0 451.8,1097.9 456.6,1088.9 460.3,1079.8 463.3,1070.8 466.3,1061.7 469.2,1052.7 472.2,1043.7 475.1,1034.6 477.6,1025.6 480.0,1016.5 482.3,1007.5 484.6,998.4 486.6,989.4 487.3,980.3 487.9,971.3 488.4,962.2Z" fill="#383838"/></g><rect x="122" y="1185.5" width="900" height="2.5" fill="#1f1f1f" opacity="0.13" filter="url(#b1)"/><ellipse cx="184.6" cy="1002" rx="1.6" ry="2.6" fill="#0a0a0a"/><ellipse cx="828.5" cy="1074.6" rx="1.4" ry="3" fill="#0d0d0d"/><g filter="url(#b2)"><path d="M984.8,962.2 985.0,971.3 985.2,980.3 984.3,989.4 982.6,998.4 980.7,1007.5 978.6,1016.5 976.3,1025.6 973.6,1034.6 970.7,1043.7 967.5,1052.7 964.2,1061.7 961.0,1070.8 957.5,1079.8 953.6,1088.9 949.2,1097.9 944.5,1107.0 939.5,1116.0 934.0,1125.1 928.1,1134.1 921.9,1143.2 915.6,1152.2 908.9,1161.3 901.9,1170.3 894.4,1179.4 886.5,1188.4 877.4,1197.5 867.6,1206.5 857.6,1215.5 847.0,1224.6 834.4,1233.6 820.9,1242.7 806.8,1251.7 792.9,1260.8 778.4,1269.8 763.9,1278.9 748.7,1287.9 732.8,1297.0 716.2,1306.0 698.6,1315.1 680.1,1324.1 660.9,1333.2 640.8,1342.2 620.0,1351.2 897.6,1351.2 913.8,1342.2 929.1,1333.2 943.8,1324.1 957.6,1315.1 970.7,1306.0 983.5,1297.0 995.6,1287.9 1006.9,1278.9 1017.6,1269.8 1027.0,1260.8 1035.8,1251.7 1043.1,1242.7 1049.8,1233.6 1056.1,1224.6 1062.4,1215.5 1068.1,1206.5 1073.0,1197.5 1077.6,1188.4 1082.5,1179.4 1086.9,1170.3 1090.8,1161.3 1094.4,1152.2 1097.5,1143.2 1100.2,1134.1 1102.4,1125.1 1104.3,1116.0 1106.0,1107.0 1107.5,1097.9 1108.6,1088.9 1109.7,1079.8 1110.6,1070.8 1111.3,1061.7 1112.1,1052.7 1113.2,1043.7 1114.2,1034.6 1114.9,1025.6 1115.4,1016.5 1115.8,1007.5 1115.9,998.4 1115.9,989.4 1115.7,980.3 1115.5,971.3 1115.2,962.2Z" fill="#343434"/><path d="M994.8,962.2 995.0,971.3 995.2,980.3 994.3,989.4 992.6,998.4 990.7,1007.5 988.6,1016.5 986.3,1025.6 983.6,1034.6 980.7,1043.7 977.5,1052.7 974.2,1061.7 971.0,1070.8 967.5,1079.8 963.6,1088.9 959.2,1097.9 954.5,1107.0 949.5,1116.0 944.0,1125.1 938.1,1134.1 931.9,1143.2 925.6,1152.2 918.9,1161.3 911.9,1170.3 904.4,1179.4 896.5,1188.4 887.4,1197.5 877.6,1206.5 867.6,1215.5 857.0,1224.6 844.4,1233.6 830.9,1242.7 816.8,1251.7 802.9,1260.8 788.4,1269.8 773.9,1278.9 758.7,1287.9 742.8,1297.0 726.2,1306.0 708.6,1315.1 690.1,1324.1 670.9,1333.2 650.8,1342.2 630.0,1351.2 891.6,1351.2 907.8,1342.2 923.1,1333.2 937.8,1324.1 951.6,1315.1 964.7,1306.0 977.5,1297.0 989.6,1287.9 1000.9,1278.9 1011.6,1269.8 1021.0,1260.8 1029.8,1251.7 1037.1,1242.7 1043.8,1233.6 1050.1,1224.6 1056.4,1215.5 1062.1,1206.5 1067.0,1197.5 1071.6,1188.4 1076.5,1179.4 1080.9,1170.3 1084.8,1161.3 1088.4,1152.2 1091.5,1143.2 1094.2,1134.1 1096.4,1125.1 1098.3,1116.0 1100.0,1107.0 1101.5,1097.9 1102.6,1088.9 1103.7,1079.8 1104.6,1070.8 1105.3,1061.7 1106.1,1052.7 1107.2,1043.7 1108.2,1034.6 1108.9,1025.6 1109.4,1016.5 1109.8,1007.5 1109.9,998.4 1109.9,989.4 1109.7,980.3 1109.5,971.3 1109.2,962.2Z" fill="#373737"/><path d="M1004.8,962.2 1005.0,971.3 1005.2,980.3 1004.3,989.4 1002.6,998.4 1000.7,1007.5 998.6,1016.5 996.3,1025.6 993.6,1034.6 990.7,1043.7 987.5,1052.7 984.2,1061.7 981.0,1070.8 977.5,1079.8 973.6,1088.9 969.2,1097.9 964.5,1107.0 959.5,1116.0 954.0,1125.1 948.1,1134.1 941.9,1143.2 935.6,1152.2 928.9,1161.3 921.9,1170.3 914.4,1179.4 906.5,1188.4 897.4,1197.5 887.6,1206.5 877.6,1215.5 867.0,1224.6 854.4,1233.6 840.9,1242.7 826.8,1251.7 812.9,1260.8 798.4,1269.8 783.9,1278.9 768.7,1287.9 752.8,1297.0 736.2,1306.0 718.6,1315.1 700.1,1324.1 680.9,1333.2 660.8,1342.2 640.0,1351.2 885.6,1351.2 901.8,1342.2 917.1,1333.2 931.8,1324.1 945.6,1315.1 958.7,1306.0 971.5,1297.0 983.6,1287.9 994.9,1278.9 1005.6,1269.8 1015.0,1260.8 1023.8,1251.7 1031.1,1242.7 1037.8,1233.6 1044.1,1224.6 1050.4,1215.5 1056.1,1206.5 1061.0,1197.5 1065.6,1188.4 1070.5,1179.4 1074.9,1170.3 1078.8,1161.3 1082.4,1152.2 1085.5,1143.2 1088.2,1134.1 1090.4,1125.1 1092.3,1116.0 1094.0,1107.0 1095.5,1097.9 1096.6,1088.9 1097.7,1079.8 1098.6,1070.8 1099.3,1061.7 1100.1,1052.7 1101.2,1043.7 1102.2,1034.6 1102.9,1025.6 1103.4,1016.5 1103.8,1007.5 1103.9,998.4 1103.9,989.4 1103.7,980.3 1103.5,971.3 1103.2,962.2Z" fill="#393939"/><path d="M1012.8,962.2 1013.0,971.3 1013.2,980.3 1012.3,989.4 1010.6,998.4 1008.7,1007.5 1006.6,1016.5 1004.3,1025.6 1001.6,1034.6 998.7,1043.7 995.5,1052.7 992.2,1061.7 989.0,1070.8 985.5,1079.8 981.6,1088.9 977.2,1097.9 972.5,1107.0 967.5,1116.0 962.0,1125.1 956.1,1134.1 949.9,1143.2 943.6,1152.2 936.9,1161.3 929.9,1170.3 922.4,1179.4 914.5,1188.4 905.4,1197.5 895.6,1206.5 885.6,1215.5 875.0,1224.6 862.4,1233.6 848.9,1242.7 834.8,1251.7 820.9,1260.8 806.4,1269.8 791.9,1278.9 776.7,1287.9 760.8,1297.0 744.2,1306.0 726.6,1315.1 708.1,1324.1 688.9,1333.2 668.8,1342.2 648.0,1351.2 879.6,1351.2 895.8,1342.2 911.1,1333.2 925.8,1324.1 939.6,1315.1 952.7,1306.0 965.5,1297.0 977.6,1287.9 988.9,1278.9 999.6,1269.8 1009.0,1260.8 1017.8,1251.7 1025.1,1242.7 1031.8,1233.6 1038.1,1224.6 1044.4,1215.5 1050.1,1206.5 1055.0,1197.5 1059.6,1188.4 1064.5,1179.4 1068.9,1170.3 1072.8,1161.3 1076.4,1152.2 1079.5,1143.2 1082.2,1134.1 1084.4,1125.1 1086.3,1116.0 1088.0,1107.0 1089.5,1097.9 1090.6,1088.9 1091.7,1079.8 1092.6,1070.8 1093.3,1061.7 1094.1,1052.7 1095.2,1043.7 1096.2,1034.6 1096.9,1025.6 1097.4,1016.5 1097.8,1007.5 1097.9,998.4 1097.9,989.4 1097.7,980.3 1097.5,971.3 1097.2,962.2Z" fill="#3d3d3d"/><path d="M1018.8,962.2 1019.0,971.3 1019.2,980.3 1018.3,989.4 1016.6,998.4 1014.7,1007.5 1012.6,1016.5 1010.3,1025.6 1007.6,1034.6 1004.7,1043.7 1001.5,1052.7 998.2,1061.7 995.0,1070.8 991.5,1079.8 987.6,1088.9 983.2,1097.9 978.5,1107.0 973.5,1116.0 968.0,1125.1 962.1,1134.1 955.9,1143.2 949.6,1152.2 942.9,1161.3 935.9,1170.3 928.4,1179.4 920.5,1188.4 911.4,1197.5 901.6,1206.5 891.6,1215.5 881.0,1224.6 868.4,1233.6 854.9,1242.7 840.8,1251.7 826.9,1260.8 812.4,1269.8 797.9,1278.9 782.7,1287.9 766.8,1297.0 750.2,1306.0 732.6,1315.1 714.1,1324.1 694.9,1333.2 674.8,1342.2 654.0,1351.2 873.6,1351.2 889.8,1342.2 905.1,1333.2 919.8,1324.1 933.6,1315.1 946.7,1306.0 959.5,1297.0 971.6,1287.9 982.9,1278.9 993.6,1269.8 1003.0,1260.8 1011.8,1251.7 1019.1,1242.7 1025.8,1233.6 1032.1,1224.6 1038.4,1215.5 1044.1,1206.5 1049.0,1197.5 1053.6,1188.4 1058.5,1179.4 1062.9,1170.3 1066.8,1161.3 1070.4,1152.2 1073.5,1143.2 1076.2,1134.1 1078.4,1125.1 1080.3,1116.0 1082.0,1107.0 1083.5,1097.9 1084.6,1088.9 1085.7,1079.8 1086.6,1070.8 1087.3,1061.7 1088.1,1052.7 1089.2,1043.7 1090.2,1034.6 1090.9,1025.6 1091.4,1016.5 1091.8,1007.5 1091.9,998.4 1091.9,989.4 1091.7,980.3 1091.5,971.3 1091.2,962.2Z" fill="#454545"/><path d="M1037.8,962.2 1038.0,971.3 1038.2,980.3 1037.6,989.4 1036.6,998.4 1035.3,1007.5 1033.8,1016.5 1032.1,1025.6 1030.0,1034.6 1027.7,1043.7 1025.2,1052.7 1022.4,1061.7 1019.6,1070.8 1016.5,1079.8 1013.1,1088.9 1009.1,1097.9 1004.8,1107.0 1000.2,1116.0 995.0,1125.1 989.5,1134.1 983.8,1143.2 977.9,1152.2 971.7,1161.3 965.1,1170.3 958.1,1179.4 950.6,1188.4 941.9,1197.5 932.6,1206.5 923.0,1215.5 912.9,1224.6 902.8,1233.6 892.1,1242.7 880.9,1251.7 869.9,1260.8 858.4,1269.8 846.7,1278.9 834.5,1287.9 821.5,1297.0 807.8,1306.0 793.1,1315.1 777.5,1324.1 761.2,1333.2 744.1,1342.2 726.2,1351.2 838.6,1351.2 856.0,1342.2 872.6,1333.2 888.5,1324.1 903.5,1315.1 917.9,1306.0 931.9,1297.0 945.2,1287.9 957.8,1278.9 969.7,1269.8 980.3,1260.8 990.3,1251.7 998.9,1242.7 1006.9,1233.6 1014.2,1224.6 1021.0,1215.5 1027.3,1206.5 1032.8,1197.5 1038.0,1188.4 1043.4,1179.4 1048.3,1170.3 1052.9,1161.3 1057.0,1152.2 1060.7,1143.2 1064.4,1134.1 1067.5,1125.1 1070.3,1116.0 1073.0,1107.0 1075.4,1097.9 1077.4,1088.9 1079.4,1079.8 1081.3,1070.8 1082.9,1061.7 1084.1,1052.7 1085.2,1043.7 1086.2,1034.6 1086.9,1025.6 1087.4,1016.5 1087.8,1007.5 1087.9,998.4 1087.9,989.4 1087.7,980.3 1087.5,971.3 1087.2,962.2Z" fill="#4c4c4c"/><path d="M1041.8,962.2 1042.0,971.3 1042.2,980.3 1041.6,989.4 1040.6,998.4 1039.3,1007.5 1037.8,1016.5 1036.1,1025.6 1034.0,1034.6 1031.7,1043.7 1029.2,1052.7 1026.4,1061.7 1023.6,1070.8 1020.5,1079.8 1017.1,1088.9 1013.1,1097.9 1008.8,1107.0 1004.2,1116.0 999.0,1125.1 993.5,1134.1 987.8,1143.2 981.9,1152.2 975.7,1161.3 969.1,1170.3 962.1,1179.4 954.6,1188.4 945.9,1197.5 936.6,1206.5 927.0,1215.5 916.9,1224.6 906.8,1233.6 896.1,1242.7 884.9,1251.7 873.9,1260.8 862.4,1269.8 850.7,1278.9 838.5,1287.9 825.5,1297.0 811.8,1306.0 797.1,1315.1 781.5,1324.1 765.2,1333.2 748.1,1342.2 730.2,1351.2 835.6,1351.2 853.0,1342.2 869.6,1333.2 885.5,1324.1 900.5,1315.1 914.9,1306.0 928.9,1297.0 942.2,1287.9 954.8,1278.9 966.7,1269.8 977.3,1260.8 987.3,1251.7 995.9,1242.7 1003.9,1233.6 1011.2,1224.6 1018.0,1215.5 1024.3,1206.5 1029.8,1197.5 1035.0,1188.4 1040.4,1179.4 1045.3,1170.3 1049.9,1161.3 1054.0,1152.2 1057.7,1143.2 1061.4,1134.1 1064.5,1125.1 1067.3,1116.0 1070.0,1107.0 1072.4,1097.9 1074.4,1088.9 1076.4,1079.8 1078.3,1070.8 1079.9,1061.7 1081.1,1052.7 1082.2,1043.7 1083.2,1034.6 1083.9,1025.6 1084.4,1016.5 1084.8,1007.5 1084.9,998.4 1084.9,989.4 1084.7,980.3 1084.5,971.3 1084.2,962.2Z" fill="#5c5c5c"/><path d="M1044.3,962.2 1044.5,971.3 1044.7,980.3 1044.1,989.4 1043.1,998.4 1041.8,1007.5 1040.3,1016.5 1038.6,1025.6 1036.5,1034.6 1034.2,1043.7 1031.7,1052.7 1028.9,1061.7 1026.1,1070.8 1023.0,1079.8 1019.6,1088.9 1015.6,1097.9 1011.3,1107.0 1006.7,1116.0 1001.5,1125.1 996.0,1134.1 990.3,1143.2 984.4,1152.2 978.2,1161.3 971.6,1170.3 964.6,1179.4 957.1,1188.4 948.4,1197.5 939.1,1206.5 929.5,1215.5 919.4,1224.6 909.3,1233.6 898.6,1242.7 887.4,1251.7 876.4,1260.8 864.9,1269.8 853.2,1278.9 841.0,1287.9 828.0,1297.0 814.3,1306.0 799.6,1315.1 784.0,1324.1 767.7,1333.2 750.6,1342.2 732.7,1351.2 833.6,1351.2 851.0,1342.2 867.6,1333.2 883.5,1324.1 898.5,1315.1 912.9,1306.0 926.9,1297.0 940.2,1287.9 952.8,1278.9 964.7,1269.8 975.3,1260.8 985.3,1251.7 993.9,1242.7 1001.9,1233.6 1009.2,1224.6 1016.0,1215.5 1022.3,1206.5 1027.8,1197.5 1033.0,1188.4 1038.4,1179.4 1043.3,1170.3 1047.9,1161.3 1052.0,1152.2 1055.7,1143.2 1059.4,1134.1 1062.5,1125.1 1065.3,1116.0 1068.0,1107.0 1070.4,1097.9 1072.4,1088.9 1074.4,1079.8 1076.3,1070.8 1077.9,1061.7 1079.1,1052.7 1080.2,1043.7 1081.2,1034.6 1081.9,1025.6 1082.4,1016.5 1082.8,1007.5 1082.9,998.4 1082.9,989.4 1082.7,980.3 1082.5,971.3 1082.2,962.2Z" fill="#737373"/><path d="M1045.8,962.2 1046.0,971.3 1046.2,980.3 1045.6,989.4 1044.6,998.4 1043.3,1007.5 1041.8,1016.5 1040.1,1025.6 1038.0,1034.6 1035.7,1043.7 1033.2,1052.7 1030.4,1061.7 1027.6,1070.8 1024.5,1079.8 1021.1,1088.9 1017.1,1097.9 1012.8,1107.0 1008.2,1116.0 1003.0,1125.1 997.5,1134.1 991.8,1143.2 985.9,1152.2 979.7,1161.3 973.1,1170.3 966.1,1179.4 958.6,1188.4 949.9,1197.5 940.6,1206.5 931.0,1215.5 920.9,1224.6 910.8,1233.6 900.1,1242.7 888.9,1251.7 877.9,1260.8 866.4,1269.8 854.7,1278.9 842.5,1287.9 829.5,1297.0 815.8,1306.0 801.1,1315.1 785.5,1324.1 769.2,1333.2 752.1,1342.2 734.2,1351.2 832.6,1351.2 850.0,1342.2 866.6,1333.2 882.5,1324.1 897.5,1315.1 911.9,1306.0 925.9,1297.0 939.2,1287.9 951.8,1278.9 963.7,1269.8 974.3,1260.8 984.3,1251.7 992.9,1242.7 1000.9,1233.6 1008.2,1224.6 1015.0,1215.5 1021.3,1206.5 1026.8,1197.5 1032.0,1188.4 1037.4,1179.4 1042.3,1170.3 1046.9,1161.3 1051.0,1152.2 1054.7,1143.2 1058.4,1134.1 1061.5,1125.1 1064.3,1116.0 1067.0,1107.0 1069.4,1097.9 1071.4,1088.9 1073.4,1079.8 1075.3,1070.8 1076.9,1061.7 1078.1,1052.7 1079.2,1043.7 1080.2,1034.6 1080.9,1025.6 1081.4,1016.5 1081.8,1007.5 1081.9,998.4 1081.9,989.4 1081.7,980.3 1081.5,971.3 1081.2,962.2Z" fill="#858585"/><path d="M1056.8,962.2 1057.0,971.3 1057.2,980.3 1056.9,989.4 1056.3,998.4 1055.6,1007.5 1054.6,1016.5 1053.3,1025.6 1051.8,1034.6 1050.0,1043.7 1047.9,1052.7 1045.4,1061.7 1042.7,1070.8 1039.7,1079.8 1036.4,1088.9 1032.5,1097.9 1028.3,1107.0 1023.8,1116.0 1018.8,1125.1 1013.4,1134.1 1007.8,1143.2 1001.9,1152.2 995.7,1161.3 989.1,1170.3 982.1,1179.4 974.6,1188.4 965.9,1197.5 956.6,1206.5 947.0,1215.5 936.9,1224.6 926.8,1233.6 916.1,1242.7 904.9,1251.7 893.9,1260.8 882.4,1269.8 870.7,1278.9 858.5,1287.9 845.5,1297.0 831.8,1306.0 817.1,1315.1 801.5,1324.1 785.2,1333.2 768.1,1342.2 750.2,1351.2 813.2,1351.2 831.5,1342.2 849.0,1333.2 865.8,1324.1 881.7,1315.1 897.0,1306.0 911.9,1297.0 926.1,1287.9 939.6,1278.9 952.4,1269.8 963.9,1260.8 974.8,1251.7 984.3,1242.7 993.1,1233.6 1001.3,1224.6 1008.3,1215.5 1014.8,1206.5 1020.5,1197.5 1025.9,1188.4 1031.5,1179.4 1036.7,1170.3 1041.5,1161.3 1045.8,1152.2 1049.7,1143.2 1053.1,1134.1 1056.1,1125.1 1058.7,1116.0 1061.1,1107.0 1063.3,1097.9 1065.1,1088.9 1067.0,1079.8 1068.6,1070.8 1070.0,1061.7 1071.1,1052.7 1072.2,1043.7 1073.2,1034.6 1073.9,1025.6 1074.4,1016.5 1074.8,1007.5 1074.9,998.4 1074.9,989.4 1074.7,980.3 1074.5,971.3 1074.2,962.2Z" fill="#999999"/><path d="M1059.3,962.2 1059.5,971.3 1059.7,980.3 1059.5,989.4 1059.0,998.4 1058.4,1007.5 1057.5,1016.5 1056.4,1025.6 1055.0,1034.6 1053.3,1043.7 1051.3,1052.7 1049.0,1061.7 1046.4,1070.8 1043.5,1079.8 1040.3,1088.9 1036.5,1097.9 1032.4,1107.0 1028.0,1116.0 1023.1,1125.1 1017.8,1134.1 1012.2,1143.2 1006.4,1152.2 1000.2,1161.3 993.6,1170.3 986.6,1179.4 979.1,1188.4 970.4,1197.5 961.1,1206.5 951.5,1215.5 941.4,1224.6 931.3,1233.6 920.6,1242.7 909.4,1251.7 898.4,1260.8 886.9,1269.8 875.2,1278.9 863.0,1287.9 850.0,1297.0 836.3,1306.0 821.6,1315.1 806.0,1324.1 789.7,1333.2 772.6,1342.2 754.7,1351.2 809.7,1351.2 828.0,1342.2 845.5,1333.2 862.3,1324.1 878.2,1315.1 893.5,1306.0 908.4,1297.0 922.6,1287.9 936.1,1278.9 948.9,1269.8 960.4,1260.8 971.3,1251.7 980.8,1242.7 989.6,1233.6 997.8,1224.6 1004.9,1215.5 1011.6,1206.5 1017.4,1197.5 1022.9,1188.4 1028.6,1179.4 1033.9,1170.3 1038.8,1161.3 1043.2,1152.2 1047.2,1143.2 1050.7,1134.1 1053.8,1125.1 1056.5,1116.0 1059.1,1107.0 1061.3,1097.9 1063.3,1088.9 1065.2,1079.8 1066.9,1070.8 1068.4,1061.7 1069.6,1052.7 1070.7,1043.7 1071.7,1034.6 1072.4,1025.6 1072.9,1016.5 1073.3,1007.5 1073.4,998.4 1073.4,989.4 1073.2,980.3 1073.0,971.3 1072.7,962.2Z" fill="#bdbdbd"/><path d="M1060.8,962.2 1061.0,971.3 1061.2,980.3 1061.0,989.4 1060.5,998.4 1059.9,1007.5 1059.0,1016.5 1057.9,1025.6 1056.5,1034.6 1054.8,1043.7 1052.8,1052.7 1050.5,1061.7 1047.9,1070.8 1045.0,1079.8 1041.8,1088.9 1038.0,1097.9 1033.9,1107.0 1029.5,1116.0 1024.6,1125.1 1019.3,1134.1 1013.7,1143.2 1007.9,1152.2 1001.7,1161.3 995.1,1170.3 988.1,1179.4 980.6,1188.4 971.9,1197.5 962.6,1206.5 953.0,1215.5 942.9,1224.6 932.8,1233.6 922.1,1242.7 910.9,1251.7 899.9,1260.8 888.4,1269.8 876.7,1278.9 864.5,1287.9 851.5,1297.0 837.8,1306.0 823.1,1315.1 807.5,1324.1 791.2,1333.2 774.1,1342.2 756.2,1351.2 808.2,1351.2 826.5,1342.2 844.0,1333.2 860.8,1324.1 876.7,1315.1 892.0,1306.0 906.9,1297.0 921.1,1287.9 934.6,1278.9 947.4,1269.8 958.9,1260.8 969.8,1251.7 979.3,1242.7 988.1,1233.6 996.3,1224.6 1003.4,1215.5 1010.1,1206.5 1015.9,1197.5 1021.4,1188.4 1027.1,1179.4 1032.4,1170.3 1037.3,1161.3 1041.7,1152.2 1045.7,1143.2 1049.2,1134.1 1052.3,1125.1 1055.0,1116.0 1057.6,1107.0 1059.8,1097.9 1061.8,1088.9 1063.7,1079.8 1065.4,1070.8 1066.9,1061.7 1068.1,1052.7 1069.2,1043.7 1070.2,1034.6 1070.9,1025.6 1071.4,1016.5 1071.8,1007.5 1071.9,998.4 1071.9,989.4 1071.7,980.3 1071.5,971.3 1071.2,962.2Z" fill="#ebebeb"/><path d="M1062.3,962.2 1062.5,971.3 1062.7,980.3 1062.5,989.4 1062.0,998.4 1061.4,1007.5 1060.5,1016.5 1059.4,1025.6 1058.0,1034.6 1056.3,1043.7 1054.3,1052.7 1052.0,1061.7 1049.4,1070.8 1046.5,1079.8 1043.3,1088.9 1039.5,1097.9 1035.4,1107.0 1031.0,1116.0 1026.1,1125.1 1020.8,1134.1 1015.2,1143.2 1009.4,1152.2 1003.2,1161.3 996.6,1170.3 989.6,1179.4 982.1,1188.4 973.4,1197.5 964.1,1206.5 954.5,1215.5 944.4,1224.6 934.3,1233.6 923.6,1242.7 912.4,1251.7 901.4,1260.8 889.9,1269.8 878.2,1278.9 866.0,1287.9 853.0,1297.0 839.3,1306.0 824.6,1315.1 809.0,1324.1 792.7,1333.2 775.6,1342.2 757.7,1351.2 806.7,1351.2 825.0,1342.2 842.5,1333.2 859.3,1324.1 875.2,1315.1 890.5,1306.0 905.4,1297.0 919.6,1287.9 933.1,1278.9 945.9,1269.8 957.4,1260.8 968.3,1251.7 977.8,1242.7 986.6,1233.6 994.8,1224.6 1001.9,1215.5 1008.6,1206.5 1014.4,1197.5 1019.9,1188.4 1025.6,1179.4 1030.9,1170.3 1035.8,1161.3 1040.2,1152.2 1044.2,1143.2 1047.7,1134.1 1050.8,1125.1 1053.5,1116.0 1056.1,1107.0 1058.3,1097.9 1060.3,1088.9 1062.2,1079.8 1063.9,1070.8 1065.4,1061.7 1066.6,1052.7 1067.7,1043.7 1068.7,1034.6 1069.4,1025.6 1069.9,1016.5 1070.3,1007.5 1070.4,998.4 1070.4,989.4 1070.2,980.3 1070.0,971.3 1069.7,962.2Z" fill="#ffffff"/></g></g><rect x="122.0" y="982.0" width="1263.0" height="5.5" fill="#fff"/><rect x="1268.3" y="352.8" width="82.79999999999995" height="62.80000000000001" fill="#fff" filter="url(#soft)"/><text x="1279.4" y="402.8" font-family="Liberation Sans" font-weight="bold" font-size="51" textLength="57.3" lengthAdjust="spacingAndGlyphs">(a)</text><rect x="1268.3" y="875" width="85.0" height="62.799999999999955" fill="#fff" filter="url(#soft)"/><text x="1279.4" y="925" font-family="Liberation Sans" font-weight="bold" font-size="51" textLength="57.3" lengthAdjust="spacingAndGlyphs">(c)</text><rect x="1268.5" y="1195.9" width="85.29999999999995" height="63.59999999999991" fill="#fff" filter="url(#soft)"/><text x="1279.7" y="1246.5" font-family="Liberation Sans" font-weight="bold" font-size="51" textLength="60.1" lengthAdjust="spacingAndGlyphs">(d)</text><rect x="605" y="140" width="121.3" height="274" fill="#fff" filter="url(#soft2)"/><rect x="630.2" y="160.6" width="23.6" height="215.4" fill="url(#cbar)"/><text x="670.5" y="177.3" font-family="Liberation Sans" font-size="29.5" fill="#000">10</text><text x="670.5" y="230.9" font-family="Liberation Sans" font-size="29.5" fill="#000">7,5</text><text x="670.5" y="285.2" font-family="Liberation Sans" font-size="29.5" fill="#000">5</text><text x="670.5" y="339.6" font-family="Liberation Sans" font-size="29.5" fill="#000">2,5</text><text x="670.5" y="393.8" font-family="Liberation Sans" font-size="29.5" fill="#000">0</text><text x="288.5" y="259" font-family="Liberation Sans" font-size="40" fill="#ffff2e" stroke="#ffff2e" stroke-width="0.8" textLength="65.5" lengthAdjust="spacingAndGlyphs">2nd</text><text x="287.7" y="311" font-family="Liberation Sans" font-size="40" fill="#ffff2e" stroke="#ffff2e" stroke-width="0.8" textLength="86.3" lengthAdjust="spacingAndGlyphs">edge</text><text x="496" y="278" font-family="Liberation Sans" font-size="40" fill="#ffff2e" stroke="#ffff2e" stroke-width="0.8" textLength="52.0" lengthAdjust="spacingAndGlyphs">1st</text><text x="494.7" y="330" font-family="Liberation Sans" font-size="40" fill="#ffff2e" stroke="#ffff2e" stroke-width="0.8" textLength="87.1" lengthAdjust="spacingAndGlyphs">edge</text><text x="804.75" y="330" font-family="Liberation Sans" font-size="40" fill="#ffff2e" stroke="#ffff2e" stroke-width="0.8" textLength="70.9" lengthAdjust="spacingAndGlyphs">PBG</text><text x="1121" y="321.6" font-family="Liberation Sans" font-size="40" fill="#ffff2e" stroke="#ffff2e" stroke-width="0.8" textLength="43.9" lengthAdjust="spacingAndGlyphs">TP</text><path d="M297.6,440.8 336.8,413.0 324.5,414.9 371.1,354.8 362.5,348.2 316.0,408.2 314.7,395.9Z" fill="#ffff2e"/><path d="M485.3,443.6 524.5,415.8 512.2,417.7 558.8,357.6 550.2,351.0 503.7,411.0 502.4,398.7Z" fill="#ffff2e"/><path d="M746.9,447.5 786.1,419.7 773.8,421.6 820.4,361.5 811.8,354.9 765.3,414.9 764.0,402.6Z" fill="#ffff2e"/><path d="M1065.2,438.5 1104.4,410.7 1092.1,412.6 1138.7,352.5 1130.1,345.9 1083.6,405.9 1082.3,393.6Z" fill="#ffff2e"/><rect x="121.5" y="466" width="1264.5" height="169" fill="#fffef0"/><rect x="1269.4" y="506.7" width="83.9" height="61.1" fill="#fff" filter="url(#soft)"/><text x="1279.4" y="555.5" font-family="Liberation Sans" font-weight="bold" font-size="51" textLength="60" lengthAdjust="spacingAndGlyphs">(b)</text><path d="M121.5,530.4H123.5V527.8H125.5V525.2H127.5V522.6H129.5H131.5V525.2H133.5V527.8H135.5V530.4H137.5H139.5H141.5H143.5H145.5V527.8H147.5V525.2H149.5V522.6H151.5V525.2H153.5V522.6H155.5H157.5H159.5H161.5V520.0H163.5H165.5V517.4H167.5V520.0H169.5H171.5V517.4H173.5H175.5H177.5H179.5H181.5V514.8H183.5H185.5H187.5V512.2H189.5V514.8H191.5V512.2H193.5H195.5V509.6H197.5H199.5V507.0H201.5H203.5H205.5V504.4H207.5H209.5H211.5V501.8H213.5V504.4H215.5V501.8H217.5H219.5H221.5V499.2H223.5H225.5H227.5H229.5V496.6H231.5H233.5H235.5H237.5V494.0H239.5H241.5H243.5V491.4H245.5H247.5H249.5V488.8H251.5H253.5H255.5H257.5V486.2H259.5H261.5H263.5H265.5H267.5H269.5H271.5H273.5V483.6H275.5H277.5H279.5H281.5V481.0H283.5H285.5H287.5H289.5H291.5V478.4H293.5H295.5H297.5H299.5H301.5V475.8H303.5H305.5H307.5H309.5H311.5H313.5H315.5H317.5H319.5H321.5H323.5H325.5H327.5V478.4H329.5V475.8H331.5H333.5H335.5H337.5H339.5H341.5H343.5H345.5H347.5H349.5H351.5H353.5H355.5H357.5H359.5H361.5H363.5H365.5H367.5H369.5H371.5H373.5H375.5H377.5H379.5H381.5H383.5H385.5H387.5H389.5H391.5H393.5H395.5H397.5H399.5H401.5V478.4H403.5H405.5H407.5H409.5H411.5H413.5V481.0H415.5H417.5H419.5H421.5H423.5H425.5H427.5H429.5V483.6H431.5H433.5H435.5H437.5V486.2H439.5H441.5H443.5V488.8H445.5H447.5H449.5V491.4H451.5H453.5H455.5V494.0H457.5H459.5H461.5V496.6H463.5H465.5H467.5V499.2H469.5H471.5H473.5V501.8H475.5H477.5H479.5H481.5V504.4H483.5H485.5H487.5V507.0H489.5H491.5H493.5V509.6H495.5H497.5H499.5H501.5H503.5V512.2H505.5V514.8H507.5H509.5H511.5V517.4H513.5H515.5H517.5H519.5V520.0H521.5H523.5V522.6H525.5H527.5H529.5V525.2H531.5H533.5H535.5H537.5V527.8H539.5H541.5H543.5V530.4H545.5H547.5H549.5V533.0H551.5H553.5H555.5H557.5H559.5V530.4H561.5V533.0H563.5H565.5V530.4H567.5V533.0H569.5H571.5H573.5H575.5H577.5H579.5H581.5H583.5H585.5H587.5H589.5H591.5V530.4H593.5H595.5V527.8H597.5H599.5V525.2H601.5H603.5H605.5V522.6H607.5V520.0H609.5H611.5H613.5V517.4H615.5H617.5H619.5V514.8H621.5H623.5H625.5H627.5V512.2H629.5H631.5H633.5H635.5V509.6H637.5H639.5H641.5V507.0H643.5H645.5H647.5H649.5V504.4H651.5H653.5H655.5H657.5V501.8H659.5H661.5H663.5V499.2H665.5V501.8H667.5V499.2H669.5H671.5H673.5H675.5V496.6H677.5H679.5H681.5H683.5V494.0H685.5H687.5H689.5H691.5H693.5V491.4H695.5V494.0H697.5V491.4H699.5H701.5H703.5H705.5H707.5H709.5H711.5H713.5H715.5V488.8H717.5H719.5H721.5V491.4H723.5V488.8H725.5H727.5H729.5H731.5H733.5H735.5H737.5H739.5V486.2H741.5V488.8H743.5H745.5V486.2H747.5V488.8H749.5H751.5H753.5V486.2H755.5V488.8H757.5V486.2H759.5V488.8H761.5V486.2H763.5V488.8H765.5H767.5H769.5H771.5H773.5H775.5H777.5H779.5H781.5H783.5H785.5H787.5H789.5H791.5H793.5H795.5H797.5H799.5V491.4H801.5V488.8H803.5V491.4H805.5H807.5H809.5H811.5V488.8H813.5V491.4H815.5H817.5V494.0H819.5V491.4H821.5V494.0H823.5H825.5V496.6H827.5H829.5H831.5H833.5H835.5H837.5V499.2H839.5H841.5H843.5H845.5H847.5H849.5H851.5H853.5H855.5H857.5V501.8H859.5V504.4H861.5H863.5H865.5H867.5H869.5V507.0H871.5H873.5H875.5H877.5H879.5H881.5H883.5H885.5V509.6H887.5V507.0H889.5V509.6H891.5H893.5H895.5H897.5V512.2H899.5V509.6H901.5V512.2H903.5H905.5H907.5H909.5H911.5H913.5H915.5H917.5H919.5H921.5H923.5H925.5H927.5V514.8H929.5H931.5V512.2H933.5H935.5V514.8H937.5H939.5V512.2H941.5V514.8H943.5H945.5H947.5H949.5H951.5H953.5V517.4H955.5V514.8H957.5V517.4H959.5V514.8H961.5H963.5H965.5H967.5V517.4H969.5V514.8H971.5V517.4H973.5H975.5H977.5H979.5H981.5V520.0H983.5H985.5H987.5H989.5H991.5H993.5V522.6H995.5H997.5H999.5H1001.5H1003.5H1005.5V525.2H1007.5H1009.5V527.8H1011.5V525.2H1013.5V527.8H1015.5V525.2H1017.5H1019.5V527.8H1021.5H1023.5V530.4H1025.5V527.8H1027.5H1029.5V530.4H1031.5H1033.5V533.0H1035.5V530.4H1037.5V533.0H1039.5V530.4H1041.5V536.5H1043.5V531.7H1045.5V532.0H1047.5V537.4H1049.5V540.2H1051.5V537.9H1053.5V540.7H1055.5V543.4H1057.5V546.0H1059.5V551.1H1061.5V551.2H1063.5V553.7H1065.5V558.7H1067.5V556.2H1069.5V561.0H1071.5V561.0H1073.5V560.9H1075.5V560.7H1077.5V570.2H1079.5V565.2H1081.5V567.4H1083.5V567.1H1085.5V569.2H1087.5V568.9H1089.5V573.3H1091.5V568.3H1093.5V567.9H1095.5V569.8H1097.5V569.4H1099.5V575.8H1101.5V577.6H1103.5V572.5H1105.5V572.0H1107.5V575.9H1109.5V582.0H1111.5V570.3H1113.5V580.7H1115.5V577.8H1117.5V583.7H1119.5V578.6H1121.5V582.1H1123.5V579.2H1125.5V580.5H1127.5V588.2H1129.5V587.3H1131.5V584.2H1133.5V583.3H1135.5V582.3H1137.5V585.5H1139.5V588.6H1141.5V587.5H1143.5V588.5H1145.5V587.3H1147.5V590.2H1149.5V591.0H1151.5V593.8H1153.5V596.5H1155.5V591.2H1157.5V589.9H1159.5V592.5H1161.5V593.1H1163.5V591.7H1165.5V594.1H1167.5V592.6H1169.5V598.7H1171.5V597.1H1173.5V599.3H1175.5V597.7H1177.5V597.9H1179.5V596.2H1181.5V600.0H1183.5V600.0H1185.5V601.9H1187.5V601.8H1189.5V600.0H1191.5V603.4H1193.5V599.7H1195.5V603.0H1197.5V602.7H1199.5V599.0H1201.5V605.5H1203.5V605.1H1205.5V604.6H1207.5V604.1H1209.5V603.6H1211.5V603.0H1213.5V604.0H1215.5V603.3H1217.5V605.9H1219.5V601.8H1221.5V605.8H1223.5V606.5H1225.5V605.6H1227.5V604.6H1229.5V608.3H1231.5V600.9H1233.5V607.5H1235.5V606.3H1237.5V606.6H1239.5V606.8H1241.5V603.9H1243.5V604.0H1245.5V607.0H1247.5V607.0H1249.5V605.4H1251.5V599.4H1253.5V606.4H1255.5V607.5H1257.5V607.1H1259.5V606.6H1261.5V601.9H1263.5V611.1H1265.5V609.0H1267.5V602.8H1269.5V614.2H1271.5V609.2H1273.5V612.2H1275.5V615.1H1277.5V623.1H1279.5V619.2H1281.5V623.0H1283.5V629.1H1285.5V628.8H1287.5V624.6H1289.5V625.4H1291.5V623.6H1293.5V626.6H1295.5V631.9" fill="none" stroke="#4a6fa8" stroke-width="1.8" stroke-linejoin="round"/><path d="M603.5,524 L605,550.5 L606.5,522" fill="none" stroke="#4a6fa8" stroke-width="1.8"/><rect x="121.5" y="466" width="1264.5" height="169" fill="none" stroke="#111" stroke-width="3"/><line x1="117.5" y1="466.9" x2="121.5" y2="466.9" stroke="#111" stroke-width="2.2"/><line x1="117.5" y1="470.8" x2="121.5" y2="470.8" stroke="#111" stroke-width="2.2"/><line x1="117.5" y1="479.4" x2="121.5" y2="479.4" stroke="#111" stroke-width="2.2"/><line x1="117.5" y1="490" x2="121.5" y2="490" stroke="#111" stroke-width="2.2"/><line x1="117.5" y1="503.2" x2="121.5" y2="503.2" stroke="#111" stroke-width="2.2"/><line x1="117.5" y1="516.3" x2="121.5" y2="516.3" stroke="#111" stroke-width="2.2"/><line x1="117.5" y1="540.1" x2="121.5" y2="540.1" stroke="#111" stroke-width="2.2"/><line x1="117.5" y1="585.6" x2="121.5" y2="585.6" stroke="#111" stroke-width="2.2"/><line x1="117.5" y1="594.8" x2="121.5" y2="594.8" stroke="#111" stroke-width="2.2"/><line x1="117.5" y1="608" x2="121.5" y2="608" stroke="#111" stroke-width="2.2"/><line x1="117.5" y1="621.9" x2="121.5" y2="621.9" stroke="#111" stroke-width="2.2"/><line x1="117.5" y1="635.1" x2="121.5" y2="635.1" stroke="#111" stroke-width="2.2"/><line x1="113.5" y1="576.4" x2="121.5" y2="576.4" stroke="#333" stroke-width="2.8"/><line x1="360.7" y1="636.5" x2="360.7" y2="646.5" stroke="#111" stroke-width="2"/><line x1="511.7" y1="636.5" x2="511.7" y2="642.5" stroke="#111" stroke-width="2"/><line x1="665.5" y1="636.5" x2="665.5" y2="646.5" stroke="#111" stroke-width="2"/><line x1="817.2" y1="636.5" x2="817.2" y2="642.5" stroke="#111" stroke-width="2"/><line x1="967.7" y1="636.5" x2="967.7" y2="646.5" stroke="#111" stroke-width="2"/><line x1="1117.8" y1="636.5" x2="1117.8" y2="642.5" stroke="#111" stroke-width="2"/><line x1="1273.9" y1="636.5" x2="1273.9" y2="646.5" stroke="#111" stroke-width="2"/><line x1="117" y1="119" x2="1384.5" y2="119" stroke="#333" stroke-width="3.4"/><line x1="122" y1="121.9" x2="1384.5" y2="121.9" stroke="#a8a8f0" stroke-width="1.4"/><line x1="172.3" y1="111" x2="172.3" y2="119" stroke="#222" stroke-width="2.2"/><line x1="450.4" y1="111" x2="450.4" y2="119" stroke="#222" stroke-width="2.2"/><line x1="745.5" y1="111" x2="745.5" y2="119" stroke="#222" stroke-width="2.2"/><line x1="1064.5" y1="111" x2="1064.5" y2="119" stroke="#222" stroke-width="2.2"/><line x1="307.9" y1="116" x2="307.9" y2="119" stroke="#222" stroke-width="2"/><line x1="595.7" y1="116" x2="595.7" y2="119" stroke="#222" stroke-width="2"/><line x1="905.8" y1="116" x2="905.8" y2="119" stroke="#222" stroke-width="2"/><line x1="1230.6" y1="116" x2="1230.6" y2="119" stroke="#222" stroke-width="2"/><line x1="117" y1="1313" x2="1386" y2="1313" stroke="#111" stroke-width="2.8"/><line x1="358" y1="1313" x2="358" y2="1325" stroke="#111" stroke-width="2.4"/><line x1="663.4" y1="1313" x2="663.4" y2="1325" stroke="#111" stroke-width="2.4"/><line x1="966.2" y1="1313" x2="966.2" y2="1325" stroke="#111" stroke-width="2.4"/><line x1="1271.6" y1="1313" x2="1271.6" y2="1325" stroke="#111" stroke-width="2.4"/><line x1="509.5" y1="1313" x2="509.5" y2="1319" stroke="#111" stroke-width="2.2"/><line x1="815" y1="1313" x2="815" y2="1319" stroke="#111" stroke-width="2.2"/><line x1="1116.7" y1="1313" x2="1116.7" y2="1319" stroke="#111" stroke-width="2.2"/><line x1="110.7" y1="449.8" x2="119.7" y2="449.8" stroke="#222" stroke-width="3"/><line x1="115.5" y1="413.1" x2="119.5" y2="413.1" stroke="#222" stroke-width="2.6"/><line x1="110.7" y1="376.3" x2="119.7" y2="376.3" stroke="#222" stroke-width="3"/><line x1="115.5" y1="339.6" x2="119.5" y2="339.6" stroke="#222" stroke-width="2.6"/><line x1="110.7" y1="302.8" x2="119.7" y2="302.8" stroke="#222" stroke-width="3"/><line x1="115.5" y1="266.1" x2="119.5" y2="266.1" stroke="#222" stroke-width="2.6"/><line x1="110.7" y1="229.3" x2="119.7" y2="229.3" stroke="#222" stroke-width="3"/><line x1="115.5" y1="192.6" x2="119.5" y2="192.6" stroke="#222" stroke-width="2.6"/><line x1="110.7" y1="155.8" x2="119.7" y2="155.8" stroke="#222" stroke-width="3"/><line x1="115.5" y1="119.1" x2="119.5" y2="119.1" stroke="#222" stroke-width="2.6"/><line x1="110.7" y1="984.5" x2="119.7" y2="984.5" stroke="#222" stroke-width="3"/><line x1="115.5" y1="947.8" x2="119.5" y2="947.8" stroke="#222" stroke-width="2.6"/><line x1="110.7" y1="911.1" x2="119.7" y2="911.1" stroke="#222" stroke-width="3"/><line x1="115.5" y1="874.4" x2="119.5" y2="874.4" stroke="#222" stroke-width="2.6"/><line x1="110.7" y1="837.7" x2="119.7" y2="837.7" stroke="#222" stroke-width="3"/><line x1="115.5" y1="801.0" x2="119.5" y2="801.0" stroke="#222" stroke-width="2.6"/><line x1="110.7" y1="764.3" x2="119.7" y2="764.3" stroke="#222" stroke-width="3"/><line x1="115.5" y1="727.6" x2="119.5" y2="727.6" stroke="#222" stroke-width="2.6"/><line x1="110.7" y1="690.9" x2="119.7" y2="690.9" stroke="#222" stroke-width="3"/><line x1="115.5" y1="654.2" x2="119.5" y2="654.2" stroke="#222" stroke-width="2.6"/><line x1="110.7" y1="984.2" x2="119.7" y2="984.2" stroke="#222" stroke-width="3"/><line x1="115.5" y1="1021.0" x2="119.5" y2="1021.0" stroke="#222" stroke-width="2.6"/><line x1="110.7" y1="1057.7" x2="119.7" y2="1057.7" stroke="#222" stroke-width="3"/><line x1="115.5" y1="1094.3" x2="119.5" y2="1094.3" stroke="#222" stroke-width="2.6"/><line x1="110.7" y1="1131.0" x2="119.7" y2="1131.0" stroke="#222" stroke-width="3"/><line x1="115.5" y1="1167.8" x2="119.5" y2="1167.8" stroke="#222" stroke-width="2.6"/><line x1="110.7" y1="1204.5" x2="119.7" y2="1204.5" stroke="#222" stroke-width="3"/><line x1="115.5" y1="1241.2" x2="119.5" y2="1241.2" stroke="#222" stroke-width="2.6"/><line x1="110.7" y1="1277.8" x2="119.7" y2="1277.8" stroke="#222" stroke-width="3"/><line x1="115.5" y1="1314.5" x2="119.5" y2="1314.5" stroke="#222" stroke-width="2.6"/><text x="617.2" y="36.6" font-family="Liberation Sans" font-size="40" textLength="272" lengthAdjust="spacingAndGlyphs">Frequency (eV)</text><text x="619.4" y="1425.2" font-family="Liberation Sans" font-size="40" textLength="313.5" lengthAdjust="spacingAndGlyphs">Wavelength (nm)</text><text x="171" y="95" font-family="Liberation Sans" font-size="35" text-anchor="middle">1.36</text><text x="457" y="95" font-family="Liberation Sans" font-size="35" text-anchor="middle">1.32</text><text x="742.4" y="95" font-family="Liberation Sans" font-size="35" text-anchor="middle">1.28</text><text x="1067.6" y="95" font-family="Liberation Sans" font-size="35" text-anchor="middle">1.24</text><text x="358.7" y="1366.6" font-family="Liberation Sans" font-size="36" text-anchor="middle">930</text><text x="660.2" y="1366.6" font-family="Liberation Sans" font-size="36" text-anchor="middle">960</text><text x="964.3" y="1366.6" font-family="Liberation Sans" font-size="36" text-anchor="middle">990</text><text x="1277.3" y="1366.6" font-family="Liberation Sans" font-size="36" text-anchor="middle">1020</text><text transform="translate(96.9,157.6) rotate(-90)" font-family="Liberation Sans" font-size="37.5" text-anchor="middle" textLength="41.5" lengthAdjust="spacingAndGlyphs">40</text><text transform="translate(97.6,298.5) rotate(-90)" font-family="Liberation Sans" font-size="37.5" text-anchor="middle" textLength="41.5" lengthAdjust="spacingAndGlyphs">20</text><text transform="translate(99.6,447.3) rotate(-90)" font-family="Liberation Sans" font-size="37.5" text-anchor="middle" textLength="20" lengthAdjust="spacingAndGlyphs">0</text><text transform="translate(101.1,696.8) rotate(-90)" font-family="Liberation Sans" font-size="37.5" text-anchor="middle" textLength="41.5" lengthAdjust="spacingAndGlyphs">40</text><text transform="translate(95.6,841.1) rotate(-90)" font-family="Liberation Sans" font-size="37.5" text-anchor="middle" textLength="41.5" lengthAdjust="spacingAndGlyphs">20</text><text transform="translate(97.1,987.6) rotate(-90)" font-family="Liberation Sans" font-size="37.5" text-anchor="middle" textLength="20" lengthAdjust="spacingAndGlyphs">0</text><text transform="translate(95.9,1132.0) rotate(-90)" font-family="Liberation Sans" font-size="37.5" text-anchor="middle" textLength="41.5" lengthAdjust="spacingAndGlyphs">20</text><text transform="translate(98.1,1272.9) rotate(-90)" font-family="Liberation Sans" font-size="37.5" text-anchor="middle" textLength="41.5" lengthAdjust="spacingAndGlyphs">40</text><text transform="translate(38.2,388) rotate(-90) scale(1.2,1)" font-family="Liberation Serif" font-style="italic" font-size="44">θ</text><text transform="translate(36.3,355.4) rotate(-90)" font-family="Liberation Sans" font-size="42" textLength="173.6" lengthAdjust="spacingAndGlyphs">(degrees)</text><text transform="translate(44.4,1083.9) rotate(-90) scale(1.2,1)" font-family="Liberation Serif" font-style="italic" font-size="44">θ</text><text transform="translate(42.6,1052.8) rotate(-90)" font-family="Liberation Sans" font-size="42" textLength="172.2" lengthAdjust="spacingAndGlyphs">(degrees)</text><text transform="translate(40,666.6) rotate(-90)" font-family="Liberation Sans" font-size="41" textLength="216.3" lengthAdjust="spacingAndGlyphs">QD PL (a.u.)</text></svg></body></html>
